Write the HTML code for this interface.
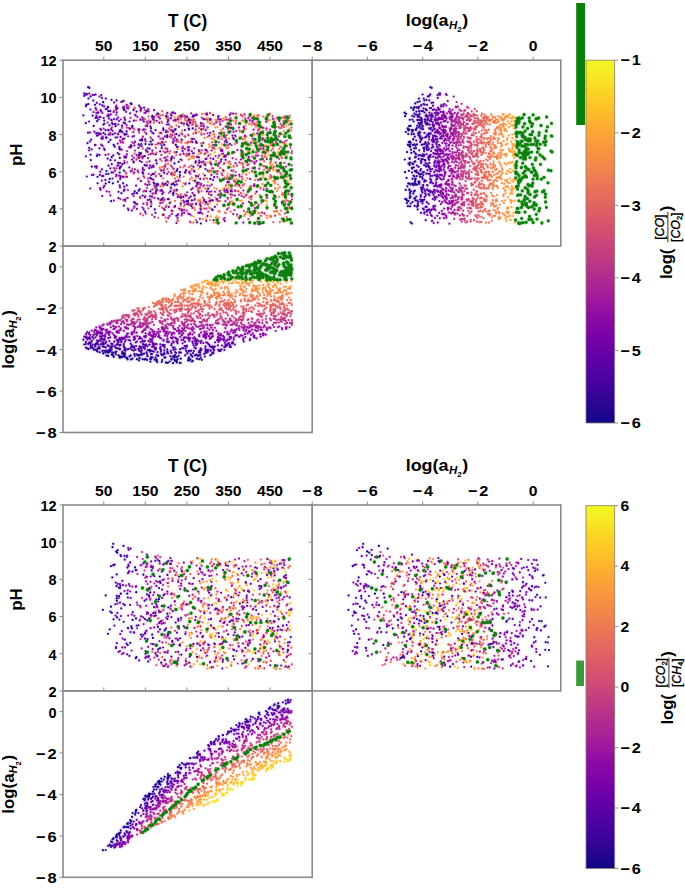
<!DOCTYPE html><html><head><meta charset="utf-8"><style>html,body{margin:0;padding:0;background:#fff;width:685px;height:894px;overflow:hidden}svg{display:block;font-family:"Liberation Sans",sans-serif}</style></head><body><svg width="685" height="894" viewBox="0 0 685 894" font-family="Liberation Sans, sans-serif" font-weight="bold"><rect width="685" height="894" fill="#fff"/><defs><filter id="bl" x="-5%" y="-5%" width="110%" height="110%"><feGaussianBlur in="SourceGraphic" stdDeviation="1.40" result="w"/><feComponentTransfer in="w" result="w2"><feFuncA type="linear" slope="0.35"/></feComponentTransfer><feGaussianBlur in="SourceGraphic" stdDeviation="0.50" result="s"/><feMerge><feMergeNode in="w2"/><feMergeNode in="s"/></feMerge></filter><clipPath id="cA1"><rect x="63.0" y="60.2" width="249.2" height="185.9"/></clipPath><clipPath id="cB1"><rect x="312.2" y="60.2" width="248.6" height="185.9"/></clipPath><clipPath id="cC1"><rect x="63.0" y="246.1" width="249.2" height="186.4"/></clipPath><clipPath id="cA2"><rect x="63.0" y="505.0" width="249.2" height="185.9"/></clipPath><clipPath id="cB2"><rect x="312.2" y="505.0" width="248.6" height="185.9"/></clipPath><clipPath id="cC2"><rect x="63.0" y="690.9" width="249.2" height="186.4"/></clipPath></defs><g clip-path="url(#cA1)"><g filter="url(#bl)"><g fill="none" stroke-linecap="round"><path stroke="#da5a6a" stroke-width="2.20" d="M160.2 169.3h0M285.3 145.2h0M161.6 191.3h0M285.1 203.2h0M248.7 164.2h0M275.2 156.6h0M188.2 118.3h0M180.5 118.4h0M182.0 160.3h0M253.8 205.3h0M143.4 156.3h0M176.5 193.8h0M252.7 211.4h0M149.2 182.7h0M186.9 155.9h0M264.7 139.7h0M220.9 195.2h0M154.2 120.8h0M162.3 111.2h0M178.8 180.1h0M185.1 194.7h0M162.5 214.8h0M229.9 120.4h0M243.2 167.8h0M192.0 125.0h0M280.2 173.0h0M285.2 118.4h0M180.2 167.2h0M181.6 122.7h0M162.7 115.2h0M266.3 151.2h0M285.3 191.9h0M209.6 208.0h0M181.1 194.7h0M165.6 217.6h0M243.4 144.7h0M270.1 163.0h0M173.8 182.5h0M159.5 206.1h0M243.0 139.3h0M220.1 168.0h0M243.7 153.5h0M287.1 145.8h0M280.6 166.0h0M203.2 186.5h0M219.2 133.2h0M170.8 126.3h0M175.1 178.6h0M195.8 204.4h0M288.4 201.2h0M189.7 166.5h0M160.4 115.5h0M226.4 126.7h0M283.3 117.5h0M277.4 178.7h0M214.6 137.0h0M225.9 185.4h0M202.2 150.4h0M209.7 162.3h0M280.1 165.7h0M144.9 119.2h0M251.2 199.2h0M270.8 145.3h0M270.5 175.0h0M249.2 197.6h0M275.0 122.4h0M284.4 143.4h0M263.6 128.0h0M143.1 215.3h0M275.1 154.8h0M221.5 154.1h0M233.3 171.3h0M166.4 221.7h0M221.1 180.5h0M228.6 207.9h0M235.8 182.2h0M190.6 122.8h0M166.6 115.0h0M223.0 128.7h0M274.8 139.5h0M201.6 191.3h0M138.9 178.3h0M174.2 174.2h0M200.9 153.2h0M230.9 178.4h0M233.4 170.4h0M137.4 157.1h0M189.1 121.2h0M245.5 141.7h0M199.3 128.2h0M273.2 168.4h0M143.0 148.5h0M270.5 217.0h0M163.2 199.7h0M246.3 174.6h0M180.7 205.7h0"/><path stroke="#d04d73" stroke-width="2.20" d="M283.7 201.0h0M191.4 138.8h0M242.8 185.6h0M152.3 152.5h0M176.7 141.7h0M167.5 169.1h0M188.0 200.7h0M188.6 135.4h0M223.6 205.1h0M284.7 141.6h0M151.4 204.0h0M283.6 120.9h0M290.0 202.3h0M271.3 150.5h0M226.7 135.1h0M261.1 137.9h0M291.4 127.6h0M148.4 208.4h0M193.9 119.7h0M138.0 129.4h0M238.6 184.5h0M220.4 148.2h0M287.9 183.5h0M259.1 145.5h0M282.1 157.8h0M200.4 201.6h0M169.2 128.4h0M202.2 113.8h0M140.7 156.4h0M274.2 205.7h0M216.8 163.6h0M236.2 159.3h0M289.5 115.9h0M258.5 115.2h0M163.8 200.8h0M256.8 142.5h0M273.8 195.1h0M155.4 144.5h0M198.8 192.6h0M150.7 200.7h0M139.1 132.7h0M146.5 151.4h0M174.8 152.6h0M217.6 221.4h0M195.9 220.2h0M162.2 207.8h0M242.6 179.0h0M246.2 123.0h0M140.5 198.1h0M235.8 172.0h0M244.7 143.2h0M133.9 108.8h0M185.4 118.9h0M197.9 189.7h0M212.2 142.3h0M208.3 211.7h0M278.4 178.5h0M148.7 116.5h0M272.5 115.9h0M160.6 202.6h0M134.6 153.5h0M187.9 134.7h0M226.0 178.3h0M260.5 179.2h0M273.6 146.2h0M235.9 123.6h0M263.1 166.0h0M170.6 130.3h0M280.6 123.9h0M136.6 204.5h0M145.5 129.5h0M148.4 154.5h0M167.6 156.7h0M282.5 219.8h0M182.6 115.1h0M134.4 129.4h0M291.9 151.1h0M278.5 127.2h0M140.6 111.3h0M132.2 168.9h0M264.2 161.3h0M285.0 213.4h0M243.0 185.1h0M252.0 156.5h0"/><path stroke="#e97257" stroke-width="2.20" d="M258.6 124.5h0M162.0 184.6h0M248.3 159.1h0M230.8 211.6h0M240.9 188.0h0M252.9 140.3h0M166.4 118.1h0M232.5 185.4h0M204.7 138.0h0M168.3 163.9h0M281.1 147.1h0M278.9 197.0h0M240.9 154.1h0M185.2 173.1h0M194.0 156.6h0M172.9 211.4h0M178.7 122.2h0M187.2 142.0h0M193.3 222.7h0M183.3 196.7h0M158.2 142.8h0M275.9 138.1h0M271.2 144.8h0M245.2 214.0h0M159.7 167.5h0M274.6 183.5h0M251.6 120.0h0M172.8 175.3h0M170.9 160.6h0M169.0 118.3h0M230.7 164.2h0M253.5 157.0h0M221.9 138.9h0M257.4 115.4h0M159.2 199.6h0M253.8 143.0h0M163.2 178.3h0M219.7 201.1h0M161.6 121.6h0M267.2 209.0h0M209.3 171.7h0M198.6 200.9h0M247.5 178.3h0M228.2 153.0h0M198.2 156.6h0M271.2 165.7h0M287.2 120.4h0M187.1 195.9h0M266.4 215.5h0M282.1 194.5h0M165.9 141.8h0M162.7 186.3h0M175.0 200.9h0M278.1 117.1h0M228.5 188.5h0M277.0 171.9h0M152.9 118.2h0M177.3 119.0h0M172.0 172.7h0M281.9 153.6h0M158.9 114.8h0M290.7 144.0h0M224.8 119.7h0M224.4 188.4h0M159.3 132.9h0M251.4 142.3h0M244.5 129.7h0M156.0 175.7h0M233.2 120.6h0M221.2 130.5h0M163.2 214.0h0M232.7 178.0h0M255.1 180.0h0M291.0 130.3h0M273.9 211.4h0M263.3 116.7h0M177.9 214.5h0M235.0 180.3h0M188.7 159.5h0M222.9 132.5h0M267.8 171.7h0M167.7 119.6h0M157.1 144.5h0M199.2 174.6h0M204.1 178.5h0M189.9 179.5h0M288.6 124.7h0M205.2 188.5h0M194.8 210.1h0M281.1 210.6h0M227.3 176.4h0M163.1 151.0h0M249.3 123.9h0M289.1 121.2h0M191.6 215.4h0M244.6 138.4h0M266.3 130.0h0M183.3 167.4h0M234.9 144.1h0M209.5 146.7h0M171.6 174.8h0M183.7 176.8h0M216.3 222.7h0M169.5 153.4h0"/><path stroke="#1b068d" stroke-width="2.20" d="M175.0 206.2h0M103.2 102.2h0M124.5 109.9h0M191.9 200.4h0M119.8 168.6h0M167.9 199.0h0M176.5 152.1h0M161.8 199.2h0M136.9 193.2h0M162.1 142.2h0M189.1 129.5h0M201.8 145.8h0M120.0 167.3h0M120.2 130.2h0M122.4 164.1h0M124.2 134.0h0M150.9 206.3h0M156.8 163.5h0M169.7 203.1h0M139.0 130.4h0M174.4 190.5h0M144.7 165.0h0M112.9 183.3h0M180.7 159.5h0M150.6 141.7h0M126.4 134.2h0M108.3 116.5h0M175.8 144.8h0M176.8 170.8h0M171.7 158.2h0M165.9 132.0h0M154.5 183.7h0M127.6 198.0h0M156.7 189.4h0M188.1 201.2h0M177.7 146.8h0M111.8 157.1h0M127.3 107.7h0M173.1 112.7h0M171.3 159.0h0M157.3 113.8h0M179.9 172.2h0M142.6 195.6h0M123.8 108.2h0M190.4 119.8h0M132.4 125.8h0M118.5 198.0h0M192.7 128.4h0M189.4 183.4h0M130.9 145.3h0M119.7 172.5h0M106.5 171.0h0M176.4 134.0h0M108.0 107.2h0M113.7 144.9h0M126.6 131.4h0M199.3 162.6h0M156.3 186.3h0M121.4 131.7h0M176.9 189.9h0M139.6 152.8h0M166.2 116.2h0M150.4 177.9h0M120.2 178.8h0M147.1 126.0h0"/><path stroke="#f68d45" stroke-width="2.20" d="M188.4 154.9h0M210.6 154.4h0M289.5 117.5h0M198.7 131.8h0M251.7 124.9h0M256.1 127.5h0M269.7 178.3h0M224.8 119.3h0M288.0 194.6h0M223.7 171.5h0M185.1 120.5h0M263.3 177.4h0M242.0 120.3h0M212.6 114.5h0M257.0 203.0h0M215.5 127.4h0M235.3 122.1h0M242.7 173.3h0M183.8 125.2h0M270.4 141.0h0M207.3 157.5h0M195.8 143.2h0M291.4 138.2h0M214.0 134.6h0M193.9 170.4h0M271.1 143.1h0M265.5 150.0h0M286.2 175.1h0M253.1 150.2h0M278.7 213.5h0M189.6 158.9h0M213.3 124.6h0M182.6 186.4h0M272.8 168.4h0M183.5 183.2h0M194.0 157.9h0M269.6 120.0h0M215.6 119.9h0M183.7 116.4h0M269.5 177.1h0M202.5 114.0h0M192.7 117.1h0M278.6 152.3h0M223.4 171.4h0M185.2 143.1h0M241.0 163.3h0M255.4 124.1h0M259.6 195.0h0M252.3 196.2h0M229.0 138.7h0M280.0 214.7h0M202.8 219.1h0M263.0 130.6h0M240.1 200.9h0M243.3 166.0h0M287.6 180.9h0M236.3 179.0h0M259.2 129.2h0M200.8 129.5h0M283.0 126.6h0M290.1 183.8h0M280.8 134.3h0M240.3 123.7h0M185.0 154.5h0M255.3 119.2h0M229.2 163.8h0M288.8 208.7h0M284.2 145.1h0M258.0 213.2h0M286.8 155.5h0M245.8 213.1h0M262.6 173.2h0M246.5 136.6h0M218.9 217.7h0M227.6 161.8h0M254.5 134.4h0M267.7 140.7h0M280.0 146.4h0M267.1 217.9h0M216.3 121.7h0M201.8 130.3h0M276.7 177.1h0M189.6 118.6h0M278.1 153.1h0M228.2 188.3h0M274.9 211.7h0M231.7 127.3h0M257.4 133.6h0M266.2 157.0h0M195.6 126.8h0M214.2 188.0h0M266.7 204.5h0M244.0 128.5h0M221.3 119.2h0M286.9 177.2h0M237.4 216.6h0M181.3 201.1h0M291.3 208.2h0"/><path stroke="#5502a4" stroke-width="2.20" d="M213.6 220.2h0M154.1 110.2h0M149.2 168.2h0M153.4 133.4h0M100.6 189.8h0M143.2 173.7h0M182.1 213.6h0M209.5 135.7h0M85.9 105.7h0M186.0 170.2h0M213.0 180.0h0M145.1 139.3h0M87.5 143.2h0M143.0 156.8h0M163.3 128.3h0M186.9 124.2h0M186.9 154.0h0M171.3 173.7h0M217.9 119.6h0M183.3 196.9h0M163.6 215.0h0M229.8 114.8h0M225.6 156.4h0M143.9 121.5h0M118.5 191.8h0M97.6 183.3h0M162.4 194.0h0M211.4 195.1h0M205.5 149.8h0M160.4 143.6h0M106.2 137.4h0M130.7 171.3h0M214.9 206.8h0M209.8 119.9h0M149.6 148.6h0M145.1 211.7h0M196.2 203.7h0M91.9 175.0h0M224.3 136.9h0M121.4 193.2h0M152.8 173.9h0M139.7 189.3h0M226.9 142.3h0M194.5 115.8h0M212.7 210.0h0M184.7 116.3h0M225.6 159.8h0M98.7 119.5h0M131.9 210.5h0M112.5 178.5h0M222.0 149.8h0M156.0 191.1h0M96.8 102.8h0M97.0 135.7h0M230.9 124.4h0M102.8 138.2h0M156.0 160.4h0M136.1 185.6h0M160.3 190.5h0M200.7 212.4h0M164.6 209.8h0M111.2 129.2h0M152.2 116.5h0M118.3 124.5h0M117.5 108.0h0M116.6 100.4h0M174.6 206.9h0M143.6 209.3h0M147.4 185.1h0M83.4 115.3h0M133.9 202.2h0M146.3 133.7h0M120.0 163.0h0M91.1 139.7h0M227.5 191.1h0M140.9 181.1h0M234.8 195.5h0M164.7 165.9h0M229.8 143.9h0M103.7 118.0h0M118.1 162.8h0M123.8 190.8h0M105.4 179.9h0M225.5 145.0h0M172.9 142.2h0M120.6 136.9h0M162.3 142.6h0M109.4 125.3h0M114.1 102.5h0M193.5 166.8h0M195.9 132.9h0M226.5 189.9h0"/><path stroke="#a21d9a" stroke-width="2.20" d="M211.0 171.2h0M145.8 213.6h0M242.9 203.4h0M282.0 203.4h0M164.0 208.8h0M225.4 201.2h0M214.9 191.7h0M165.8 206.9h0M236.2 131.1h0M243.4 158.3h0M256.7 155.7h0M110.1 133.2h0M146.8 121.5h0M148.0 158.1h0M142.9 130.0h0M137.4 117.0h0M264.6 156.6h0M109.3 191.8h0M196.3 126.0h0M103.7 128.6h0M248.3 118.2h0M179.7 177.1h0M249.8 120.4h0M161.8 189.9h0M191.2 113.3h0M187.3 121.2h0M184.8 172.3h0M133.3 132.2h0M258.0 121.5h0M254.5 124.5h0M266.9 188.8h0M249.6 116.2h0M248.1 168.9h0M199.9 218.8h0M247.3 211.9h0M139.4 129.4h0M203.4 128.6h0M133.6 196.2h0M207.4 203.5h0M139.2 129.2h0M264.4 213.4h0M189.1 198.2h0M257.3 133.4h0M198.2 212.7h0M173.1 138.8h0M173.2 142.9h0M121.1 102.0h0M203.9 185.3h0M255.9 125.3h0M134.8 202.3h0M110.6 134.5h0M263.5 145.6h0M185.0 149.0h0M163.1 197.8h0M130.5 117.8h0M226.8 119.6h0M250.9 142.8h0M111.8 120.3h0M124.2 106.7h0M267.8 132.5h0M252.1 171.0h0M202.8 124.7h0M127.0 107.4h0M225.5 213.0h0M274.0 205.2h0M261.1 178.9h0M286.5 140.5h0M142.8 167.8h0M244.6 114.4h0M166.3 130.6h0M167.6 117.0h0M260.2 159.6h0M142.4 158.3h0M147.1 204.7h0M244.8 136.7h0M286.7 122.3h0M148.5 181.4h0M279.4 121.1h0M116.4 168.3h0M244.5 128.9h0M246.8 162.0h0M237.1 214.6h0M201.4 134.5h0M207.5 133.3h0M162.1 190.9h0M211.7 184.7h0M178.1 119.6h0M269.5 170.5h0M167.1 173.8h0M107.7 122.6h0M187.2 192.4h0M133.9 143.4h0M117.3 137.4h0M140.0 107.2h0M192.8 188.1h0M202.3 213.7h0M270.6 133.2h0M238.9 127.4h0M252.7 138.5h0M162.5 183.0h0M210.6 158.3h0M128.0 190.0h0M285.9 152.1h0M256.1 152.3h0M277.9 140.1h0M203.8 179.1h0M128.6 106.6h0M200.7 166.1h0M184.1 209.9h0M289.6 190.5h0M258.6 205.1h0M173.6 169.1h0M193.7 170.8h0M285.9 176.0h0M165.6 152.5h0M239.5 162.4h0M140.8 153.2h0M107.2 115.9h0M241.7 195.9h0M182.2 134.3h0"/><path stroke="#b02991" stroke-width="2.20" d="M153.8 119.2h0M267.1 197.9h0M162.5 202.7h0M226.3 155.2h0M170.8 114.1h0M111.8 127.4h0M234.5 152.3h0M185.6 183.3h0M276.1 142.2h0M161.3 154.8h0M241.1 150.2h0M224.4 163.1h0M142.0 139.2h0M278.7 136.4h0M136.5 159.6h0M289.8 207.6h0M114.0 168.2h0M212.6 200.4h0M285.1 175.0h0M227.9 145.3h0M152.3 189.4h0M201.8 117.7h0M126.9 127.5h0M287.0 209.3h0M228.5 119.7h0M232.2 195.0h0M132.0 171.2h0M255.8 155.5h0M123.7 177.2h0M123.1 142.7h0M259.2 168.7h0M182.7 146.6h0M139.9 197.1h0M174.5 174.8h0M199.8 187.9h0M184.3 202.0h0M140.5 213.7h0M133.9 157.8h0M172.1 134.9h0M251.8 122.8h0M160.2 159.2h0M206.9 178.5h0M114.2 110.8h0M167.6 131.9h0M145.8 112.7h0M225.5 126.6h0M170.9 160.6h0M248.6 158.5h0M224.1 132.8h0M188.2 203.2h0M184.6 165.7h0M169.9 136.4h0M174.3 207.0h0M195.6 129.7h0M217.2 174.0h0M230.7 194.4h0M148.2 178.5h0M135.0 150.6h0M234.5 210.0h0M291.8 165.3h0M206.1 159.0h0M145.3 196.0h0M182.2 210.2h0M168.6 172.0h0M143.6 191.4h0M127.2 198.0h0M274.1 132.2h0M259.2 133.5h0M150.2 122.8h0M117.3 165.7h0M132.1 142.3h0M272.8 118.7h0M244.0 197.1h0M118.3 134.3h0M233.5 175.6h0M116.4 114.8h0M120.3 199.1h0M215.6 156.2h0M250.8 186.2h0M242.0 145.2h0M266.2 121.9h0M218.0 116.9h0M254.3 123.6h0M121.8 149.8h0M131.3 103.8h0M194.8 195.7h0M232.6 158.2h0M181.6 215.4h0M201.3 125.5h0M209.7 185.9h0M262.3 140.2h0M132.6 128.2h0M225.1 192.0h0M218.9 142.3h0M254.4 162.1h0M191.2 141.6h0M217.4 177.1h0M237.0 165.6h0M116.6 109.5h0M147.8 122.7h0M222.6 121.0h0M194.1 148.3h0M291.6 153.1h0M292.0 199.5h0M143.6 176.3h0"/><path stroke="#fa9c3c" stroke-width="2.20" d="M263.3 149.7h0M221.2 193.3h0M256.6 116.4h0M245.4 125.7h0M241.7 114.4h0M203.3 208.6h0M243.8 144.6h0M255.8 124.6h0M210.1 220.1h0M206.2 218.6h0M251.7 162.1h0M268.8 116.1h0M211.2 146.6h0M268.1 151.7h0M254.3 115.3h0M210.8 216.4h0M213.3 148.8h0M198.7 153.8h0M249.3 172.5h0M191.2 156.5h0M207.6 162.5h0M269.2 215.8h0M198.7 169.0h0M227.5 173.6h0M209.0 193.9h0M236.5 191.0h0M211.7 123.7h0M273.1 181.3h0M259.6 213.2h0M225.2 212.1h0M254.5 186.0h0M276.9 191.0h0M280.9 151.7h0M223.2 118.5h0M253.2 117.1h0M191.7 139.9h0M218.5 163.1h0M212.3 134.4h0M233.1 137.8h0M249.2 187.4h0M265.3 200.3h0M191.1 170.8h0M290.7 179.7h0M210.5 202.7h0M277.9 188.9h0M216.0 219.8h0M202.1 144.1h0M203.4 173.8h0M240.3 207.6h0M267.4 121.3h0M269.0 154.9h0M196.6 182.7h0M254.2 115.5h0M198.4 199.8h0M229.1 193.1h0M219.5 148.6h0M247.7 150.9h0M257.3 117.4h0M285.9 220.8h0M239.1 186.3h0M245.5 180.5h0M283.8 131.1h0M263.9 186.9h0M194.7 207.9h0M242.3 162.5h0M289.3 129.2h0M263.2 135.5h0M272.9 164.6h0M217.6 127.1h0M274.0 143.8h0M207.9 117.9h0M199.4 189.8h0M195.9 178.3h0M275.1 183.1h0M215.4 149.3h0M211.1 171.6h0M211.5 121.3h0M207.2 189.5h0M193.7 216.5h0M276.1 211.5h0M253.8 213.2h0M215.2 197.3h0M192.6 180.5h0M247.5 141.6h0M208.5 207.0h0M245.2 138.3h0M231.8 200.8h0"/><path stroke="#8606a6" stroke-width="2.20" d="M253.6 129.6h0M265.7 153.0h0M206.4 150.1h0M220.8 161.3h0M242.5 170.5h0M94.9 145.2h0M153.6 167.0h0M240.9 159.5h0M204.1 126.3h0M117.7 143.6h0M253.9 185.8h0M192.5 193.1h0M231.1 127.9h0M188.4 125.5h0M204.9 119.2h0M100.3 128.8h0M244.9 135.7h0M155.2 187.1h0M179.0 126.8h0M158.6 136.4h0M144.1 170.1h0M112.5 130.8h0M131.4 104.2h0M134.3 172.6h0M117.7 133.8h0M247.5 164.9h0M137.3 204.0h0M159.3 122.7h0M260.7 148.8h0M153.3 179.7h0M106.6 191.3h0M108.5 154.3h0M166.6 159.8h0M263.1 138.6h0M123.7 100.9h0M180.2 154.6h0M91.7 149.4h0M198.9 157.3h0M199.4 151.3h0M152.4 117.8h0M221.0 150.7h0M145.8 150.1h0M151.3 175.0h0M190.1 214.5h0M101.8 180.6h0M101.4 111.5h0M203.4 142.8h0M151.5 179.0h0M263.4 148.4h0M205.1 163.7h0M171.7 214.0h0M127.0 176.8h0M164.9 136.4h0M183.3 200.5h0M148.6 111.5h0M208.9 194.0h0M156.1 160.6h0M262.6 127.6h0M98.8 134.8h0M145.6 141.3h0M209.1 192.2h0M171.9 156.7h0M203.4 161.7h0M205.0 153.7h0M217.9 201.0h0M263.7 189.6h0M239.3 174.8h0M237.4 150.0h0M97.6 154.3h0M260.1 135.1h0M218.3 119.1h0M235.6 175.5h0M154.0 117.0h0M136.7 155.0h0M96.5 167.9h0M211.4 174.8h0M103.4 187.6h0M229.7 177.8h0M107.0 109.0h0M156.0 193.2h0M199.3 160.6h0M167.1 137.2h0M116.5 105.6h0M245.3 118.9h0M181.7 116.6h0M109.0 118.6h0M132.1 159.6h0M213.0 168.4h0M108.1 129.9h0M229.3 179.0h0M210.1 132.8h0M105.6 154.9h0M219.8 190.8h0M211.4 164.6h0M110.3 195.3h0M227.6 197.8h0M229.6 127.8h0M181.9 210.8h0M207.2 151.6h0M174.3 140.6h0M206.7 114.8h0M149.5 161.3h0M252.8 121.1h0M153.4 165.7h0M100.0 188.2h0M101.4 111.4h0M188.4 213.7h0M254.3 184.4h0M212.6 200.3h0M146.1 191.2h0M223.0 153.5h0M211.6 150.5h0M239.2 218.3h0M127.9 208.5h0M165.5 148.5h0M119.0 121.0h0M132.2 194.1h0M251.0 196.6h0M235.4 185.4h0M206.0 202.2h0M158.1 184.9h0M168.3 218.1h0"/><path stroke="#310597" stroke-width="2.20" d="M122.2 101.5h0M210.3 178.9h0M195.8 161.4h0M151.9 144.4h0M178.7 161.8h0M136.6 111.6h0M139.4 154.3h0M88.5 98.5h0M188.9 119.6h0M104.2 120.5h0M200.9 223.5h0M147.7 148.3h0M107.9 106.9h0M138.6 144.3h0M137.7 171.0h0M96.9 155.9h0M124.8 157.3h0M170.4 191.4h0M161.1 176.1h0M151.0 128.2h0M147.4 151.7h0M134.7 191.4h0M191.5 205.9h0M109.7 178.9h0M115.9 107.3h0M85.9 123.1h0M164.5 184.7h0M123.1 183.3h0M174.8 185.2h0M150.4 191.4h0M106.2 174.0h0M93.7 125.9h0M105.8 98.6h0M210.7 200.3h0M158.1 198.5h0M122.1 125.7h0M152.5 115.8h0M103.5 133.0h0M161.9 145.6h0M192.4 138.9h0M111.7 172.4h0M115.6 126.2h0M138.7 190.7h0M145.5 144.1h0M173.3 183.7h0M123.9 170.6h0M171.6 184.4h0M196.8 142.8h0M204.9 175.5h0M198.1 176.4h0M129.5 121.5h0M197.1 222.3h0M161.7 148.1h0M185.1 136.6h0M95.6 94.5h0M108.6 142.1h0M110.4 139.9h0M156.7 184.6h0M134.4 206.7h0M102.3 105.3h0M165.5 183.6h0M176.8 139.5h0M130.7 103.4h0M199.0 183.2h0M141.0 153.4h0M111.1 201.2h0M180.8 196.9h0M112.1 123.1h0M97.5 176.8h0M112.8 134.3h0M142.1 140.5h0M88.4 104.0h0M194.8 180.9h0M109.2 182.2h0M115.4 123.8h0M163.4 130.1h0M90.8 160.1h0M190.7 196.5h0M99.6 155.1h0M116.4 174.8h0M196.8 114.5h0M173.1 193.6h0M106.4 137.8h0M164.3 167.8h0M110.2 111.2h0M151.1 202.0h0M155.6 130.1h0M91.8 166.6h0M123.9 205.7h0M93.3 100.5h0M175.1 129.6h0M142.6 172.2h0M99.8 116.8h0M146.9 165.5h0M188.5 149.7h0M97.9 112.5h0M113.3 155.3h0M180.8 203.5h0M125.0 119.8h0M105.7 183.6h0M174.5 163.4h0M96.9 117.8h0M108.5 173.8h0M200.2 178.8h0M86.6 104.6h0M158.2 113.5h0M108.2 111.0h0"/><path stroke="#bc3587" stroke-width="2.20" d="M252.4 168.0h0M279.3 158.8h0M162.7 138.8h0M241.9 176.6h0M203.2 123.8h0M178.1 117.7h0M225.7 137.7h0M284.1 187.5h0M128.9 147.0h0M184.8 205.0h0M122.0 127.8h0M230.7 175.2h0M143.5 118.3h0M147.3 124.2h0M284.8 205.3h0M258.3 155.5h0M144.7 132.0h0M277.0 118.1h0M195.2 121.8h0M188.9 204.9h0M270.0 129.6h0M144.7 190.9h0M247.7 192.1h0M164.8 199.6h0M251.8 161.0h0M231.7 189.2h0M223.6 219.2h0M281.1 152.7h0M280.8 168.1h0M171.1 165.7h0M275.1 215.7h0M291.9 196.7h0M174.8 172.1h0M230.5 118.0h0M235.6 136.5h0M223.4 219.5h0M206.4 208.6h0M248.4 219.0h0M174.5 190.3h0M217.8 171.2h0M165.3 166.7h0M282.8 142.6h0M124.2 161.1h0M257.2 221.6h0M178.3 195.0h0M159.4 174.2h0M187.0 154.4h0M152.0 214.8h0M193.7 153.2h0M145.5 125.8h0M178.2 214.1h0M132.2 155.8h0M236.6 140.7h0M265.9 146.3h0M147.4 110.9h0M146.9 202.8h0M216.1 171.6h0M124.0 156.5h0M133.7 173.5h0M286.0 166.7h0M227.5 179.3h0M288.6 194.0h0M231.5 145.1h0M190.7 204.2h0M192.5 204.0h0M235.9 113.7h0M239.1 194.8h0M222.4 175.2h0M139.7 140.0h0M242.7 163.8h0M167.7 160.6h0M174.0 157.7h0M219.7 122.2h0M125.7 176.6h0M192.9 124.2h0M281.8 125.8h0M155.9 147.9h0M127.1 151.2h0M229.6 161.7h0M207.1 185.5h0M164.6 152.3h0M174.6 134.6h0M191.7 165.5h0M204.6 208.5h0M171.4 136.7h0M283.1 125.6h0M204.2 134.0h0M240.9 115.1h0M202.9 197.6h0M146.9 188.0h0M270.9 155.7h0M262.5 152.4h0M178.3 141.4h0M186.8 210.7h0M172.4 167.4h0M160.4 138.7h0M207.2 119.7h0M137.8 179.0h0M165.5 157.4h0M238.4 191.3h0M273.7 166.9h0M229.9 202.0h0"/><path stroke="#43039e" stroke-width="2.20" d="M90.5 154.8h0M150.5 121.5h0M224.4 155.6h0M120.0 187.3h0M180.2 116.2h0M100.7 133.9h0M186.2 201.3h0M98.3 112.7h0M171.4 115.6h0M112.6 124.2h0M149.9 199.6h0M110.5 160.2h0M173.5 192.6h0M155.8 154.3h0M104.0 148.5h0M191.4 189.5h0M167.1 135.3h0M85.8 94.4h0M160.8 132.9h0M95.0 104.8h0M214.2 177.2h0M205.7 202.1h0M95.5 117.8h0M179.1 135.6h0M133.6 161.6h0M198.9 150.3h0M212.0 209.4h0M187.2 204.0h0M220.3 124.5h0M180.0 175.1h0M160.1 151.3h0M188.7 155.0h0M220.3 119.6h0M124.3 138.5h0M139.9 161.0h0M221.4 159.3h0M144.1 107.6h0M84.2 95.8h0M105.7 109.0h0M164.1 172.8h0M157.5 183.8h0M92.6 115.6h0M128.2 108.5h0M189.9 122.8h0M167.6 181.7h0M88.2 87.2h0M144.8 156.1h0M111.8 164.1h0M90.6 96.4h0M176.0 181.5h0M213.2 115.0h0M107.7 158.6h0M187.0 116.7h0M167.3 136.2h0M193.0 115.5h0M152.1 196.7h0M170.8 187.6h0M116.7 119.3h0M125.1 123.3h0M185.4 172.1h0M141.3 108.3h0M181.0 115.7h0M96.2 133.4h0M125.1 199.6h0M207.6 127.4h0M213.3 158.9h0M124.6 189.7h0M205.3 165.1h0M119.8 149.3h0M89.2 147.8h0M131.4 146.3h0M108.7 134.7h0M130.3 147.6h0M111.3 119.9h0M132.7 136.6h0M99.4 148.3h0M194.0 195.1h0M140.9 140.3h0M97.1 121.2h0M175.2 119.9h0M210.6 119.2h0M118.0 181.7h0M213.4 131.5h0M111.5 99.8h0M119.8 157.9h0M102.2 176.1h0M95.0 166.5h0M132.1 127.0h0M114.7 146.7h0M167.3 185.2h0M207.1 113.7h0M149.4 144.5h0M103.4 124.6h0M138.4 148.0h0M115.6 137.5h0M213.3 147.9h0M218.2 137.9h0M161.1 200.0h0M200.9 123.2h0M188.7 128.6h0M208.2 188.7h0M119.3 148.2h0M210.6 163.0h0M123.8 122.7h0M141.7 139.3h0M134.2 193.4h0M204.2 200.7h0M154.8 209.4h0M219.1 155.6h0M200.6 208.6h0M168.2 120.2h0M175.6 129.0h0M199.5 212.9h0M206.9 191.4h0M205.5 169.0h0M89.3 87.9h0M108.5 165.6h0M135.5 203.4h0M147.8 200.0h0M200.2 166.9h0M207.8 170.7h0M164.3 144.8h0M139.1 105.5h0M201.4 129.3h0M133.6 110.1h0M153.9 174.1h0M146.5 111.2h0M124.4 163.1h0M139.1 155.4h0M126.8 185.3h0M205.6 159.1h0M95.7 108.1h0M102.6 145.8h0M141.3 144.2h0"/><path stroke="#c6417d" stroke-width="2.20" d="M168.9 192.8h0M281.7 218.5h0M199.6 150.2h0M221.6 173.4h0M205.6 113.7h0M240.8 193.1h0M260.9 215.8h0M188.3 142.1h0M281.1 128.0h0M208.9 170.8h0M151.2 138.2h0M220.6 193.1h0M200.6 185.7h0M153.6 154.0h0M216.3 199.1h0M138.4 172.4h0M125.5 172.4h0M232.1 178.7h0M213.9 147.7h0M271.3 176.7h0M258.0 130.4h0M242.7 116.4h0M154.2 185.7h0M190.7 222.5h0M213.1 148.2h0M128.3 106.9h0M167.7 131.3h0M243.9 211.0h0M214.4 123.8h0M141.5 156.7h0M189.3 147.1h0M123.2 199.9h0M185.3 115.9h0M144.8 110.0h0M259.0 129.4h0M134.7 107.9h0M210.0 113.2h0M182.7 147.3h0M198.2 165.6h0M202.5 123.8h0M176.5 190.8h0M133.6 208.3h0M177.4 220.4h0M290.5 147.5h0M171.2 188.7h0M150.5 199.5h0M144.5 177.6h0M156.2 115.3h0M136.1 120.5h0M126.3 173.5h0M286.5 200.7h0M243.4 167.0h0M260.5 188.5h0M234.0 181.1h0M154.2 193.3h0M276.0 208.0h0M239.7 176.6h0M161.4 133.4h0M262.0 155.8h0M227.9 128.0h0M163.1 138.3h0M184.8 117.3h0M190.8 120.2h0M284.5 116.6h0M208.0 204.5h0M152.7 153.7h0M137.9 170.3h0M129.2 128.0h0M186.5 155.6h0M146.8 162.3h0M273.6 119.4h0M197.4 126.0h0M196.7 115.2h0M199.8 204.6h0M284.4 162.9h0M128.3 128.1h0M181.2 133.4h0M127.2 162.4h0M239.6 130.6h0M148.7 173.8h0M155.9 176.3h0M266.3 116.9h0M286.8 174.6h0M150.4 137.3h0M274.8 128.0h0M122.5 141.3h0M189.9 221.6h0"/><path stroke="#f0804e" stroke-width="2.20" d="M214.5 134.4h0M216.7 188.8h0M209.5 193.0h0M274.3 121.2h0M209.2 144.4h0M207.3 128.4h0M180.4 119.6h0M267.5 146.0h0M230.9 203.3h0M222.7 169.8h0M253.3 133.4h0M264.2 145.8h0M250.8 145.2h0M192.0 157.6h0M181.6 148.4h0M219.4 138.8h0M189.4 171.5h0M178.6 116.6h0M179.8 181.0h0M235.5 182.7h0M177.5 149.1h0M230.2 184.3h0M177.4 176.8h0M286.2 199.5h0M219.7 148.1h0M181.3 142.5h0M215.9 217.5h0M289.1 183.7h0M243.2 121.1h0M228.5 147.6h0M265.0 154.5h0M217.1 204.5h0M257.1 122.7h0M271.0 137.3h0M200.0 200.2h0M268.3 169.2h0M218.0 157.9h0M232.2 175.0h0M188.4 151.4h0M259.8 165.6h0M270.2 185.9h0M239.8 131.8h0M281.0 156.4h0M255.7 118.8h0M174.7 173.8h0M251.9 205.7h0M207.8 122.1h0M263.3 175.1h0M183.2 114.4h0M279.8 187.0h0M224.1 156.8h0M212.7 138.8h0M202.7 202.9h0M221.2 136.2h0M217.0 120.1h0M180.3 209.9h0M224.6 206.1h0M282.0 117.5h0M283.1 134.5h0M218.5 164.1h0M201.2 133.0h0M178.5 221.1h0M278.0 184.6h0M245.6 196.4h0M230.7 167.1h0M166.5 205.4h0M244.1 215.8h0M183.7 206.5h0M218.5 211.0h0M257.7 152.6h0M174.5 117.3h0M222.7 179.8h0M164.0 167.9h0M252.7 172.1h0M250.4 213.2h0M250.4 215.9h0M228.0 129.7h0M211.7 168.1h0M256.0 177.0h0M235.7 185.7h0M280.9 165.4h0M211.4 138.6h0M224.9 178.1h0M220.1 201.2h0M282.7 195.5h0M229.4 122.7h0M210.2 161.7h0M246.7 121.0h0M187.7 154.8h0M192.4 156.0h0M232.0 153.7h0"/><path stroke="#e26561" stroke-width="2.20" d="M260.1 147.4h0M273.0 143.2h0M170.5 201.8h0M195.5 132.1h0M261.5 203.1h0M188.9 167.3h0M187.0 122.2h0M275.2 188.4h0M251.0 187.3h0M176.5 125.4h0M216.7 200.0h0M284.0 149.7h0M178.0 140.4h0M212.1 168.6h0M191.6 177.7h0M270.0 113.7h0M273.6 125.9h0M224.8 177.7h0M219.3 193.8h0M279.8 127.9h0M267.3 120.9h0M187.3 143.1h0M271.1 216.1h0M274.6 153.5h0M163.7 142.7h0M181.2 142.3h0M276.9 210.9h0M228.5 184.8h0M264.1 169.8h0M230.0 124.8h0M284.2 127.2h0M180.7 142.5h0M179.5 115.8h0M264.9 166.1h0M197.9 187.8h0M215.5 172.6h0M207.7 137.0h0M182.1 130.6h0M286.7 217.0h0M228.3 152.3h0M208.7 171.4h0M199.2 184.1h0M229.7 177.3h0M246.9 121.0h0M233.1 202.9h0M161.0 142.8h0M162.0 122.9h0M156.6 152.7h0M195.0 198.3h0M227.9 199.2h0M260.3 187.6h0M279.9 222.2h0M271.3 178.0h0M175.3 121.2h0M209.3 198.2h0M181.2 139.1h0M223.6 164.2h0M248.0 164.3h0M203.6 163.9h0M160.5 186.3h0M195.9 123.9h0M210.1 123.3h0M236.5 120.6h0M274.6 180.9h0M168.5 182.9h0M255.3 193.6h0M176.3 155.0h0M148.9 120.4h0M259.0 150.3h0M192.9 121.4h0M197.7 164.4h0M281.6 174.3h0M155.1 188.5h0M282.5 193.0h0M196.5 176.6h0M271.2 161.6h0M200.9 207.7h0M190.2 141.7h0M193.3 133.7h0M174.5 152.0h0M170.6 134.3h0M170.2 151.2h0M234.6 204.4h0M153.9 122.9h0M279.3 149.0h0M191.8 168.8h0M155.4 172.2h0M241.3 137.2h0M272.9 148.7h0M165.6 148.1h0M226.7 148.2h0M201.1 143.4h0M273.3 222.2h0M225.6 117.2h0M224.7 188.3h0M161.6 160.8h0M192.2 120.1h0M172.0 127.2h0M231.0 197.6h0M276.2 170.0h0M262.5 184.1h0M219.6 211.7h0M165.9 164.0h0M291.7 207.2h0M158.3 218.0h0M244.2 184.1h0M162.2 167.0h0M207.5 152.4h0M281.3 118.1h0M171.0 137.5h0M232.8 204.6h0M216.1 161.0h0M205.3 204.3h0M184.6 136.1h0M258.2 206.3h0M192.7 122.4h0"/><path stroke="#6600a7" stroke-width="2.20" d="M177.6 215.0h0M197.1 156.9h0M185.0 130.1h0M90.4 109.5h0M119.3 154.3h0M142.5 207.5h0M231.9 191.5h0M224.8 221.0h0M206.3 220.8h0M124.9 156.7h0M102.5 136.6h0M152.6 140.2h0M229.0 181.9h0M233.2 113.6h0M176.9 146.9h0M103.3 175.9h0M168.7 206.9h0M177.4 169.1h0M144.9 197.3h0M153.3 119.6h0M121.2 166.3h0M101.2 144.6h0M203.4 119.0h0M119.4 131.7h0M232.5 135.6h0M135.7 115.5h0M168.8 124.5h0M142.8 169.4h0M200.7 209.6h0M182.6 150.9h0M198.5 191.6h0M104.3 185.9h0M130.0 128.8h0M171.7 210.7h0M93.5 174.7h0M128.5 210.1h0M125.6 157.7h0M166.9 124.5h0M207.4 216.1h0M101.5 138.3h0M215.1 144.9h0M173.7 130.8h0M104.4 123.7h0M195.5 114.9h0M100.6 110.1h0M117.7 153.1h0M189.3 172.1h0M116.7 112.4h0M196.3 186.2h0M168.8 199.1h0M208.5 155.6h0M155.5 212.8h0M118.3 165.3h0M119.5 146.8h0M133.8 120.7h0M243.8 126.9h0M89.9 141.5h0M92.7 94.8h0M101.2 95.1h0M101.1 129.8h0M99.9 174.9h0M176.5 223.0h0M140.7 109.9h0M167.7 122.1h0M86.4 94.5h0M118.1 117.6h0M197.2 182.7h0M137.0 208.8h0M142.6 119.9h0M122.7 139.2h0M95.5 144.9h0M218.6 116.3h0M148.3 109.3h0M85.9 156.3h0M196.0 141.4h0M89.3 93.5h0M156.6 120.8h0M195.9 175.8h0M108.3 114.5h0M130.1 113.3h0M110.3 168.4h0M90.0 132.5h0M200.7 205.8h0M201.5 162.2h0M192.8 116.7h0M173.1 195.0h0M232.6 127.9h0M104.7 149.9h0M192.4 142.2h0M122.6 176.5h0M120.6 177.0h0M143.9 129.3h0M227.3 192.3h0M224.9 141.6h0M150.4 126.3h0M101.9 97.9h0M86.8 176.5h0M153.6 182.6h0M84.3 93.4h0M88.0 132.7h0"/><path stroke="#9511a1" stroke-width="2.20" d="M256.5 161.2h0M192.5 207.9h0M235.6 163.2h0M173.6 120.5h0M235.1 135.5h0M181.0 197.9h0M164.5 158.0h0M204.1 199.5h0M142.2 117.4h0M190.2 173.7h0M167.3 149.1h0M135.1 114.8h0M178.3 180.7h0M236.8 142.7h0M124.9 135.0h0M233.2 214.2h0M209.4 201.2h0M250.4 135.1h0M182.8 148.3h0M235.0 190.7h0M118.9 175.6h0M157.1 190.3h0M102.3 112.9h0M141.9 146.3h0M176.9 184.4h0M154.5 197.9h0M252.1 117.8h0M152.6 165.9h0M134.1 136.0h0M227.1 127.2h0M150.9 130.9h0M144.4 113.0h0M262.0 212.5h0M169.6 215.9h0M194.4 139.0h0M233.5 131.7h0M246.4 194.8h0M96.3 109.9h0M213.0 145.1h0M119.9 140.5h0M224.6 218.0h0M275.7 162.6h0M282.2 154.0h0M171.6 130.2h0M163.7 184.4h0M125.1 201.1h0M266.8 159.1h0M158.5 116.9h0M110.9 114.4h0M243.4 190.5h0M154.6 217.1h0M113.6 112.1h0M239.4 185.4h0M113.9 200.6h0M266.6 128.3h0M142.9 136.7h0M145.3 184.2h0M175.1 137.4h0M227.6 182.2h0M184.1 202.6h0M182.0 140.1h0M149.6 184.5h0M200.1 203.5h0M260.7 223.7h0M201.2 126.0h0M218.4 116.3h0M152.5 193.7h0M249.1 201.9h0M160.2 203.0h0M163.0 138.9h0M245.5 160.8h0M150.0 196.2h0M100.6 117.0h0M233.2 138.0h0M206.5 159.0h0M179.2 208.6h0M126.6 125.1h0M128.1 136.3h0M201.1 183.9h0M165.6 160.8h0M99.5 96.6h0M120.8 119.5h0M185.4 184.3h0M181.5 209.4h0M120.9 142.3h0M179.6 196.9h0M216.4 122.3h0M231.4 170.5h0M255.0 208.1h0M126.4 156.7h0M113.2 172.6h0M115.0 170.7h0M143.4 203.7h0M116.1 176.3h0M134.5 145.6h0M158.5 143.5h0M99.5 133.4h0M191.8 151.1h0M230.8 113.3h0M248.8 156.8h0M120.5 176.2h0M258.2 179.9h0"/><path stroke="#7501a8" stroke-width="2.20" d="M190.2 122.7h0M139.7 145.8h0M172.9 132.1h0M102.1 138.9h0M126.7 104.9h0M124.4 117.7h0M150.6 154.1h0M152.2 132.6h0M223.4 170.6h0M177.6 217.8h0M109.1 115.1h0M243.2 132.0h0M256.6 191.7h0M188.4 125.5h0M189.3 153.8h0M105.2 134.3h0M233.7 166.4h0M224.3 190.4h0M97.5 117.5h0M122.9 107.6h0M194.6 199.8h0M243.3 222.6h0M163.8 170.3h0M187.9 147.2h0M119.7 185.3h0M93.4 112.0h0M217.1 199.1h0M193.1 153.3h0M172.2 112.5h0M209.8 119.4h0M219.3 163.1h0M183.9 123.6h0M134.8 169.3h0M194.5 171.4h0M254.6 163.4h0M138.9 157.9h0M121.0 149.3h0M87.1 94.2h0M115.0 133.3h0M222.3 150.9h0M114.9 160.3h0M211.3 191.5h0M140.2 119.7h0M220.3 133.0h0M227.1 209.3h0M195.5 162.6h0M163.4 192.4h0M188.7 150.3h0M161.4 170.7h0M105.5 130.2h0M94.3 131.7h0M226.3 140.2h0M171.0 118.3h0M250.1 179.1h0M108.9 130.3h0M229.5 123.4h0M218.3 195.0h0M124.3 186.7h0M223.5 205.8h0M219.8 179.6h0M98.0 133.2h0M104.1 106.4h0M152.4 150.6h0M218.1 165.7h0M89.0 121.5h0M183.4 153.6h0M141.8 162.0h0M126.0 111.8h0M129.3 167.3h0M230.7 190.9h0M90.3 188.5h0M96.3 113.0h0M135.0 141.7h0M122.4 131.8h0M99.8 104.3h0M205.7 130.1h0M175.1 113.3h0M177.7 197.1h0M230.3 131.4h0M167.6 151.5h0M96.8 166.3h0M181.5 123.2h0M123.8 109.6h0M175.9 120.0h0M114.1 119.1h0M102.0 169.3h0M184.2 212.8h0M233.7 138.9h0M167.3 112.9h0M100.3 171.7h0M96.4 115.8h0M218.8 136.5h0M224.2 156.8h0M249.8 160.7h0M126.8 154.3h0M185.9 195.5h0M159.9 118.5h0M94.1 95.0h0M197.4 184.2h0M102.3 196.1h0M89.2 150.3h0M176.3 215.8h0M114.8 124.1h0M220.1 197.4h0M227.7 182.3h0M150.1 165.6h0M151.6 167.4h0M133.7 162.4h0M116.1 109.3h0M145.4 165.4h0M86.1 106.3h0"/><path stroke="#fdac33" stroke-width="2.20" d="M241.8 200.5h0M265.1 155.7h0M261.0 125.1h0M234.3 166.5h0M251.3 123.5h0M216.7 216.0h0M214.0 140.0h0M278.1 152.1h0M243.6 193.6h0M273.3 170.7h0M286.3 125.7h0M236.4 116.7h0M214.6 152.4h0M222.5 189.2h0M284.2 180.0h0M213.8 222.5h0M273.0 165.6h0M222.5 155.4h0M291.4 121.0h0M203.7 154.3h0M253.1 150.9h0M245.4 117.3h0M205.3 178.4h0M225.2 145.9h0M267.9 179.5h0M271.2 157.9h0M270.5 164.8h0M225.6 187.8h0M208.0 181.8h0M221.8 144.4h0M286.0 144.0h0M246.0 128.8h0M246.7 212.9h0M268.4 145.9h0M206.8 118.2h0M266.7 201.1h0"/><path stroke="#0b800b" stroke-width="3.30" d="M265.6 141.2h0M254.6 223.2h0M291.1 158.8h0M248.7 209.0h0M267.0 207.6h0M287.6 212.1h0M267.8 138.0h0M217.1 220.0h0M273.9 152.8h0M249.7 222.5h0M280.5 153.2h0M272.4 191.8h0M267.7 149.8h0M233.7 204.0h0M275.4 178.7h0M291.0 157.9h0M274.5 154.9h0M242.0 151.7h0M242.1 155.9h0M260.6 164.3h0M229.9 178.4h0M259.5 222.3h0M284.2 123.3h0M251.2 203.4h0M285.4 146.0h0M236.3 140.7h0M288.3 131.0h0M228.4 153.7h0M274.9 132.6h0M237.1 199.5h0M246.7 148.4h0M279.5 117.9h0M215.9 141.7h0M257.3 148.7h0M286.8 117.0h0M284.1 170.9h0M285.8 133.2h0M254.9 142.9h0M289.8 137.4h0M276.8 144.3h0M284.2 205.0h0M242.6 131.7h0M291.9 194.5h0M274.4 124.2h0M236.2 222.8h0M271.6 138.6h0M224.6 144.9h0M289.1 136.2h0M248.3 159.9h0M250.3 189.1h0M255.0 139.3h0M218.2 223.1h0M289.9 175.4h0M260.9 197.0h0M284.9 194.1h0M249.9 189.1h0M224.5 195.3h0M258.7 223.7h0M258.5 218.3h0M246.3 161.7h0M268.1 183.2h0M271.9 140.9h0M277.2 157.0h0M280.1 154.4h0M228.0 127.2h0M284.7 151.9h0M269.9 132.4h0M270.4 167.9h0M285.0 181.0h0M280.4 141.6h0M265.5 179.2h0M284.1 153.9h0M240.1 138.2h0M254.0 118.0h0M238.1 206.8h0M257.5 207.5h0M270.2 142.2h0M250.2 114.5h0M262.9 200.8h0M258.6 125.5h0M271.3 191.3h0M242.1 146.2h0M220.7 180.7h0M276.8 138.9h0M291.4 223.0h0M283.1 167.7h0M275.2 131.2h0M246.1 170.2h0M259.4 135.3h0M283.9 220.8h0M262.8 172.9h0M246.3 154.8h0M266.6 195.3h0M285.2 194.8h0M273.3 144.9h0M221.1 194.9h0M263.7 152.2h0M279.0 119.0h0M285.1 175.6h0M228.5 204.4h0M274.4 177.1h0M290.2 170.1h0M232.4 175.8h0M271.0 139.7h0M290.6 202.0h0M241.3 206.0h0M284.8 136.6h0M266.8 118.5h0M259.4 136.8h0M274.9 204.2h0M280.4 166.7h0M260.8 144.3h0M285.3 192.9h0M268.5 141.1h0M261.2 132.5h0M285.7 186.7h0M243.3 171.1h0M233.0 128.4h0M273.7 155.2h0M256.2 175.7h0M253.0 151.9h0M290.5 144.6h0M242.6 143.7h0M243.0 157.6h0M282.5 153.2h0M254.3 212.4h0M275.0 196.5h0M270.9 185.3h0M280.5 163.2h0M285.5 182.8h0M291.2 187.7h0M228.7 167.3h0M267.9 147.3h0M289.1 164.3h0M254.8 210.9h0M262.3 158.9h0M254.3 118.7h0M259.9 173.7h0M268.1 114.8h0M265.4 141.0h0M238.5 181.1h0M263.2 222.6h0M260.3 173.1h0M252.4 214.3h0M273.8 122.7h0M254.4 168.0h0M239.5 123.4h0M262.5 145.4h0M269.9 191.7h0M241.3 182.0h0M259.1 124.9h0M215.6 164.3h0M257.7 185.7h0M287.6 184.5h0M260.7 179.1h0M255.6 202.6h0M248.2 144.7h0M254.5 158.2h0M291.8 208.5h0M287.5 219.6h0M289.4 135.8h0M271.7 155.6h0M259.5 122.2h0M228.0 123.7h0M283.4 219.1h0M281.8 151.1h0M267.0 190.6h0M260.4 126.9h0M248.5 191.0h0M236.0 117.8h0M283.7 148.5h0M272.6 126.3h0M291.6 169.7h0M283.2 177.4h0M250.0 212.2h0M267.1 172.1h0M286.4 172.2h0M275.4 201.2h0M274.0 134.6h0M214.1 171.8h0M258.2 150.2h0M285.5 197.2h0M224.1 135.6h0M290.8 178.3h0M277.3 177.8h0M223.4 179.3h0M278.4 170.7h0M265.6 185.5h0M232.8 152.3h0M224.1 205.2h0M274.5 139.4h0M282.4 202.1h0M266.2 119.0h0M229.0 132.2h0M231.2 185.9h0M275.1 126.8h0M215.9 145.1h0M266.5 167.3h0M273.8 198.6h0M288.7 204.5h0M249.3 149.1h0M275.6 136.1h0M277.5 144.3h0M240.5 216.5h0M267.3 134.6h0M286.1 157.7h0M290.0 219.4h0M259.2 140.8h0M286.0 121.1h0M259.5 139.1h0M286.7 208.4h0M245.8 143.3h0M242.5 155.0h0M283.6 168.8h0M249.0 153.0h0M251.9 135.4h0M267.7 141.7h0M237.1 183.2h0M280.1 133.7h0M255.3 172.2h0M221.0 133.3h0M230.5 120.6h0M257.5 118.8h0M291.1 123.8h0M262.0 200.7h0M281.2 177.0h0M246.6 154.3h0M276.3 207.3h0M256.2 145.9h0M287.9 118.0h0M286.1 190.8h0M262.6 132.7h0M246.0 121.4h0M251.6 205.1h0M285.6 208.5h0M287.8 152.1h0M286.5 173.6h0M270.7 159.0h0M257.0 186.2h0M277.2 165.9h0M288.1 191.1h0"/></g></g></g><g clip-path="url(#cB1)"><g filter="url(#bl)"><g fill="none" stroke-linecap="round"><path stroke="#da5a6a" stroke-width="2.20" d="M476.5 169.3h0M476.4 145.2h0M477.1 191.3h0M475.7 203.2h0M474.2 164.2h0M474.5 156.6h0M477.3 118.3h0M477.6 118.4h0M476.8 160.3h0M476.8 205.3h0M477.7 156.3h0M476.5 193.8h0M478.6 211.4h0M474.5 182.7h0M475.9 155.9h0M476.9 139.7h0M478.2 195.2h0M474.2 120.8h0M476.9 111.2h0M476.6 180.1h0M476.2 194.7h0M477.7 214.8h0M477.8 120.4h0M476.9 167.8h0M478.5 125.0h0M477.9 173.0h0M475.0 118.4h0M474.4 167.2h0M478.8 122.7h0M475.3 115.2h0M478.5 151.2h0M476.3 191.9h0M477.8 208.0h0M474.6 194.7h0M477.7 217.6h0M474.5 144.7h0M474.4 163.0h0M475.1 182.5h0M477.1 206.1h0M478.9 139.3h0M476.8 168.0h0M476.0 153.5h0M477.6 145.8h0M477.0 166.0h0M476.5 186.5h0M475.9 133.2h0M475.7 126.3h0M474.9 178.6h0M478.1 204.4h0M475.7 201.2h0M476.5 166.5h0M477.2 115.5h0M477.1 126.7h0M474.3 117.5h0M478.8 178.7h0M476.7 137.0h0M478.8 185.4h0M476.8 150.4h0M478.3 162.3h0M477.9 165.7h0M478.0 119.2h0M474.1 199.2h0M475.8 145.3h0M478.4 175.0h0M477.6 197.6h0M477.1 122.4h0M477.9 143.4h0M474.8 128.0h0M475.4 215.3h0M477.0 154.8h0M475.8 154.1h0M477.4 171.3h0M477.1 221.7h0M476.8 180.5h0M476.4 207.9h0M475.2 182.2h0M476.2 122.8h0M475.4 115.0h0M474.5 128.7h0M476.2 139.5h0M476.9 191.3h0M477.5 178.3h0M475.7 174.2h0M477.6 153.2h0M474.8 178.4h0M475.6 170.4h0M477.9 157.1h0M475.0 121.2h0M476.9 141.7h0M475.5 128.2h0M476.1 168.4h0M477.5 148.5h0M476.4 217.0h0M476.6 199.7h0M476.7 174.6h0M475.3 205.7h0"/><path stroke="#d04d73" stroke-width="2.20" d="M471.4 201.0h0M470.6 138.8h0M471.7 185.6h0M469.2 152.5h0M473.9 141.7h0M473.3 169.1h0M472.5 200.7h0M473.7 135.4h0M472.2 205.1h0M469.6 141.6h0M473.0 204.0h0M469.4 120.9h0M473.2 202.3h0M471.3 150.5h0M471.8 135.1h0M470.6 137.9h0M470.7 127.6h0M471.1 208.4h0M471.1 119.7h0M474.4 129.4h0M473.0 184.5h0M470.6 148.2h0M471.3 183.5h0M469.9 145.5h0M470.0 157.8h0M470.0 201.6h0M471.6 128.4h0M473.6 113.8h0M473.6 156.4h0M473.2 205.7h0M473.1 163.6h0M470.5 159.3h0M471.9 115.9h0M474.0 115.2h0M472.6 200.8h0M469.9 142.5h0M471.4 195.1h0M471.8 144.5h0M471.5 192.6h0M472.1 200.7h0M473.7 132.7h0M469.4 151.4h0M472.4 152.6h0M470.7 221.4h0M474.0 220.2h0M470.4 207.8h0M471.0 179.0h0M474.0 123.0h0M472.7 198.1h0M471.7 172.0h0M471.0 143.2h0M474.8 108.8h0M469.7 118.9h0M473.8 189.7h0M469.8 142.3h0M471.4 211.7h0M469.7 178.5h0M470.8 116.5h0M472.0 115.9h0M471.6 202.6h0M471.1 153.5h0M472.0 134.7h0M471.9 178.3h0M469.8 179.2h0M471.2 146.2h0M473.5 123.6h0M470.1 166.0h0M470.3 130.3h0M472.5 123.9h0M471.7 204.5h0M469.9 129.5h0M472.2 154.5h0M473.5 156.7h0M470.8 219.8h0M470.3 115.1h0M475.3 129.4h0M474.0 151.1h0M470.6 127.2h0M471.7 111.3h0M474.8 168.9h0M471.8 161.3h0M469.7 213.4h0M472.0 185.1h0M472.9 156.5h0"/><path stroke="#e97257" stroke-width="2.20" d="M489.8 124.5h0M489.6 184.6h0M489.7 159.1h0M486.2 211.6h0M487.1 188.0h0M490.6 140.3h0M487.2 118.1h0M484.4 185.4h0M484.7 138.0h0M490.4 163.9h0M490.5 147.1h0M486.4 197.0h0M488.7 154.1h0M489.1 173.1h0M490.3 156.6h0M489.0 211.4h0M486.0 122.2h0M489.8 142.0h0M488.9 222.7h0M486.7 196.7h0M486.8 142.8h0M488.3 138.1h0M489.0 144.8h0M488.0 214.0h0M487.8 167.5h0M490.4 183.5h0M488.3 120.0h0M490.0 175.3h0M487.8 160.6h0M485.4 118.3h0M485.7 164.2h0M489.5 157.0h0M487.1 138.9h0M484.7 115.4h0M486.4 199.6h0M489.2 143.0h0M486.6 178.3h0M486.0 201.1h0M486.2 121.6h0M485.3 209.0h0M488.8 171.7h0M484.7 200.9h0M487.1 178.3h0M485.6 153.0h0M487.8 156.6h0M487.5 165.7h0M488.9 120.4h0M486.8 195.9h0M489.7 215.5h0M485.3 194.5h0M489.3 141.8h0M488.9 186.3h0M486.4 200.9h0M488.1 117.1h0M488.8 188.5h0M486.6 171.9h0M485.0 118.2h0M486.4 119.0h0M484.7 172.7h0M489.6 153.6h0M484.6 114.8h0M489.0 144.0h0M488.9 119.7h0M484.6 188.4h0M486.0 132.9h0M487.7 142.3h0M488.9 129.7h0M484.4 175.7h0M490.2 120.6h0M486.5 130.5h0M490.1 214.0h0M484.8 178.0h0M490.4 180.0h0M485.0 130.3h0M488.5 211.4h0M486.5 116.7h0M489.1 214.5h0M488.3 180.3h0M485.9 159.5h0M487.4 132.5h0M486.2 171.7h0M486.8 119.6h0M485.8 144.5h0M489.1 174.6h0M487.4 178.5h0M487.5 179.5h0M484.8 124.7h0M486.3 188.5h0M484.4 210.1h0M489.6 210.6h0M485.7 176.4h0M490.3 151.0h0M487.4 123.9h0M484.7 121.2h0M489.7 215.4h0M490.4 138.4h0M485.1 130.0h0M487.8 167.4h0M486.0 144.1h0M485.8 146.7h0M485.6 174.8h0M487.8 176.8h0M485.9 222.7h0M488.6 153.4h0"/><path stroke="#1b068d" stroke-width="2.20" d="M407.9 206.2h0M417.6 102.2h0M413.3 109.9h0M406.9 200.4h0M412.0 168.6h0M405.1 199.0h0M407.0 152.1h0M406.2 199.2h0M410.0 193.2h0M408.8 142.2h0M409.4 129.5h0M409.2 145.8h0M413.7 167.3h0M412.8 130.2h0M413.2 164.1h0M413.9 134.0h0M410.1 206.3h0M408.5 163.5h0M406.9 203.1h0M408.3 130.4h0M409.5 190.5h0M409.7 165.0h0M415.3 183.3h0M404.8 159.5h0M409.9 141.7h0M411.6 134.2h0M414.2 116.5h0M407.9 144.8h0M408.9 170.8h0M409.6 158.2h0M405.8 132.0h0M409.4 183.7h0M409.7 198.0h0M409.4 189.4h0M408.4 201.2h0M410.2 146.8h0M415.9 157.1h0M411.1 107.7h0M404.6 112.7h0M409.6 159.0h0M406.1 113.8h0M405.0 172.2h0M409.9 195.6h0M413.7 108.2h0M409.7 119.8h0M410.6 125.8h0M415.0 198.0h0M407.7 128.4h0M408.3 183.4h0M409.6 145.3h0M411.9 172.5h0M414.7 171.0h0M408.2 134.0h0M414.5 107.2h0M413.0 144.9h0M412.2 131.4h0M409.9 162.6h0M407.4 186.3h0M412.5 131.7h0M405.7 189.9h0M411.3 152.8h0M405.1 116.2h0M406.6 177.9h0M412.5 178.8h0M409.0 126.0h0"/><path stroke="#f68d45" stroke-width="2.20" d="M500.1 154.9h0M504.4 154.4h0M504.6 117.5h0M500.9 131.8h0M500.6 124.9h0M501.3 127.5h0M499.7 178.3h0M504.6 119.3h0M503.5 194.6h0M500.0 171.5h0M503.1 120.5h0M499.1 177.4h0M502.4 120.3h0M502.8 114.5h0M503.9 203.0h0M497.9 127.4h0M498.0 122.1h0M498.1 173.3h0M502.6 125.2h0M503.5 141.0h0M498.1 157.5h0M501.3 143.2h0M498.4 138.2h0M499.6 134.6h0M502.4 170.4h0M500.4 143.1h0M502.9 150.0h0M501.1 175.1h0M500.7 150.2h0M502.8 213.5h0M497.1 158.9h0M502.4 124.6h0M497.4 186.4h0M502.1 168.4h0M501.8 183.2h0M500.3 157.9h0M498.4 120.0h0M503.7 119.9h0M498.2 116.4h0M500.6 177.1h0M503.6 114.0h0M500.7 117.1h0M501.1 152.3h0M499.3 171.4h0M498.0 143.1h0M504.5 163.3h0M504.1 124.1h0M497.0 195.0h0M503.6 196.2h0M498.7 138.7h0M504.4 214.7h0M498.8 219.1h0M504.7 130.6h0M497.1 200.9h0M501.1 166.0h0M497.1 180.9h0M501.8 179.0h0M504.4 129.2h0M499.5 129.5h0M499.1 126.6h0M504.3 183.8h0M499.2 134.3h0M503.2 123.7h0M501.8 154.5h0M502.4 119.2h0M500.1 163.8h0M497.6 208.7h0M502.0 145.1h0M498.9 213.2h0M497.7 155.5h0M499.6 213.1h0M502.5 173.2h0M503.3 136.6h0M498.8 217.7h0M499.2 161.8h0M502.2 134.4h0M497.6 140.7h0M501.2 146.4h0M500.4 217.9h0M498.4 121.7h0M501.3 130.3h0M498.3 177.1h0M501.0 118.6h0M498.5 153.1h0M503.3 188.3h0M498.3 211.7h0M497.1 127.3h0M501.4 133.6h0M500.7 157.0h0M503.8 126.8h0M497.7 188.0h0M499.6 204.5h0M500.7 128.5h0M504.3 119.2h0M497.9 177.2h0M499.4 216.6h0M502.0 201.1h0M498.0 208.2h0"/><path stroke="#5502a4" stroke-width="2.20" d="M425.7 220.2h0M426.6 110.2h0M429.6 168.2h0M428.8 133.4h0M434.1 189.8h0M426.2 173.7h0M424.3 213.6h0M428.6 135.7h0M433.0 105.7h0M427.5 170.2h0M424.8 180.0h0M429.1 139.3h0M436.3 143.2h0M429.3 156.8h0M429.0 128.3h0M428.0 124.2h0M426.5 154.0h0M428.4 173.7h0M428.4 119.6h0M424.7 196.9h0M427.3 215.0h0M426.3 114.8h0M428.6 156.4h0M425.0 121.5h0M432.8 191.8h0M433.0 183.3h0M428.5 194.0h0M425.9 195.1h0M427.0 149.8h0M426.1 143.6h0M433.0 137.4h0M430.6 171.3h0M426.7 206.8h0M427.2 119.9h0M429.1 148.6h0M426.7 211.7h0M428.6 203.7h0M434.5 175.0h0M425.9 136.9h0M432.6 193.2h0M429.7 173.9h0M427.1 189.3h0M428.2 142.3h0M425.6 115.8h0M427.1 210.0h0M427.4 116.3h0M429.2 159.8h0M434.8 119.5h0M428.3 210.5h0M430.2 178.5h0M428.3 149.8h0M425.2 191.1h0M431.5 102.8h0M434.9 135.7h0M426.3 124.4h0M432.9 138.2h0M425.2 160.4h0M427.6 185.6h0M429.8 190.5h0M424.5 212.4h0M428.7 209.8h0M430.6 129.2h0M426.3 116.5h0M432.7 124.5h0M431.1 108.0h0M429.2 100.4h0M425.5 206.9h0M429.3 209.3h0M427.1 185.1h0M436.0 115.3h0M426.8 202.2h0M429.3 133.7h0M429.2 163.0h0M433.1 139.7h0M428.7 191.1h0M425.9 181.1h0M429.5 195.5h0M425.8 165.9h0M428.8 143.9h0M431.3 118.0h0M429.5 162.8h0M430.0 190.8h0M430.9 179.9h0M426.8 145.0h0M425.3 142.2h0M429.1 136.9h0M428.3 142.6h0M434.1 125.3h0M433.2 102.5h0M428.6 166.8h0M424.4 132.9h0M427.5 189.9h0"/><path stroke="#a21d9a" stroke-width="2.20" d="M452.4 171.2h0M451.5 213.6h0M452.1 203.4h0M451.4 203.4h0M451.0 208.8h0M451.8 201.2h0M451.8 191.7h0M451.8 206.9h0M455.2 131.1h0M452.0 158.3h0M452.3 155.7h0M456.2 133.2h0M453.8 121.5h0M453.0 158.1h0M455.3 130.0h0M452.6 117.0h0M453.6 156.6h0M458.5 191.8h0M453.4 126.0h0M456.4 128.6h0M451.8 118.2h0M454.4 177.1h0M454.6 120.4h0M452.5 189.9h0M451.1 113.3h0M451.8 121.2h0M452.0 172.3h0M454.2 132.2h0M451.6 121.5h0M454.8 124.5h0M451.9 188.8h0M452.1 116.2h0M452.4 168.9h0M454.2 218.8h0M453.0 211.9h0M453.5 129.4h0M454.9 128.6h0M454.7 196.2h0M455.2 203.5h0M454.4 129.2h0M455.0 213.4h0M450.8 198.2h0M453.3 133.4h0M453.1 212.7h0M453.0 138.8h0M454.5 142.9h0M456.6 102.0h0M454.1 185.3h0M452.2 125.3h0M452.9 202.3h0M458.8 134.5h0M452.5 145.6h0M452.3 149.0h0M452.9 197.8h0M456.4 117.8h0M455.0 119.6h0M453.4 142.8h0M458.7 120.3h0M457.8 106.7h0M451.2 132.5h0M453.8 171.0h0M451.5 124.7h0M456.1 107.4h0M450.9 213.0h0M452.7 205.2h0M452.2 178.9h0M453.2 140.5h0M455.2 167.8h0M452.3 114.4h0M453.8 130.6h0M451.1 117.0h0M452.5 159.6h0M453.8 158.3h0M454.7 204.7h0M453.9 136.7h0M451.6 122.3h0M452.2 181.4h0M453.6 121.1h0M458.5 168.3h0M450.3 128.9h0M452.0 162.0h0M454.9 214.6h0M455.2 134.5h0M451.2 133.3h0M450.4 190.9h0M451.8 184.7h0M451.7 119.6h0M452.6 170.5h0M451.5 173.8h0M456.0 122.6h0M454.1 192.4h0M456.6 143.4h0M458.4 137.4h0M455.8 107.2h0M452.8 188.1h0M455.1 213.7h0M451.3 133.2h0M451.3 127.4h0M454.5 138.5h0M452.6 183.0h0M455.1 158.3h0M456.2 190.0h0M452.4 152.1h0M454.8 152.3h0M452.9 140.1h0M451.6 179.1h0M455.8 106.6h0M450.3 166.1h0M454.6 209.9h0M452.4 190.5h0M454.2 205.1h0M450.7 169.1h0M450.3 170.8h0M450.3 176.0h0M455.0 152.5h0M454.3 162.4h0M452.7 153.2h0M456.9 115.9h0M452.4 195.9h0M451.3 134.3h0"/><path stroke="#b02991" stroke-width="2.20" d="M455.8 119.2h0M458.4 197.9h0M456.9 202.7h0M456.2 155.2h0M457.0 114.1h0M460.9 127.4h0M456.8 152.3h0M459.6 183.3h0M458.6 142.2h0M458.9 154.8h0M458.4 150.2h0M459.5 163.1h0M457.5 139.2h0M458.7 136.4h0M459.8 159.6h0M458.2 207.6h0M460.6 168.2h0M455.7 200.4h0M457.1 175.0h0M458.8 145.3h0M459.5 189.4h0M459.6 117.7h0M460.7 127.5h0M458.4 209.3h0M458.6 119.7h0M456.0 195.0h0M457.9 171.2h0M458.9 155.5h0M459.1 177.2h0M460.6 142.7h0M458.9 168.7h0M456.0 146.6h0M458.9 197.1h0M457.9 174.8h0M459.4 187.9h0M458.2 202.0h0M457.3 213.7h0M459.3 157.8h0M458.4 134.9h0M459.8 122.8h0M459.0 159.2h0M456.3 178.5h0M461.1 110.8h0M457.3 131.9h0M458.3 112.7h0M455.7 126.6h0M455.5 160.6h0M458.1 158.5h0M456.3 132.8h0M456.4 203.2h0M455.7 165.7h0M456.3 136.4h0M459.7 207.0h0M455.8 129.7h0M458.0 174.0h0M455.7 194.4h0M456.9 178.5h0M457.6 150.6h0M459.1 210.0h0M455.9 165.3h0M455.8 159.0h0M456.4 196.0h0M457.7 210.2h0M456.0 172.0h0M457.8 191.4h0M461.3 198.0h0M458.5 132.2h0M459.7 133.5h0M458.3 122.8h0M461.6 165.7h0M459.5 142.3h0M455.7 118.7h0M455.6 197.1h0M461.9 134.3h0M458.4 175.6h0M461.3 114.8h0M462.3 199.1h0M458.3 156.2h0M455.6 186.2h0M456.2 145.2h0M459.8 121.9h0M458.3 116.9h0M457.7 123.6h0M459.3 149.8h0M461.6 103.8h0M456.1 195.7h0M456.7 158.2h0M459.9 215.4h0M458.4 125.5h0M455.7 185.9h0M458.4 140.2h0M459.5 128.2h0M459.1 192.0h0M457.8 142.3h0M456.8 162.1h0M456.5 141.6h0M457.3 177.1h0M458.1 165.6h0M459.5 109.5h0M457.7 122.7h0M456.3 121.0h0M457.3 148.3h0M459.0 153.1h0M457.8 199.5h0M456.9 176.3h0"/><path stroke="#fa9c3c" stroke-width="2.20" d="M509.0 149.7h0M505.5 193.3h0M506.8 116.4h0M511.7 125.7h0M509.7 114.4h0M507.0 208.6h0M505.8 144.6h0M506.1 124.6h0M510.5 220.1h0M505.6 218.6h0M512.5 162.1h0M505.6 116.1h0M512.6 146.6h0M510.0 151.7h0M508.0 115.3h0M505.7 216.4h0M509.1 148.8h0M506.7 153.8h0M511.0 172.5h0M505.9 156.5h0M510.3 162.5h0M510.0 215.8h0M510.2 169.0h0M506.4 173.6h0M510.4 193.9h0M511.9 191.0h0M509.7 123.7h0M507.1 181.3h0M508.3 213.2h0M506.5 212.1h0M507.1 186.0h0M505.2 191.0h0M510.8 151.7h0M511.8 118.5h0M506.9 117.1h0M507.0 139.9h0M508.2 163.1h0M512.3 134.4h0M512.3 137.8h0M508.5 187.4h0M505.2 200.3h0M507.3 170.8h0M506.7 179.7h0M511.0 202.7h0M512.4 188.9h0M510.1 219.8h0M512.3 144.1h0M506.1 173.8h0M507.3 207.6h0M507.9 121.3h0M506.0 154.9h0M507.7 182.7h0M507.4 115.5h0M510.0 199.8h0M511.1 193.1h0M512.3 148.6h0M509.5 150.9h0M507.6 117.4h0M506.5 220.8h0M511.8 186.3h0M511.8 180.5h0M506.8 131.1h0M505.5 186.9h0M508.3 207.9h0M511.7 162.5h0M505.5 129.2h0M509.0 135.5h0M506.4 164.6h0M509.0 127.1h0M507.6 143.8h0M510.4 117.9h0M505.3 189.8h0M509.6 178.3h0M509.8 183.1h0M512.2 149.3h0M509.1 171.6h0M511.5 121.3h0M510.5 189.5h0M508.0 216.5h0M508.3 211.5h0M508.4 213.2h0M507.9 197.3h0M505.1 180.5h0M511.2 141.6h0M511.5 207.0h0M507.2 138.3h0M511.3 200.8h0"/><path stroke="#8606a6" stroke-width="2.20" d="M441.3 129.6h0M442.6 153.0h0M439.5 150.1h0M443.7 161.3h0M441.5 170.5h0M449.1 145.2h0M444.2 167.0h0M441.7 159.5h0M442.2 126.3h0M445.3 143.6h0M439.7 185.8h0M443.0 193.1h0M439.3 127.9h0M442.2 125.5h0M440.0 119.2h0M451.1 128.8h0M443.3 135.7h0M440.2 187.1h0M444.1 126.8h0M443.6 136.4h0M440.3 170.1h0M444.4 130.8h0M444.4 104.2h0M445.6 172.6h0M447.7 133.8h0M444.4 164.9h0M440.9 204.0h0M441.0 122.7h0M439.8 148.8h0M441.8 179.7h0M445.8 191.3h0M446.6 154.3h0M444.3 159.8h0M441.8 138.6h0M447.7 100.9h0M439.8 154.6h0M448.1 149.4h0M440.8 157.3h0M440.6 151.3h0M440.7 117.8h0M441.6 150.7h0M441.2 150.1h0M441.9 175.0h0M443.3 214.5h0M448.5 180.6h0M450.5 111.5h0M442.3 142.8h0M440.8 179.0h0M444.3 148.4h0M444.3 163.7h0M442.2 214.0h0M444.0 176.8h0M441.4 136.4h0M444.5 200.5h0M443.5 111.5h0M440.7 194.0h0M443.1 160.6h0M443.3 127.6h0M446.6 134.8h0M444.5 141.3h0M440.1 192.2h0M443.4 156.7h0M439.9 161.7h0M443.6 153.7h0M439.4 201.0h0M443.6 189.6h0M439.8 174.8h0M441.8 150.0h0M446.7 154.3h0M443.0 135.1h0M442.9 119.1h0M442.2 175.5h0M443.2 117.0h0M445.3 155.0h0M448.1 167.9h0M444.6 174.8h0M450.4 187.6h0M439.8 177.8h0M449.6 109.0h0M442.4 193.2h0M442.8 160.6h0M440.8 137.2h0M446.4 105.6h0M439.4 118.9h0M442.5 116.6h0M446.5 118.6h0M445.7 159.6h0M440.6 168.4h0M445.1 129.9h0M443.8 179.0h0M443.9 132.8h0M448.3 154.9h0M441.8 190.8h0M443.1 164.6h0M446.4 195.3h0M443.0 197.8h0M439.9 127.8h0M441.8 210.8h0M443.2 151.6h0M444.1 140.6h0M444.2 114.8h0M442.4 161.3h0M444.4 121.1h0M439.4 165.7h0M446.2 188.2h0M448.9 111.4h0M443.1 213.7h0M441.4 184.4h0M444.5 200.3h0M440.8 191.2h0M441.0 153.5h0M439.5 150.5h0M439.8 218.3h0M444.1 208.5h0M443.9 148.5h0M445.5 121.0h0M443.1 194.1h0M442.5 196.6h0M441.2 185.4h0M442.2 202.2h0M440.1 184.9h0M443.9 218.1h0"/><path stroke="#310597" stroke-width="2.20" d="M419.7 101.5h0M415.2 178.9h0M415.3 161.4h0M417.0 144.4h0M414.5 161.8h0M416.4 111.6h0M415.9 154.3h0M423.7 98.5h0M412.4 119.6h0M421.1 120.5h0M411.9 223.5h0M414.1 148.3h0M419.0 106.9h0M414.5 144.3h0M415.2 171.0h0M422.2 155.9h0M415.0 157.3h0M414.0 191.4h0M416.7 176.1h0M416.8 128.2h0M413.9 151.7h0M414.2 191.4h0M414.7 205.9h0M422.6 178.9h0M416.5 107.3h0M425.6 123.1h0M416.9 184.7h0M418.9 183.3h0M413.4 185.2h0M411.1 191.4h0M421.4 174.0h0M422.8 125.9h0M418.9 98.6h0M415.4 200.3h0M414.3 198.5h0M417.3 125.7h0M412.3 115.8h0M418.0 133.0h0M415.4 145.6h0M413.4 138.9h0M422.9 172.4h0M419.7 126.2h0M414.8 190.7h0M410.5 144.1h0M413.9 183.7h0M416.5 170.6h0M410.7 184.4h0M410.6 142.8h0M413.4 175.5h0M414.2 176.4h0M413.7 121.5h0M410.5 222.3h0M416.0 148.1h0M414.9 136.6h0M422.6 94.5h0M420.1 142.1h0M420.9 139.9h0M415.3 184.6h0M417.0 206.7h0M421.1 105.3h0M412.3 183.6h0M413.1 139.5h0M415.2 103.4h0M415.0 183.2h0M415.5 153.4h0M422.8 201.2h0M410.6 196.9h0M418.7 123.1h0M420.0 176.8h0M418.7 134.3h0M416.3 140.5h0M423.5 104.0h0M415.1 180.9h0M419.2 182.2h0M419.2 123.8h0M416.0 130.1h0M425.0 160.1h0M416.3 196.5h0M424.1 155.1h0M420.1 174.8h0M416.0 114.5h0M413.2 193.6h0M419.9 137.8h0M411.9 167.8h0M422.9 111.2h0M412.6 202.0h0M411.9 130.1h0M426.3 166.6h0M418.1 205.7h0M424.4 100.5h0M415.5 129.6h0M416.3 172.2h0M419.1 116.8h0M416.9 165.5h0M410.9 149.7h0M424.6 112.5h0M418.3 155.3h0M410.8 203.5h0M417.6 119.8h0M419.0 183.6h0M412.1 163.4h0M421.0 117.8h0M419.0 173.8h0M415.7 178.8h0M424.6 104.6h0M414.3 113.5h0M421.3 111.0h0"/><path stroke="#bc3587" stroke-width="2.20" d="M464.0 168.0h0M462.7 158.8h0M460.5 138.8h0M461.4 176.6h0M461.6 123.8h0M461.3 117.7h0M463.9 137.7h0M462.0 187.5h0M465.9 147.0h0M462.7 205.0h0M464.3 127.8h0M461.2 175.2h0M463.4 118.3h0M461.1 124.2h0M464.1 205.3h0M462.9 155.5h0M463.5 132.0h0M462.4 118.1h0M460.2 121.8h0M462.1 204.9h0M464.1 129.6h0M461.3 190.9h0M462.4 192.1h0M461.5 199.6h0M464.4 161.0h0M460.9 189.2h0M461.2 219.2h0M462.7 152.7h0M460.5 168.1h0M464.1 165.7h0M463.9 215.7h0M462.0 196.7h0M463.7 172.1h0M463.0 118.0h0M461.0 136.5h0M460.1 219.5h0M461.1 208.6h0M463.0 219.0h0M460.7 190.3h0M462.3 171.2h0M461.0 166.7h0M463.5 142.6h0M465.6 161.1h0M461.7 221.6h0M463.4 195.0h0M460.9 174.2h0M460.9 154.4h0M462.7 214.8h0M461.3 153.2h0M460.4 125.8h0M462.3 214.1h0M463.8 155.8h0M462.7 140.7h0M463.8 146.3h0M464.2 110.9h0M462.8 202.8h0M461.2 171.6h0M465.8 156.5h0M463.4 173.5h0M460.9 166.7h0M460.1 179.3h0M462.2 194.0h0M460.8 145.1h0M461.2 204.2h0M464.2 204.0h0M463.6 113.7h0M463.8 194.8h0M462.8 175.2h0M462.8 140.0h0M462.3 163.8h0M463.5 160.6h0M463.3 157.7h0M463.9 122.2h0M462.9 176.6h0M463.0 124.2h0M460.0 125.8h0M463.5 147.9h0M462.5 151.2h0M461.3 161.7h0M460.6 185.5h0M462.5 152.3h0M461.8 134.6h0M461.1 165.5h0M460.9 208.5h0M463.8 136.7h0M463.7 125.6h0M462.6 134.0h0M462.6 115.1h0M462.2 197.6h0M463.2 188.0h0M461.9 155.7h0M462.2 152.4h0M462.5 141.4h0M463.2 210.7h0M462.2 167.4h0M460.5 138.7h0M463.0 119.7h0M462.5 179.0h0M462.4 157.4h0M461.6 191.3h0M463.7 166.9h0M464.3 202.0h0"/><path stroke="#43039e" stroke-width="2.20" d="M430.6 154.8h0M422.0 121.5h0M422.2 155.6h0M423.0 187.3h0M418.6 116.2h0M429.9 133.9h0M421.0 201.3h0M429.4 112.7h0M418.3 115.6h0M426.9 124.2h0M420.1 199.6h0M425.2 160.2h0M422.4 192.6h0M422.8 154.3h0M426.5 148.5h0M421.4 189.5h0M418.4 135.3h0M430.2 94.4h0M420.0 132.9h0M427.0 104.8h0M422.2 177.2h0M418.3 202.1h0M427.7 117.8h0M419.0 135.6h0M421.4 161.6h0M419.2 150.3h0M417.7 209.4h0M417.7 204.0h0M421.1 124.5h0M423.3 175.1h0M424.1 151.3h0M420.1 155.0h0M421.9 119.6h0M422.1 138.5h0M420.9 161.0h0M423.0 159.3h0M417.4 107.6h0M429.5 95.8h0M425.7 109.0h0M418.0 172.8h0M419.3 183.8h0M429.3 115.6h0M423.4 108.5h0M420.7 122.8h0M419.5 181.7h0M430.4 87.2h0M423.5 156.1h0M427.5 164.1h0M427.8 96.4h0M418.4 181.5h0M417.6 115.0h0M428.5 158.6h0M417.7 116.7h0M420.3 136.2h0M418.0 115.5h0M420.8 196.7h0M421.0 187.6h0M424.9 119.3h0M421.3 123.3h0M423.9 172.1h0M418.4 108.3h0M418.8 115.7h0M430.7 133.4h0M424.4 199.6h0M419.2 127.4h0M418.6 158.9h0M424.4 189.7h0M424.1 165.1h0M424.0 149.3h0M431.9 147.8h0M426.5 146.3h0M427.3 134.7h0M424.1 147.6h0M425.3 119.9h0M426.5 136.6h0M426.3 148.3h0M420.8 195.1h0M421.0 140.3h0M431.0 121.2h0M419.4 119.9h0M421.8 119.2h0M424.2 181.7h0M419.5 131.5h0M426.4 99.8h0M428.3 157.9h0M430.5 176.1h0M429.4 166.5h0M422.4 127.0h0M427.8 146.7h0M423.2 185.2h0M419.6 113.7h0M422.4 144.5h0M429.6 124.6h0M423.6 148.0h0M425.1 137.5h0M423.6 147.9h0M422.5 137.9h0M422.5 200.0h0M421.7 123.2h0M421.1 128.6h0M422.4 188.7h0M423.6 148.2h0M421.1 163.0h0M427.3 122.7h0M421.2 139.3h0M425.2 193.4h0M417.1 200.7h0M423.9 209.4h0M421.0 155.6h0M423.0 208.6h0M417.5 120.2h0M423.1 129.0h0M421.0 212.9h0M421.9 191.4h0M421.0 169.0h0M431.7 87.9h0M427.9 165.6h0M422.5 203.4h0M422.0 200.0h0M418.6 166.9h0M420.4 170.7h0M421.7 144.8h0M421.4 105.5h0M422.8 129.3h0M426.3 110.1h0M420.0 174.1h0M419.1 111.2h0M425.7 163.1h0M424.4 155.4h0M422.8 185.3h0M421.5 159.1h0M429.9 108.1h0M427.1 145.8h0M424.3 144.2h0"/><path stroke="#c6417d" stroke-width="2.20" d="M468.0 192.8h0M464.6 218.5h0M467.9 150.2h0M465.7 173.4h0M468.8 113.7h0M467.1 193.1h0M467.3 215.8h0M468.4 142.1h0M466.1 128.0h0M464.7 170.8h0M469.0 138.2h0M467.3 193.1h0M464.7 185.7h0M466.6 154.0h0M468.6 199.1h0M466.8 172.4h0M468.6 172.4h0M467.7 178.7h0M468.6 147.7h0M468.9 176.7h0M469.1 130.4h0M467.0 116.4h0M465.8 185.7h0M465.7 222.5h0M468.7 148.2h0M467.1 106.9h0M468.3 131.3h0M468.4 211.0h0M466.4 123.8h0M469.3 156.7h0M467.4 147.1h0M468.4 199.9h0M467.3 115.9h0M465.3 110.0h0M469.2 129.4h0M468.4 107.9h0M467.8 113.2h0M467.3 147.3h0M464.9 165.6h0M467.9 123.8h0M464.5 190.8h0M470.0 208.3h0M464.6 220.4h0M467.4 147.5h0M465.7 188.7h0M466.7 199.5h0M466.1 177.6h0M466.2 115.3h0M470.1 120.5h0M468.8 173.5h0M467.3 200.7h0M464.7 167.0h0M467.1 188.5h0M465.6 181.1h0M468.0 193.3h0M467.7 208.0h0M465.8 176.6h0M465.1 133.4h0M466.5 155.8h0M468.6 128.0h0M469.1 138.3h0M468.5 117.3h0M466.8 120.2h0M465.3 116.6h0M468.9 204.5h0M465.9 153.7h0M469.4 170.3h0M467.5 128.0h0M466.9 155.6h0M469.1 162.3h0M467.6 119.4h0M465.8 126.0h0M467.1 115.2h0M468.7 204.6h0M465.2 162.9h0M468.8 128.1h0M466.3 133.4h0M467.7 162.4h0M465.4 130.6h0M465.9 173.8h0M469.0 176.3h0M467.4 116.9h0M468.8 174.6h0M467.6 137.3h0M466.8 128.0h0M467.4 141.3h0M467.3 221.6h0"/><path stroke="#f0804e" stroke-width="2.20" d="M495.8 134.4h0M493.0 188.8h0M491.1 193.0h0M493.8 121.2h0M491.7 144.4h0M496.5 128.4h0M496.2 119.6h0M494.4 146.0h0M493.3 203.3h0M495.3 169.8h0M494.1 133.4h0M495.4 145.8h0M494.3 145.2h0M491.2 157.6h0M491.0 148.4h0M492.9 138.8h0M492.3 171.5h0M492.8 116.6h0M493.9 181.0h0M493.4 182.7h0M492.2 149.1h0M492.5 184.3h0M491.5 176.8h0M496.3 199.5h0M494.6 148.1h0M492.9 142.5h0M491.8 217.5h0M492.2 183.7h0M495.2 121.1h0M496.3 147.6h0M491.5 154.5h0M493.2 204.5h0M494.3 122.7h0M493.8 137.3h0M492.9 200.2h0M496.8 169.2h0M497.0 157.9h0M494.2 175.0h0M491.8 151.4h0M494.9 165.6h0M496.4 185.9h0M495.6 131.8h0M493.2 156.4h0M492.1 118.8h0M496.2 173.8h0M496.1 205.7h0M492.8 122.1h0M491.1 175.1h0M491.2 114.4h0M492.5 187.0h0M495.3 156.8h0M493.9 138.8h0M491.4 202.9h0M490.9 136.2h0M490.7 120.1h0M493.6 209.9h0M495.4 206.1h0M495.1 117.5h0M494.9 134.5h0M493.5 164.1h0M495.7 133.0h0M491.9 221.1h0M491.4 184.6h0M493.9 196.4h0M494.5 167.1h0M491.2 205.4h0M495.1 215.8h0M494.1 206.5h0M495.7 211.0h0M493.5 152.6h0M494.1 117.3h0M495.2 179.8h0M490.7 167.9h0M493.0 172.1h0M496.1 213.2h0M493.4 215.9h0M494.9 129.7h0M493.0 168.1h0M491.9 177.0h0M494.0 185.7h0M492.5 165.4h0M495.1 138.6h0M496.7 178.1h0M495.6 201.2h0M492.0 195.5h0M496.1 122.7h0M493.5 161.7h0M494.9 121.0h0M491.1 154.8h0M496.8 156.0h0M494.2 153.7h0"/><path stroke="#e26561" stroke-width="2.20" d="M483.2 147.4h0M482.0 143.2h0M481.2 201.8h0M479.0 132.1h0M482.1 203.1h0M481.1 167.3h0M481.6 122.2h0M481.5 188.4h0M479.1 187.3h0M481.1 125.4h0M484.1 200.0h0M479.9 149.7h0M481.1 140.4h0M479.3 168.6h0M483.5 177.7h0M481.9 113.7h0M482.5 125.9h0M481.8 177.7h0M480.7 193.8h0M483.4 127.9h0M483.6 120.9h0M481.2 143.1h0M479.4 216.1h0M482.9 153.5h0M479.7 142.7h0M482.2 142.3h0M480.6 210.9h0M479.6 184.8h0M481.5 169.8h0M480.2 124.8h0M483.2 127.2h0M484.2 142.5h0M481.3 115.8h0M481.2 166.1h0M481.4 187.8h0M482.0 172.6h0M481.2 137.0h0M481.8 130.6h0M481.5 217.0h0M482.1 152.3h0M481.0 171.4h0M482.6 184.1h0M483.3 177.3h0M482.0 121.0h0M481.3 202.9h0M482.4 142.8h0M480.7 122.9h0M481.8 152.7h0M480.0 198.3h0M484.2 199.2h0M481.5 187.6h0M479.6 222.2h0M482.2 178.0h0M481.0 121.2h0M481.8 198.2h0M484.0 139.1h0M482.4 164.2h0M482.6 164.3h0M480.8 163.9h0M484.0 186.3h0M483.9 123.9h0M481.5 123.3h0M481.5 120.6h0M481.8 180.9h0M479.5 182.9h0M481.7 193.6h0M481.3 155.0h0M479.6 120.4h0M484.2 150.3h0M480.6 121.4h0M483.0 164.4h0M484.3 174.3h0M483.9 188.5h0M483.9 193.0h0M484.2 176.6h0M480.1 161.6h0M480.0 207.7h0M481.9 141.7h0M484.1 133.7h0M480.8 152.0h0M481.5 134.3h0M481.1 151.2h0M479.5 204.4h0M480.0 122.9h0M480.2 149.0h0M484.2 168.8h0M481.3 172.2h0M480.4 137.2h0M483.8 148.7h0M482.5 148.1h0M482.4 148.2h0M483.1 143.4h0M481.4 222.2h0M484.3 117.2h0M480.6 188.3h0M480.5 160.8h0M483.5 120.1h0M483.8 127.2h0M481.0 197.6h0M481.0 170.0h0M480.5 184.1h0M482.9 211.7h0M479.0 164.0h0M482.2 207.2h0M483.7 218.0h0M480.1 184.1h0M482.8 167.0h0M483.2 152.4h0M483.1 118.1h0M482.1 137.5h0M483.1 204.6h0M483.4 161.0h0M481.8 204.3h0M481.4 136.1h0M480.8 206.3h0M480.3 122.4h0"/><path stroke="#6600a7" stroke-width="2.20" d="M430.9 215.0h0M430.4 156.9h0M433.1 130.1h0M438.6 109.5h0M436.9 154.3h0M433.7 207.5h0M431.1 191.5h0M431.9 221.0h0M432.3 220.8h0M433.2 156.7h0M436.8 136.6h0M431.9 140.2h0M431.4 181.9h0M431.8 113.6h0M433.2 146.9h0M435.9 175.9h0M433.4 206.9h0M432.2 169.1h0M434.4 197.3h0M431.3 119.6h0M434.4 166.3h0M436.6 144.6h0M431.4 119.0h0M435.8 131.7h0M432.9 135.6h0M432.4 115.5h0M432.8 124.5h0M430.3 169.4h0M431.7 209.6h0M431.1 150.9h0M433.9 191.6h0M436.0 185.9h0M434.7 128.8h0M430.6 210.7h0M437.3 174.7h0M435.4 210.1h0M435.7 157.7h0M433.7 124.5h0M431.9 216.1h0M440.1 138.3h0M432.5 144.9h0M432.3 130.8h0M437.0 123.7h0M431.0 114.9h0M436.3 110.1h0M433.4 153.1h0M434.3 172.1h0M435.7 112.4h0M434.3 186.2h0M432.7 199.1h0M429.9 155.6h0M430.0 212.8h0M434.2 165.3h0M437.0 146.8h0M435.8 120.7h0M433.6 126.9h0M437.7 141.5h0M439.9 94.8h0M437.6 95.1h0M437.3 129.8h0M440.4 174.9h0M433.7 223.0h0M432.8 109.9h0M432.8 122.1h0M440.1 94.5h0M435.4 117.6h0M430.9 182.7h0M433.6 208.8h0M434.9 119.9h0M437.3 139.2h0M439.1 144.9h0M433.0 116.3h0M434.2 109.3h0M438.7 156.3h0M434.4 141.4h0M439.1 93.5h0M430.0 120.8h0M432.2 175.8h0M437.9 114.5h0M434.7 113.3h0M439.0 168.4h0M437.1 132.5h0M433.6 205.8h0M434.5 162.2h0M431.4 116.7h0M433.7 195.0h0M431.0 127.9h0M435.3 149.9h0M433.2 142.2h0M436.5 176.5h0M437.0 177.0h0M433.5 129.3h0M430.3 192.3h0M432.4 141.6h0M433.1 126.3h0M437.8 97.9h0M438.4 176.5h0M430.1 182.6h0M440.0 93.4h0M438.0 132.7h0"/><path stroke="#9511a1" stroke-width="2.20" d="M447.5 161.2h0M447.8 207.9h0M448.3 163.2h0M445.5 120.5h0M446.0 135.5h0M445.7 197.9h0M448.6 158.0h0M446.6 199.5h0M446.0 117.4h0M445.0 173.7h0M446.8 149.1h0M451.3 114.8h0M448.0 180.7h0M450.1 142.7h0M452.9 135.0h0M444.8 214.2h0M449.3 201.2h0M447.4 135.1h0M448.4 148.3h0M448.8 190.7h0M453.5 175.6h0M445.9 190.3h0M454.8 112.9h0M446.2 146.3h0M447.7 184.4h0M446.9 197.9h0M449.5 117.8h0M448.9 165.9h0M447.6 136.0h0M445.8 127.2h0M450.0 130.9h0M449.8 113.0h0M448.7 212.5h0M446.1 215.9h0M445.4 139.0h0M445.9 131.7h0M448.8 194.8h0M452.4 109.9h0M448.6 145.1h0M448.7 140.5h0M446.3 218.0h0M447.6 162.6h0M449.9 154.0h0M444.8 130.2h0M446.8 184.4h0M452.0 201.1h0M449.0 159.1h0M450.1 116.9h0M452.6 114.4h0M448.5 190.5h0M446.4 217.1h0M450.0 112.1h0M448.9 185.4h0M453.5 200.6h0M449.7 128.3h0M447.0 136.7h0M449.1 184.2h0M450.0 137.4h0M446.4 182.2h0M450.1 202.6h0M446.6 140.1h0M446.2 184.5h0M450.0 203.5h0M449.4 223.7h0M445.7 126.0h0M444.8 116.3h0M446.6 193.7h0M445.4 201.9h0M446.8 203.0h0M449.5 138.9h0M446.9 160.8h0M444.7 196.2h0M451.8 117.0h0M448.2 138.0h0M446.8 159.0h0M448.6 208.6h0M452.0 125.1h0M450.6 136.3h0M445.4 183.9h0M446.4 160.8h0M453.7 96.6h0M450.3 119.5h0M447.4 184.3h0M447.8 209.4h0M451.0 142.3h0M446.1 196.9h0M447.8 122.3h0M449.5 170.5h0M448.7 208.1h0M450.9 156.7h0M454.4 172.6h0M450.8 170.7h0M448.2 203.7h0M453.0 176.3h0M448.8 145.6h0M446.6 143.5h0M452.8 133.4h0M449.8 151.1h0M447.0 113.3h0M447.5 156.8h0M449.1 176.2h0M448.5 179.9h0"/><path stroke="#7501a8" stroke-width="2.20" d="M437.9 122.7h0M439.8 145.8h0M439.2 132.1h0M445.0 138.9h0M441.5 104.9h0M438.7 117.7h0M434.8 154.1h0M435.0 132.6h0M436.9 170.6h0M434.8 217.8h0M442.2 115.1h0M435.8 132.0h0M437.8 191.7h0M439.2 125.5h0M436.5 153.8h0M439.9 134.3h0M438.8 166.4h0M436.3 190.4h0M444.9 117.5h0M438.0 107.6h0M434.7 199.8h0M437.8 222.6h0M435.6 170.3h0M437.6 147.2h0M438.5 185.3h0M442.5 112.0h0M435.3 199.1h0M437.8 153.3h0M437.6 112.5h0M437.1 119.4h0M434.7 163.1h0M437.9 123.6h0M440.0 169.3h0M439.1 171.4h0M438.7 163.4h0M437.1 157.9h0M437.8 149.3h0M446.0 94.2h0M440.9 133.3h0M436.4 150.9h0M438.4 160.3h0M438.2 191.5h0M438.0 119.7h0M438.0 133.0h0M435.0 209.3h0M437.2 162.6h0M434.7 192.4h0M437.5 150.3h0M437.5 170.7h0M443.2 130.2h0M442.9 131.7h0M434.6 140.2h0M438.7 118.3h0M437.1 179.1h0M443.9 130.3h0M436.5 123.4h0M438.6 195.0h0M437.7 186.7h0M435.2 205.8h0M436.1 179.6h0M444.8 133.2h0M441.0 106.4h0M437.5 150.6h0M436.8 165.7h0M443.6 121.5h0M435.1 153.6h0M437.5 162.0h0M440.7 111.8h0M439.7 167.3h0M437.8 190.9h0M442.1 188.5h0M443.8 113.0h0M437.0 141.7h0M438.8 131.8h0M444.1 104.3h0M437.6 130.1h0M438.7 113.3h0M436.8 197.1h0M437.3 131.4h0M437.4 151.5h0M441.6 166.3h0M436.0 123.2h0M438.2 109.6h0M437.9 120.0h0M441.9 119.1h0M443.8 169.3h0M439.1 212.8h0M435.9 138.9h0M436.9 112.9h0M444.7 171.7h0M445.2 115.8h0M435.0 136.5h0M439.1 156.8h0M435.3 160.7h0M439.3 154.3h0M439.0 195.5h0M438.5 118.5h0M446.7 95.0h0M435.8 184.2h0M441.4 196.1h0M445.5 150.3h0M437.3 215.8h0M439.2 124.1h0M435.6 197.4h0M436.2 182.3h0M436.6 165.6h0M436.2 167.4h0M439.2 162.4h0M439.6 109.3h0M439.0 165.4h0M443.3 106.3h0"/><path stroke="#fdac33" stroke-width="2.20" d="M515.2 200.5h0M515.2 155.7h0M513.6 125.1h0M515.5 166.5h0M515.4 123.5h0M512.8 216.0h0M515.0 140.0h0M512.8 152.1h0M513.0 193.6h0M513.0 170.7h0M512.9 125.7h0M512.7 116.7h0M514.6 152.4h0M513.4 189.2h0M515.4 180.0h0M514.8 222.5h0M513.9 165.6h0M512.8 155.4h0M514.0 121.0h0M513.2 154.3h0M514.7 150.9h0M514.1 117.3h0M514.3 178.4h0M514.0 145.9h0M513.7 179.5h0M513.9 157.9h0M515.3 164.8h0M513.9 187.8h0M513.4 181.8h0M514.0 144.4h0M513.1 144.0h0M514.4 128.8h0M513.6 212.9h0M515.1 145.9h0M514.7 118.2h0M513.3 201.1h0"/><path stroke="#0b800b" stroke-width="3.30" d="M522.1 141.2h0M518.9 223.2h0M544.6 158.8h0M534.2 209.0h0M528.6 207.6h0M525.0 212.1h0M534.9 138.0h0M515.6 220.0h0M519.2 152.8h0M533.1 222.5h0M522.2 153.2h0M542.5 191.8h0M519.1 149.8h0M525.3 204.0h0M537.3 178.7h0M535.9 157.9h0M540.1 154.9h0M524.3 151.7h0M523.3 155.9h0M540.5 164.3h0M522.0 178.4h0M526.2 222.3h0M551.5 123.3h0M526.5 203.4h0M521.9 146.0h0M527.8 140.7h0M546.3 131.0h0M522.7 153.7h0M539.2 132.6h0M524.4 199.5h0M526.3 148.4h0M522.4 117.9h0M517.3 141.7h0M538.8 148.7h0M546.7 117.0h0M535.0 170.9h0M522.6 133.2h0M536.9 142.9h0M524.9 137.4h0M540.2 144.3h0M533.7 205.0h0M532.6 131.7h0M530.0 194.5h0M516.3 124.2h0M518.5 222.8h0M545.0 138.6h0M517.1 144.9h0M551.9 136.2h0M535.4 159.9h0M517.5 189.1h0M528.4 139.3h0M520.7 223.1h0M534.3 175.4h0M534.5 197.0h0M545.5 194.1h0M527.3 189.1h0M517.6 195.3h0M519.1 223.7h0M521.7 218.3h0M516.7 161.7h0M532.7 183.2h0M537.8 140.9h0M542.7 157.0h0M515.8 154.4h0M516.0 127.2h0M552.1 151.9h0M518.8 132.4h0M515.9 167.9h0M518.4 181.0h0M546.1 141.6h0M541.3 179.2h0M524.7 153.9h0M525.0 138.2h0M529.2 118.0h0M531.6 206.8h0M521.3 207.5h0M543.6 142.2h0M524.1 114.5h0M518.9 200.8h0M541.0 125.5h0M543.8 191.3h0M524.4 146.2h0M520.6 180.7h0M528.4 138.9h0M541.9 223.0h0M521.3 167.7h0M525.1 131.2h0M534.5 170.2h0M538.9 135.3h0M548.3 220.8h0M536.3 172.9h0M524.4 154.8h0M536.4 195.3h0M520.6 194.8h0M545.2 144.9h0M518.4 194.9h0M537.4 152.2h0M536.1 119.0h0M525.3 175.6h0M522.3 204.4h0M523.4 177.1h0M548.3 170.1h0M519.1 175.8h0M526.4 139.7h0M545.6 202.0h0M526.7 206.0h0M516.7 136.6h0M517.3 118.5h0M522.7 136.8h0M535.7 204.2h0M525.3 166.7h0M525.3 144.3h0M528.0 192.9h0M529.9 141.1h0M520.7 132.5h0M516.5 186.7h0M525.0 171.1h0M527.6 128.4h0M525.7 155.2h0M537.1 175.7h0M519.3 151.9h0M531.0 144.6h0M517.4 143.7h0M530.0 157.6h0M527.0 153.2h0M519.0 212.4h0M525.1 196.5h0M532.1 185.3h0M522.7 163.2h0M548.0 182.8h0M525.1 187.7h0M525.9 167.3h0M516.9 147.3h0M532.3 164.3h0M538.9 210.9h0M523.6 158.9h0M536.5 118.7h0M517.4 173.7h0M533.1 114.8h0M535.8 141.0h0M520.2 181.1h0M523.1 222.6h0M523.2 173.1h0M536.3 214.3h0M530.6 122.7h0M533.4 168.0h0M518.1 123.4h0M536.6 145.4h0M534.9 191.7h0M519.6 182.0h0M515.9 124.9h0M515.9 164.3h0M530.1 185.7h0M528.0 184.5h0M533.1 179.1h0M534.1 202.6h0M527.7 144.7h0M525.3 158.2h0M517.2 208.5h0M531.7 219.6h0M551.4 135.8h0M517.4 155.6h0M519.0 122.2h0M524.6 123.7h0M537.0 219.1h0M551.0 151.1h0M544.0 190.6h0M522.9 126.9h0M528.3 191.0h0M518.9 117.8h0M538.1 148.5h0M531.7 126.3h0M528.9 169.7h0M544.0 177.4h0M516.5 212.2h0M515.5 172.1h0M531.8 172.2h0M529.8 201.2h0M530.0 134.6h0M516.0 171.8h0M525.5 150.2h0M545.3 197.2h0M522.0 135.6h0M521.9 178.3h0M515.8 177.8h0M519.5 179.3h0M550.9 170.7h0M528.7 185.5h0M527.4 152.3h0M522.6 205.2h0M525.3 139.4h0M521.9 202.1h0M519.9 119.0h0M516.5 132.2h0M518.1 185.9h0M547.5 126.8h0M518.7 145.1h0M521.5 167.3h0M527.4 198.6h0M522.9 204.5h0M528.2 149.1h0M545.3 136.1h0M533.5 144.3h0M529.6 216.5h0M531.6 134.6h0M520.5 157.7h0M528.9 219.4h0M527.8 140.8h0M529.5 121.1h0M530.4 139.1h0M539.6 208.4h0M519.9 143.3h0M526.1 155.0h0M527.2 168.8h0M528.7 153.0h0M523.2 135.4h0M520.8 141.7h0M518.6 183.2h0M516.0 133.7h0M531.3 172.2h0M517.6 133.3h0M517.0 120.6h0M518.5 118.8h0M532.6 123.8h0M524.3 200.7h0M526.5 177.0h0M527.9 154.3h0M546.4 207.3h0M525.2 145.9h0M538.7 118.0h0M522.3 190.8h0M520.1 132.7h0M516.3 121.4h0M536.3 205.1h0M517.9 208.5h0M531.6 152.1h0M516.0 173.6h0M525.4 159.0h0M532.1 186.2h0M516.3 165.9h0M536.9 191.1h0"/></g></g></g><g clip-path="url(#cC1)"><g filter="url(#bl)"><g fill="none" stroke-linecap="round"><path stroke="#da5a6a" stroke-width="2.20" d="M160.2 309.3h0M285.3 309.4h0M161.6 308.9h0M285.1 309.9h0M248.7 311.0h0M275.2 310.8h0M188.2 308.7h0M180.5 308.5h0M182.0 309.1h0M253.8 309.1h0M143.4 308.4h0M176.5 309.3h0M252.7 307.7h0M149.2 310.8h0M186.9 309.7h0M264.7 309.0h0M220.9 308.0h0M154.2 311.0h0M162.3 309.0h0M178.8 309.2h0M185.1 309.5h0M162.5 308.4h0M229.9 308.3h0M243.2 309.0h0M192.0 307.8h0M280.2 308.3h0M285.2 310.4h0M180.2 310.8h0M181.6 307.6h0M162.7 310.2h0M266.3 307.8h0M285.3 309.4h0M209.6 308.4h0M181.1 310.7h0M165.6 308.4h0M243.4 310.8h0M270.1 310.9h0M173.8 310.3h0M159.5 308.8h0M243.0 307.5h0M220.1 309.0h0M243.7 309.6h0M287.1 308.5h0M280.6 308.9h0M203.2 309.3h0M219.2 309.7h0M170.8 309.9h0M175.1 310.5h0M195.8 308.1h0M288.4 309.9h0M189.7 309.3h0M160.4 308.8h0M226.4 308.8h0M283.3 310.9h0M277.4 307.5h0M214.6 309.2h0M225.9 307.5h0M202.2 309.0h0M209.7 307.9h0M280.1 308.2h0M144.9 308.1h0M251.2 311.1h0M270.8 309.8h0M270.5 307.9h0M249.2 308.5h0M275.0 308.8h0M284.4 308.2h0M263.6 310.6h0M143.1 310.1h0M275.1 308.9h0M221.5 309.8h0M233.3 308.6h0M166.4 308.8h0M221.1 309.1h0M228.6 309.4h0M235.8 310.3h0M190.6 309.5h0M166.6 310.1h0M223.0 310.8h0M274.8 309.6h0M201.6 309.0h0M138.9 308.6h0M174.2 309.9h0M200.9 308.5h0M230.9 310.6h0M233.4 310.0h0M137.4 308.3h0M189.1 310.4h0M245.5 309.0h0M199.3 310.0h0M273.2 309.6h0M143.0 308.6h0M270.5 309.4h0M163.2 309.2h0M246.3 309.1h0M180.7 310.2h0"/><path stroke="#d04d73" stroke-width="2.20" d="M283.7 313.1h0M191.4 313.7h0M242.8 312.9h0M152.3 314.8h0M176.7 311.3h0M167.5 311.7h0M188.0 312.3h0M188.6 311.4h0M223.6 312.5h0M284.7 314.5h0M151.4 311.9h0M283.6 314.6h0M290.0 311.8h0M271.3 313.2h0M226.7 312.8h0M261.1 313.7h0M291.4 313.6h0M148.4 313.4h0M193.9 313.3h0M138.0 310.8h0M238.6 311.9h0M220.4 313.7h0M287.9 313.2h0M259.1 314.2h0M282.1 314.1h0M200.4 314.2h0M169.2 313.0h0M202.2 311.5h0M140.7 311.4h0M274.2 311.8h0M216.8 311.9h0M236.2 313.8h0M289.5 312.7h0M258.5 311.2h0M163.8 312.2h0M256.8 314.2h0M273.8 313.1h0M155.4 312.8h0M198.8 313.0h0M150.7 312.6h0M139.1 311.4h0M146.5 314.6h0M174.8 312.4h0M217.6 313.6h0M195.9 311.2h0M162.2 313.8h0M242.6 313.4h0M246.2 311.1h0M140.5 312.1h0M235.8 312.9h0M244.7 313.4h0M133.9 310.5h0M185.4 314.4h0M197.9 311.3h0M212.2 314.3h0M208.3 313.1h0M278.4 314.4h0M148.7 313.6h0M272.5 312.7h0M160.6 313.0h0M134.6 313.4h0M187.9 312.7h0M226.0 312.7h0M260.5 314.3h0M273.6 313.3h0M235.9 311.6h0M263.1 314.1h0M170.6 313.9h0M280.6 312.3h0M136.6 312.9h0M145.5 314.2h0M148.4 312.6h0M167.6 311.5h0M282.5 313.5h0M182.6 314.0h0M134.4 310.2h0M291.9 311.1h0M278.5 313.8h0M140.6 312.9h0M132.2 310.6h0M264.2 312.9h0M285.0 314.4h0M243.0 312.7h0M252.0 312.0h0"/><path stroke="#e97257" stroke-width="2.20" d="M258.6 299.3h0M162.0 299.5h0M248.3 299.4h0M230.8 302.0h0M240.9 301.4h0M252.9 298.7h0M166.4 301.3h0M232.5 303.4h0M204.7 303.1h0M168.3 298.9h0M281.1 298.8h0M278.9 301.9h0M240.9 300.1h0M185.2 299.8h0M194.0 298.9h0M172.9 299.9h0M178.7 302.2h0M187.2 299.3h0M193.3 300.0h0M183.3 301.6h0M158.2 301.6h0M275.9 300.4h0M271.2 300.0h0M245.2 300.6h0M159.7 300.8h0M274.6 298.8h0M251.6 300.5h0M172.8 299.2h0M170.9 300.8h0M169.0 302.6h0M230.7 302.4h0M253.5 299.6h0M221.9 301.3h0M257.4 303.1h0M159.2 301.9h0M253.8 299.8h0M163.2 301.7h0M219.7 302.1h0M161.6 302.0h0M267.2 302.7h0M209.3 300.1h0M198.6 303.1h0M247.5 301.3h0M228.2 302.5h0M198.2 300.8h0M271.2 301.0h0M287.2 300.0h0M187.1 301.6h0M266.4 299.4h0M282.1 302.7h0M165.9 299.7h0M162.7 300.0h0M175.0 301.9h0M278.1 300.6h0M228.5 300.1h0M277.0 301.7h0M152.9 302.9h0M177.3 301.9h0M172.0 303.2h0M281.9 299.4h0M158.9 303.2h0M290.7 299.9h0M224.8 300.0h0M224.4 303.2h0M159.3 302.1h0M251.4 300.9h0M244.5 300.0h0M156.0 303.3h0M233.2 299.0h0M221.2 301.8h0M163.2 299.1h0M232.7 303.0h0M255.1 298.9h0M291.0 303.0h0M273.9 300.3h0M263.3 301.8h0M177.9 299.9h0M235.0 300.5h0M188.7 302.2h0M222.9 301.1h0M267.8 302.0h0M167.7 301.5h0M157.1 302.3h0M199.2 299.8h0M204.1 301.1h0M189.9 301.1h0M288.6 303.1h0M205.2 302.0h0M194.8 303.4h0M281.1 299.5h0M227.3 302.4h0M163.1 298.9h0M249.3 301.1h0M289.1 303.2h0M191.6 299.4h0M244.6 298.9h0M266.3 302.8h0M183.3 300.8h0M234.9 302.2h0M209.5 302.3h0M171.6 302.5h0M183.7 300.8h0M216.3 302.2h0M169.5 300.2h0"/><path stroke="#1b068d" stroke-width="2.20" d="M175.0 360.7h0M103.2 353.5h0M124.5 356.7h0M191.9 361.5h0M119.8 357.7h0M167.9 362.8h0M176.5 361.4h0M161.8 362.0h0M136.9 359.2h0M162.1 360.1h0M189.1 359.6h0M201.8 359.8h0M120.0 356.4h0M120.2 357.0h0M122.4 356.7h0M124.2 356.3h0M150.9 359.1h0M156.8 360.2h0M169.7 361.5h0M139.0 360.4h0M174.4 359.5h0M144.7 359.4h0M112.9 355.2h0M180.7 363.0h0M150.6 359.2h0M126.4 357.9h0M108.3 356.0h0M175.8 360.8h0M176.8 360.0h0M171.7 359.4h0M165.9 362.3h0M154.5 359.6h0M127.6 359.4h0M156.7 359.6h0M188.1 360.4h0M177.7 359.0h0M111.8 354.7h0M127.3 358.4h0M173.1 363.2h0M171.3 359.4h0M157.3 362.1h0M179.9 362.9h0M142.6 359.2h0M123.8 356.4h0M190.4 359.4h0M132.4 358.7h0M118.5 355.4h0M192.7 360.9h0M189.4 360.4h0M130.9 359.5h0M119.7 357.7h0M106.5 355.6h0M176.4 360.5h0M108.0 355.8h0M113.7 356.9h0M126.6 357.5h0M199.3 359.2h0M156.3 361.1h0M121.4 357.3h0M176.9 362.4h0M139.6 358.2h0M166.2 362.8h0M150.4 361.7h0M120.2 357.3h0M147.1 359.9h0"/><path stroke="#f68d45" stroke-width="2.20" d="M188.4 291.6h0M210.6 288.4h0M289.5 288.2h0M198.7 291.0h0M251.7 291.2h0M256.1 290.7h0M269.7 291.9h0M224.8 288.2h0M288.0 289.0h0M223.7 291.6h0M185.1 289.3h0M263.3 292.4h0M242.0 289.9h0M212.6 289.5h0M257.0 288.7h0M215.5 293.3h0M235.3 293.1h0M242.7 293.1h0M183.8 289.7h0M270.4 289.1h0M207.3 293.1h0M195.8 290.7h0M291.4 292.9h0M214.0 291.9h0M193.9 289.8h0M271.1 291.4h0M265.5 289.5h0M286.2 290.8h0M253.1 291.1h0M278.7 289.6h0M189.6 293.8h0M213.3 289.9h0M182.6 293.6h0M272.8 290.1h0M183.5 290.3h0M194.0 291.4h0M269.6 292.9h0M215.6 288.9h0M183.7 293.1h0M269.5 291.2h0M202.5 289.0h0M192.7 291.2h0M278.6 290.9h0M223.4 292.2h0M185.2 293.2h0M241.0 288.3h0M255.4 288.6h0M259.6 293.9h0M252.3 289.0h0M229.0 292.7h0M280.0 288.4h0M202.8 292.6h0M263.0 288.1h0M240.1 293.9h0M243.3 290.9h0M287.6 293.8h0M236.3 290.3h0M259.2 288.4h0M200.8 292.1h0M283.0 292.3h0M290.1 288.4h0M280.8 292.3h0M240.3 289.3h0M185.0 290.3h0M255.3 289.9h0M229.2 291.6h0M288.8 293.5h0M284.2 290.2h0M258.0 292.5h0M286.8 293.4h0M245.8 292.0h0M262.6 289.8h0M246.5 289.2h0M218.9 292.5h0M227.6 292.3h0M254.5 290.0h0M267.7 293.5h0M280.0 290.8h0M267.1 291.4h0M216.3 292.8h0M201.8 290.7h0M276.7 292.9h0M189.6 290.9h0M278.1 292.8h0M228.2 289.2h0M274.9 293.0h0M231.7 293.8h0M257.4 290.6h0M266.2 291.2h0M195.6 288.8h0M214.2 293.4h0M266.7 292.0h0M244.0 291.1h0M221.3 288.4h0M286.9 293.3h0M237.4 292.1h0M181.3 290.2h0M291.3 293.1h0"/><path stroke="#5502a4" stroke-width="2.20" d="M213.6 347.4h0M154.1 346.7h0M149.2 344.5h0M153.4 345.0h0M100.6 341.1h0M143.2 347.0h0M182.1 348.4h0M209.5 345.2h0M85.9 341.9h0M186.0 346.0h0M213.0 348.1h0M145.1 344.9h0M87.5 339.4h0M143.0 344.7h0M163.3 344.9h0M186.9 345.7h0M186.9 346.8h0M171.3 345.4h0M217.9 345.4h0M183.3 348.1h0M163.6 346.2h0M229.8 347.0h0M225.6 345.2h0M143.9 347.9h0M118.5 342.1h0M97.6 341.9h0M162.4 345.3h0M211.4 347.2h0M205.5 346.4h0M160.4 347.1h0M106.2 341.9h0M130.7 343.7h0M214.9 346.6h0M209.8 346.3h0M149.6 344.8h0M145.1 346.6h0M196.2 345.2h0M91.9 340.8h0M224.3 347.2h0M121.4 342.2h0M152.8 344.4h0M139.7 346.3h0M226.9 345.5h0M194.5 347.4h0M212.7 346.3h0M184.7 346.1h0M225.6 344.8h0M98.7 340.6h0M131.9 345.4h0M112.5 344.0h0M222.0 345.5h0M156.0 347.8h0M96.8 343.0h0M97.0 340.5h0M230.9 346.9h0M102.8 342.0h0M156.0 347.8h0M136.1 346.0h0M160.3 344.3h0M200.7 348.3h0M164.6 345.1h0M111.2 343.7h0M152.2 346.9h0M118.3 342.2h0M117.5 343.3h0M116.6 344.8h0M174.6 347.5h0M143.6 344.7h0M147.4 346.3h0M83.4 339.7h0M133.9 346.6h0M146.3 344.7h0M120.0 344.8h0M91.1 341.9h0M227.5 345.2h0M140.9 347.2h0M234.8 344.6h0M164.7 347.3h0M229.8 345.1h0M103.7 343.2h0M118.1 344.6h0M123.8 344.2h0M105.4 343.5h0M225.5 346.6h0M172.9 347.7h0M120.6 344.8h0M162.3 345.5h0M109.4 341.1h0M114.1 341.7h0M193.5 345.2h0M195.9 348.4h0M226.5 346.0h0"/><path stroke="#a21d9a" stroke-width="2.20" d="M211.0 327.3h0M145.8 328.0h0M242.9 327.6h0M282.0 328.1h0M164.0 328.4h0M225.4 327.8h0M214.9 327.8h0M165.8 327.8h0M236.2 325.3h0M243.4 327.7h0M256.7 327.5h0M110.1 324.5h0M146.8 326.3h0M148.0 326.9h0M142.9 325.2h0M137.4 327.2h0M264.6 326.4h0M109.3 322.8h0M196.3 326.6h0M103.7 324.4h0M248.3 327.8h0M179.7 325.8h0M249.8 325.7h0M161.8 327.3h0M191.2 328.4h0M187.3 327.8h0M184.8 327.7h0M133.3 326.0h0M258.0 327.9h0M254.5 325.6h0M266.9 327.8h0M249.6 327.6h0M248.1 327.4h0M199.9 326.0h0M247.3 326.9h0M139.4 326.6h0M203.4 325.5h0M133.6 325.6h0M207.4 325.3h0M139.2 325.8h0M264.4 325.4h0M189.1 328.6h0M257.3 326.7h0M198.2 326.9h0M173.1 326.9h0M173.2 325.8h0M121.1 324.2h0M203.9 326.1h0M255.9 327.5h0M134.8 327.0h0M110.6 322.6h0M263.5 327.3h0M185.0 327.4h0M163.1 327.0h0M130.5 324.4h0M226.8 325.4h0M250.9 326.6h0M111.8 322.6h0M124.2 323.3h0M267.8 328.3h0M252.1 326.3h0M202.8 328.1h0M127.0 324.6h0M225.5 328.5h0M274.0 327.1h0M261.1 327.6h0M286.5 326.8h0M142.8 325.3h0M244.6 327.4h0M166.3 326.3h0M167.6 328.4h0M260.2 327.3h0M142.4 326.3h0M147.1 325.6h0M244.8 326.2h0M286.7 328.0h0M148.5 327.5h0M279.4 326.5h0M116.4 322.8h0M244.5 329.0h0M246.8 327.6h0M237.1 325.5h0M201.4 325.3h0M207.5 328.2h0M162.1 328.9h0M211.7 327.8h0M178.1 327.9h0M269.5 327.2h0M167.1 328.0h0M107.7 324.7h0M187.2 326.1h0M133.9 324.2h0M117.3 322.9h0M140.0 324.8h0M192.8 327.1h0M202.3 325.3h0M270.6 328.2h0M238.9 328.2h0M252.7 325.8h0M162.5 327.2h0M210.6 325.3h0M128.0 324.5h0M285.9 327.4h0M256.1 325.5h0M277.9 327.0h0M203.8 327.9h0M128.6 324.8h0M200.7 328.9h0M184.1 325.7h0M289.6 327.3h0M258.6 326.0h0M173.6 328.6h0M193.7 328.9h0M285.9 328.9h0M165.6 325.4h0M239.5 326.0h0M140.8 327.2h0M107.2 324.0h0M241.7 327.4h0M182.2 328.2h0"/><path stroke="#b02991" stroke-width="2.20" d="M153.8 324.9h0M267.1 322.8h0M162.5 324.0h0M226.3 324.5h0M170.8 323.9h0M111.8 321.0h0M234.5 324.1h0M185.6 322.0h0M276.1 322.7h0M161.3 322.5h0M241.1 322.9h0M224.4 322.1h0M142.0 323.5h0M278.7 322.6h0M136.5 321.8h0M289.8 323.0h0M114.0 321.2h0M212.6 324.9h0M285.1 323.8h0M227.9 322.5h0M152.3 322.0h0M201.8 322.0h0M126.9 321.2h0M287.0 322.9h0M228.5 322.7h0M232.2 324.7h0M132.0 323.3h0M255.8 322.5h0M123.7 322.3h0M123.1 321.2h0M259.2 322.5h0M182.7 324.6h0M139.9 322.5h0M174.5 323.2h0M199.8 322.1h0M184.3 323.1h0M140.5 323.7h0M133.9 322.2h0M172.1 322.8h0M251.8 321.8h0M160.2 322.4h0M206.9 324.4h0M114.2 320.9h0M167.6 323.7h0M145.8 322.9h0M225.5 324.9h0M170.9 325.1h0M248.6 323.1h0M224.1 324.4h0M188.2 324.4h0M184.6 324.9h0M169.9 324.4h0M174.3 321.9h0M195.6 324.8h0M217.2 323.1h0M230.7 324.9h0M148.2 324.0h0M135.0 323.5h0M234.5 322.3h0M291.8 324.8h0M206.1 324.8h0M145.3 324.4h0M182.2 323.4h0M168.6 324.7h0M143.6 323.3h0M127.2 320.7h0M274.1 322.8h0M259.2 321.9h0M150.2 322.9h0M117.3 320.5h0M132.1 322.0h0M272.8 324.9h0M244.0 325.0h0M118.3 320.3h0M233.5 322.9h0M116.4 320.7h0M120.3 320.0h0M215.6 323.0h0M250.8 325.0h0M242.0 324.5h0M266.2 321.8h0M218.0 322.9h0M254.3 323.4h0M121.8 322.2h0M131.3 320.5h0M194.8 324.6h0M232.6 324.1h0M181.6 321.8h0M201.3 322.8h0M209.7 324.9h0M262.3 322.9h0M132.6 322.0h0M225.1 322.3h0M218.9 323.3h0M254.4 324.1h0M191.2 324.3h0M217.4 323.7h0M237.0 323.1h0M116.6 322.0h0M147.8 323.4h0M222.6 324.5h0M194.1 323.7h0M291.6 322.4h0M292.0 323.3h0M143.6 324.0h0"/><path stroke="#fa9c3c" stroke-width="2.20" d="M263.3 284.9h0M221.2 287.6h0M256.6 286.6h0M245.4 282.9h0M241.7 284.4h0M203.3 286.4h0M243.8 287.3h0M255.8 287.1h0M210.1 283.8h0M206.2 287.5h0M251.7 282.3h0M268.8 287.4h0M211.2 282.2h0M268.1 284.2h0M254.3 285.7h0M210.8 287.4h0M213.3 284.9h0M198.7 286.6h0M249.3 283.4h0M191.2 287.3h0M207.6 283.9h0M269.2 284.2h0M198.7 284.0h0M227.5 286.9h0M209.0 283.9h0M236.5 282.7h0M211.7 284.4h0M273.1 286.4h0M259.6 285.5h0M225.2 286.8h0M254.5 286.4h0M276.9 287.8h0M280.9 283.6h0M223.2 282.8h0M253.2 286.5h0M191.7 286.4h0M218.5 285.5h0M212.3 282.5h0M233.1 282.5h0M249.2 285.3h0M265.3 287.8h0M191.1 286.2h0M290.7 286.7h0M210.5 283.4h0M277.9 282.4h0M216.0 284.1h0M202.1 282.5h0M203.4 287.1h0M240.3 286.2h0M267.4 285.8h0M269.0 287.2h0M196.6 285.9h0M254.2 286.1h0M198.4 284.2h0M229.1 283.4h0M219.5 282.4h0M247.7 284.5h0M257.3 286.0h0M285.9 286.8h0M239.1 282.9h0M245.5 282.8h0M283.8 286.6h0M263.9 287.6h0M194.7 285.4h0M242.3 282.9h0M289.3 287.5h0M263.2 285.0h0M272.9 286.9h0M217.6 284.9h0M274.0 286.0h0M207.9 283.9h0M199.4 287.7h0M195.9 284.5h0M275.1 284.3h0M215.4 282.5h0M211.1 284.9h0M211.5 283.1h0M207.2 283.8h0M193.7 285.7h0M276.1 285.5h0M253.8 285.4h0M215.2 285.7h0M192.6 287.9h0M247.5 283.3h0M208.5 283.1h0M245.2 286.3h0M231.8 283.2h0"/><path stroke="#8606a6" stroke-width="2.20" d="M253.6 335.7h0M265.7 334.7h0M206.4 337.0h0M220.8 333.9h0M242.5 335.5h0M94.9 329.9h0M153.6 333.5h0M240.9 335.4h0M204.1 335.0h0M117.7 332.7h0M253.9 336.9h0M192.5 334.4h0M231.1 337.2h0M188.4 335.0h0M204.9 336.7h0M100.3 328.3h0M244.9 334.2h0M155.2 336.5h0M179.0 333.6h0M158.6 333.9h0M144.1 336.4h0M112.5 333.4h0M131.4 333.4h0M134.3 332.4h0M117.7 330.9h0M247.5 333.4h0M137.3 336.0h0M159.3 335.9h0M260.7 336.8h0M153.3 335.3h0M106.6 332.3h0M108.5 331.7h0M166.6 333.5h0M263.1 335.3h0M123.7 330.9h0M180.2 336.8h0M91.7 330.6h0M198.9 336.0h0M199.4 336.2h0M152.4 336.2h0M221.0 335.5h0M145.8 335.8h0M151.3 335.3h0M190.1 334.2h0M101.8 330.3h0M101.4 328.8h0M203.4 335.0h0M151.5 336.1h0M263.4 333.4h0M205.1 333.4h0M171.7 335.0h0M127.0 333.6h0M164.9 335.6h0M183.3 333.3h0M148.6 334.0h0M208.9 336.2h0M156.1 334.3h0M262.6 334.2h0M98.8 331.7h0M145.6 333.3h0M209.1 336.6h0M171.9 334.1h0M203.4 336.8h0M205.0 334.0h0M217.9 337.1h0M263.7 334.0h0M239.3 336.8h0M237.4 335.3h0M97.6 331.6h0M260.1 334.4h0M218.3 334.5h0M235.6 335.0h0M154.0 334.3h0M136.7 332.7h0M96.5 330.6h0M211.4 333.2h0M103.4 328.9h0M229.7 336.8h0M107.0 329.5h0M156.0 334.8h0M199.3 334.6h0M167.1 336.1h0M116.5 331.9h0M245.3 337.1h0M181.7 334.8h0M109.0 331.8h0M132.1 332.4h0M213.0 336.2h0M108.1 332.9h0M229.3 333.8h0M210.1 333.7h0M105.6 330.4h0M219.8 335.3h0M211.4 334.3h0M110.3 331.9h0M227.6 334.4h0M229.6 336.7h0M181.9 335.3h0M207.2 334.3h0M174.3 333.6h0M206.7 333.5h0M149.5 334.9h0M252.8 333.3h0M153.4 337.1h0M100.0 332.0h0M101.4 330.0h0M188.4 334.3h0M254.3 335.6h0M212.6 333.3h0M146.1 336.0h0M223.0 335.9h0M211.6 337.1h0M239.2 336.8h0M127.9 333.6h0M165.5 333.7h0M119.0 332.6h0M132.2 334.4h0M251.0 334.8h0M235.4 335.8h0M206.0 335.0h0M158.1 336.6h0M168.3 333.7h0"/><path stroke="#310597" stroke-width="2.20" d="M122.2 351.9h0M210.3 355.3h0M195.8 355.2h0M151.9 353.9h0M178.7 355.8h0M136.6 354.4h0M139.4 354.8h0M88.5 348.9h0M188.9 357.3h0M104.2 350.8h0M200.9 357.7h0M147.7 356.1h0M107.9 352.4h0M138.6 355.8h0M137.7 355.2h0M96.9 350.0h0M124.8 355.4h0M170.4 356.2h0M161.1 354.1h0M151.0 354.1h0M147.4 356.2h0M134.7 356.0h0M191.5 355.6h0M109.7 349.7h0M115.9 354.3h0M85.9 347.5h0M164.5 354.0h0M123.1 352.5h0M174.8 356.6h0M150.4 358.4h0M106.2 350.6h0M93.7 349.6h0M105.8 352.5h0M210.7 355.1h0M158.1 355.9h0M122.1 353.7h0M152.5 357.4h0M103.5 353.1h0M161.9 355.1h0M192.4 356.6h0M111.7 349.5h0M115.6 351.9h0M138.7 355.6h0M145.5 358.8h0M173.3 356.2h0M123.9 354.3h0M171.6 358.6h0M196.8 358.7h0M204.9 356.6h0M198.1 356.0h0M129.5 356.4h0M197.1 358.8h0M161.7 354.6h0M185.1 355.4h0M95.6 349.7h0M108.6 351.6h0M110.4 351.0h0M156.7 355.2h0M134.4 353.9h0M102.3 350.8h0M165.5 357.4h0M176.8 356.9h0M130.7 355.3h0M199.0 355.4h0M141.0 355.1h0M111.1 349.6h0M180.8 358.7h0M112.1 352.6h0M97.5 351.6h0M112.8 352.7h0M142.1 354.4h0M88.4 349.1h0M194.8 355.3h0M109.2 352.2h0M115.4 352.2h0M163.4 354.7h0M90.8 347.9h0M190.7 354.4h0M99.6 348.6h0M116.4 351.6h0M196.8 354.6h0M173.1 356.7h0M106.4 351.7h0M164.3 357.7h0M110.2 349.5h0M151.1 357.2h0M155.6 357.7h0M91.8 346.9h0M123.9 353.1h0M93.3 348.4h0M175.1 355.0h0M142.6 354.4h0M99.8 352.3h0M146.9 354.0h0M188.5 358.5h0M97.9 348.2h0M113.3 352.9h0M180.8 358.6h0M125.0 353.4h0M105.7 352.4h0M174.5 357.6h0M96.9 350.9h0M108.5 352.4h0M200.2 354.9h0M86.6 348.2h0M158.2 355.9h0M108.2 350.7h0"/><path stroke="#bc3587" stroke-width="2.20" d="M252.4 318.7h0M279.3 319.6h0M162.7 321.3h0M241.9 320.6h0M203.2 320.5h0M178.1 320.7h0M225.7 318.7h0M284.1 320.2h0M128.9 317.3h0M184.8 319.6h0M122.0 318.4h0M230.7 320.7h0M143.5 319.1h0M147.3 320.9h0M284.8 318.6h0M258.3 319.5h0M144.7 319.0h0M277.0 319.9h0M195.2 321.5h0M188.9 320.1h0M270.0 318.6h0M144.7 320.7h0M247.7 319.9h0M164.8 320.6h0M251.8 318.4h0M231.7 321.0h0M223.6 320.8h0M281.1 319.7h0M280.8 321.3h0M171.1 318.6h0M275.1 318.8h0M291.9 320.2h0M174.8 318.9h0M230.5 319.4h0M235.6 320.9h0M223.4 321.6h0M206.4 320.8h0M248.4 319.4h0M174.5 321.1h0M217.8 319.9h0M165.3 320.9h0M282.8 319.1h0M124.2 317.5h0M257.2 320.4h0M178.3 319.1h0M159.4 321.0h0M187.0 321.0h0M152.0 319.6h0M193.7 320.7h0M145.5 321.4h0M178.2 320.0h0M132.2 318.8h0M236.6 319.7h0M265.9 318.8h0M147.4 318.5h0M146.9 319.6h0M216.1 320.8h0M124.0 317.3h0M133.7 319.1h0M286.0 321.0h0M227.5 321.6h0M288.6 320.0h0M231.5 321.0h0M190.7 320.7h0M192.5 318.5h0M235.9 319.0h0M239.1 318.8h0M222.4 319.6h0M139.7 319.6h0M242.7 319.9h0M167.7 319.1h0M174.0 319.2h0M219.7 318.7h0M125.7 319.5h0M192.9 319.4h0M281.8 321.6h0M155.9 319.0h0M127.1 319.8h0M229.6 320.7h0M207.1 321.2h0M164.6 319.8h0M174.6 320.3h0M191.7 320.8h0M204.6 321.0h0M171.4 318.8h0M283.1 318.9h0M204.2 319.7h0M240.9 319.7h0M202.9 320.0h0M146.9 319.3h0M270.9 320.2h0M262.5 320.0h0M178.3 319.8h0M186.8 319.3h0M172.4 320.0h0M160.4 321.3h0M207.2 319.4h0M137.8 319.8h0M165.5 319.9h0M238.4 320.5h0M273.7 318.9h0M229.9 318.5h0"/><path stroke="#43039e" stroke-width="2.20" d="M90.5 343.7h0M150.5 350.2h0M224.4 350.0h0M120.0 349.4h0M180.2 352.7h0M100.7 344.3h0M186.2 350.9h0M98.3 344.6h0M171.4 352.9h0M112.6 346.5h0M149.9 351.6h0M110.5 347.7h0M173.5 349.8h0M155.8 349.6h0M104.0 346.8h0M191.4 350.6h0M167.1 352.8h0M85.8 344.0h0M160.8 351.7h0M95.0 346.4h0M214.2 350.0h0M205.7 352.9h0M95.5 345.9h0M179.1 352.4h0M133.6 350.6h0M198.9 352.2h0M212.0 353.4h0M187.2 353.4h0M220.3 350.9h0M180.0 349.2h0M160.1 348.6h0M188.7 351.6h0M220.3 350.2h0M124.3 350.1h0M139.9 351.0h0M221.4 349.4h0M144.1 353.6h0M84.2 344.5h0M105.7 347.4h0M164.1 353.2h0M157.5 352.2h0M92.6 344.7h0M128.2 349.1h0M189.9 351.1h0M167.6 352.0h0M88.2 343.9h0M144.8 349.0h0M111.8 346.1h0M90.6 345.8h0M176.0 352.9h0M213.2 353.4h0M107.7 345.3h0M187.0 353.4h0M167.3 351.5h0M193.0 353.1h0M152.1 351.0h0M170.8 350.9h0M116.7 348.0h0M125.1 350.7h0M185.4 348.7h0M141.3 352.9h0M181.0 352.5h0M96.2 343.6h0M125.1 348.3h0M207.6 352.2h0M213.3 352.7h0M124.6 348.3h0M205.3 348.6h0M119.8 348.7h0M89.2 342.7h0M131.4 346.8h0M108.7 346.2h0M130.3 348.6h0M111.3 347.7h0M132.7 346.8h0M99.4 346.9h0M194.0 351.0h0M140.9 350.9h0M97.1 343.4h0M175.2 352.1h0M210.6 350.3h0M118.0 348.5h0M213.4 352.0h0M111.5 346.9h0M119.8 345.4h0M102.2 343.8h0M95.0 344.6h0M132.1 349.8h0M114.7 345.8h0M167.3 349.3h0M207.1 351.9h0M149.4 349.9h0M103.4 344.5h0M138.4 349.0h0M115.6 347.8h0M213.3 349.0h0M218.2 349.8h0M161.1 349.8h0M200.9 350.4h0M188.7 350.8h0M208.2 349.9h0M119.3 349.0h0M210.6 350.8h0M123.8 346.2h0M141.7 350.7h0M134.2 347.7h0M204.2 353.9h0M154.8 348.8h0M219.1 350.9h0M200.6 349.4h0M168.2 353.5h0M175.6 349.3h0M199.5 350.9h0M206.9 350.2h0M205.5 350.9h0M89.3 342.9h0M108.5 345.7h0M135.5 349.7h0M147.8 350.2h0M200.2 352.7h0M207.8 351.3h0M164.3 350.4h0M139.1 350.6h0M201.4 349.6h0M133.6 346.9h0M153.9 351.7h0M146.5 352.4h0M124.4 347.4h0M139.1 348.4h0M126.8 349.5h0M205.6 350.5h0M95.7 344.2h0M102.6 346.4h0M141.3 348.4h0"/><path stroke="#c6417d" stroke-width="2.20" d="M168.9 315.7h0M281.7 318.2h0M199.6 315.7h0M221.6 317.4h0M205.6 315.1h0M240.8 316.3h0M260.9 316.2h0M188.3 315.4h0M281.1 317.1h0M208.9 318.1h0M151.2 314.9h0M220.6 316.2h0M200.6 318.1h0M153.6 316.8h0M216.3 315.2h0M138.4 316.6h0M125.5 315.2h0M232.1 315.9h0M213.9 315.2h0M271.3 315.0h0M258.0 314.8h0M242.7 316.4h0M154.2 317.3h0M190.7 317.4h0M213.1 315.2h0M128.3 316.3h0M167.7 315.4h0M243.9 315.4h0M214.4 316.9h0M141.5 314.7h0M189.3 316.1h0M123.2 315.4h0M185.3 316.2h0M144.8 317.7h0M259.0 314.8h0M134.7 315.3h0M210.0 315.8h0M182.7 316.2h0M198.2 318.0h0M202.5 315.8h0M176.5 318.3h0M133.6 314.2h0M177.4 318.2h0M290.5 316.1h0M171.2 317.4h0M150.5 316.7h0M144.5 317.1h0M156.2 317.0h0M136.1 314.1h0M126.3 315.0h0M286.5 316.2h0M243.4 318.1h0M260.5 316.3h0M234.0 317.5h0M154.2 315.7h0M276.0 315.9h0M239.7 317.3h0M161.4 317.9h0M262.0 316.8h0M227.9 315.2h0M163.1 314.8h0M184.8 315.3h0M190.8 316.6h0M284.5 317.7h0M208.0 315.0h0M152.7 317.2h0M137.9 314.6h0M129.2 316.0h0M186.5 316.5h0M146.8 314.8h0M273.6 315.9h0M197.4 317.3h0M196.7 316.3h0M199.8 315.2h0M284.4 317.8h0M128.3 315.1h0M181.2 316.9h0M127.2 315.9h0M239.6 317.6h0M148.7 317.2h0M155.9 314.9h0M266.3 316.1h0M286.8 315.1h0M150.4 315.9h0M274.8 316.6h0M122.5 316.1h0M189.9 316.2h0"/><path stroke="#f0804e" stroke-width="2.20" d="M214.5 294.9h0M216.7 296.9h0M209.5 298.4h0M274.3 296.3h0M209.2 297.9h0M207.3 294.3h0M180.4 294.6h0M267.5 295.9h0M230.9 296.7h0M222.7 295.2h0M253.3 296.1h0M264.2 295.1h0M250.8 295.9h0M192.0 298.3h0M181.6 298.4h0M219.4 297.0h0M189.4 297.5h0M178.6 297.1h0M179.8 296.2h0M235.5 296.6h0M177.5 297.5h0M230.2 297.3h0M177.4 298.0h0M286.2 294.5h0M219.7 295.7h0M181.3 297.0h0M215.9 297.8h0M289.1 297.5h0M243.2 295.3h0M228.5 294.5h0M265.0 298.1h0M217.1 296.8h0M257.1 296.0h0M271.0 296.3h0M200.0 297.0h0M268.3 294.1h0M218.0 293.9h0M232.2 296.0h0M188.4 297.8h0M259.8 295.5h0M270.2 294.4h0M239.8 295.0h0M281.0 296.8h0M255.7 297.6h0M174.7 294.5h0M251.9 294.6h0M207.8 297.1h0M263.3 298.3h0M183.2 298.3h0M279.8 297.3h0M224.1 295.2h0M212.7 296.3h0M202.7 298.1h0M221.2 298.5h0M217.0 298.7h0M180.3 296.5h0M224.6 295.1h0M282.0 295.3h0M283.1 295.5h0M218.5 296.5h0M201.2 294.9h0M178.5 297.8h0M278.0 298.1h0M245.6 296.2h0M230.7 295.8h0M166.5 298.3h0M244.1 295.3h0M183.7 296.1h0M218.5 294.9h0M257.7 296.5h0M174.5 296.1h0M222.7 295.2h0M164.0 298.6h0M252.7 296.9h0M250.4 294.6h0M250.4 296.7h0M228.0 295.5h0M211.7 296.9h0M256.0 297.8h0M235.7 296.2h0M280.9 297.3h0M211.4 295.4h0M224.9 294.1h0M220.1 294.9h0M282.7 297.6h0M229.4 294.6h0M210.2 296.6h0M246.7 295.5h0M187.7 298.4h0M192.4 294.1h0M232.0 296.0h0"/><path stroke="#e26561" stroke-width="2.20" d="M260.1 304.2h0M273.0 305.2h0M170.5 305.8h0M195.5 307.4h0M261.5 305.1h0M188.9 305.8h0M187.0 305.5h0M275.2 305.6h0M251.0 307.4h0M176.5 305.8h0M216.7 303.6h0M284.0 306.7h0M178.0 305.9h0M212.1 307.2h0M191.6 304.0h0M270.0 305.3h0M273.6 304.8h0M224.8 305.4h0M219.3 306.1h0M279.8 304.1h0M267.3 304.0h0M187.3 305.7h0M271.1 307.1h0M274.6 304.5h0M163.7 306.9h0M181.2 305.0h0M276.9 306.2h0M228.5 307.0h0M264.1 305.6h0M230.0 306.5h0M284.2 304.3h0M180.7 303.5h0M179.5 305.7h0M264.9 305.8h0M197.9 305.6h0M215.5 305.1h0M207.7 305.7h0M182.1 305.3h0M286.7 305.5h0M228.3 305.1h0M208.7 305.9h0M199.2 304.7h0M229.7 304.2h0M246.9 305.2h0M233.1 305.7h0M161.0 304.9h0M162.0 306.1h0M156.6 305.3h0M195.0 306.7h0M227.9 303.5h0M260.3 305.6h0M279.9 306.9h0M271.3 305.0h0M175.3 305.9h0M209.3 305.3h0M181.2 303.7h0M223.6 304.9h0M248.0 304.7h0M203.6 306.0h0M160.5 303.7h0M195.9 303.7h0M210.1 305.6h0M236.5 305.6h0M274.6 305.3h0M168.5 307.0h0M255.3 305.4h0M176.3 305.7h0M148.9 307.0h0M259.0 303.5h0M192.9 306.2h0M197.7 304.4h0M281.6 303.5h0M155.1 303.8h0M282.5 303.8h0M196.5 303.6h0M271.2 306.6h0M200.9 306.7h0M190.2 305.3h0M193.3 303.6h0M174.5 306.0h0M170.6 305.5h0M170.2 305.9h0M234.6 307.0h0M153.9 306.7h0M279.3 306.5h0M191.8 303.5h0M155.4 305.7h0M241.3 306.4h0M272.9 303.9h0M165.6 304.8h0M226.7 304.9h0M201.1 304.3h0M273.3 305.6h0M225.6 303.4h0M224.7 306.3h0M161.6 306.3h0M192.2 304.0h0M172.0 303.8h0M231.0 306.0h0M276.2 306.0h0M262.5 306.3h0M219.6 304.5h0M165.9 307.4h0M291.7 305.1h0M158.3 303.9h0M244.2 306.6h0M162.2 304.5h0M207.5 304.3h0M281.3 304.3h0M171.0 305.1h0M232.8 304.4h0M216.1 304.1h0M205.3 305.3h0M184.6 305.6h0M258.2 306.1h0M192.7 306.4h0"/><path stroke="#6600a7" stroke-width="2.20" d="M177.6 343.5h0M197.1 343.9h0M185.0 341.8h0M90.4 337.7h0M119.3 339.0h0M142.5 341.4h0M231.9 343.4h0M224.8 342.7h0M206.3 342.4h0M124.9 341.8h0M102.5 339.0h0M152.6 342.7h0M229.0 343.1h0M233.2 342.8h0M176.9 341.8h0M103.3 339.7h0M168.7 341.6h0M177.4 342.5h0M144.9 340.9h0M153.3 343.2h0M121.2 340.9h0M101.2 339.2h0M203.4 343.1h0M119.4 339.8h0M232.5 342.0h0M135.7 342.4h0M168.8 342.1h0M142.8 344.0h0M200.7 342.9h0M182.6 343.3h0M198.5 341.2h0M104.3 339.7h0M130.0 340.6h0M171.7 343.7h0M93.5 338.7h0M128.5 340.1h0M125.6 339.9h0M166.9 341.4h0M207.4 342.8h0M101.5 336.6h0M215.1 342.3h0M173.7 342.5h0M104.4 338.9h0M195.5 343.4h0M100.6 339.4h0M117.7 341.6h0M189.3 340.9h0M116.7 339.9h0M196.3 340.9h0M168.8 342.1h0M208.5 344.2h0M155.5 344.2h0M118.3 341.0h0M119.5 338.9h0M133.8 339.8h0M243.8 341.5h0M89.9 338.4h0M92.7 336.8h0M101.2 338.5h0M101.1 338.7h0M99.9 336.4h0M176.5 341.4h0M140.7 342.0h0M167.7 342.1h0M86.4 336.6h0M118.1 340.1h0M197.2 343.5h0M137.0 341.5h0M142.6 340.5h0M122.7 338.7h0M95.5 337.3h0M218.6 341.9h0M148.3 341.0h0M85.9 337.6h0M196.0 340.9h0M89.3 337.4h0M156.6 344.2h0M195.9 342.5h0M108.3 338.2h0M130.1 340.6h0M110.3 337.4h0M90.0 338.9h0M200.7 341.5h0M201.5 340.8h0M192.8 343.1h0M173.1 341.4h0M232.6 343.4h0M104.7 340.2h0M192.4 341.7h0M122.6 339.3h0M120.6 338.9h0M143.9 341.5h0M227.3 343.9h0M224.9 342.3h0M150.4 341.9h0M101.9 338.3h0M86.8 337.9h0M153.6 344.1h0M84.3 336.7h0M88.0 338.2h0"/><path stroke="#9511a1" stroke-width="2.20" d="M256.5 331.1h0M192.5 330.8h0M235.6 330.4h0M173.6 332.5h0M235.1 332.1h0M181.0 332.4h0M164.5 330.2h0M204.1 331.7h0M142.2 332.2h0M190.2 332.9h0M167.3 331.6h0M135.1 328.2h0M178.3 330.7h0M236.8 329.1h0M124.9 327.0h0M233.2 333.0h0M209.4 329.7h0M250.4 331.1h0M182.8 330.4h0M235.0 330.1h0M118.9 326.6h0M157.1 332.3h0M102.3 325.6h0M141.9 332.0h0M176.9 330.9h0M154.5 331.5h0M252.1 329.5h0M152.6 330.0h0M134.1 331.0h0M227.1 332.3h0M150.9 329.2h0M144.4 329.3h0M262.0 330.1h0M169.6 332.1h0M194.4 332.6h0M233.5 332.3h0M246.4 330.0h0M96.3 327.4h0M213.0 330.2h0M119.9 330.1h0M224.6 332.0h0M275.7 331.0h0M282.2 329.3h0M171.6 333.1h0M163.7 331.6h0M125.1 327.6h0M266.8 329.9h0M158.5 329.1h0M110.9 327.3h0M243.4 330.3h0M154.6 331.9h0M113.6 329.2h0M239.4 330.0h0M113.9 326.5h0M266.6 329.4h0M142.9 331.4h0M145.3 329.8h0M175.1 329.2h0M227.6 331.8h0M184.1 329.1h0M182.0 331.7h0M149.6 332.0h0M200.1 329.2h0M260.7 329.6h0M201.2 332.4h0M218.4 333.1h0M152.5 331.7h0M249.1 332.6h0M160.2 331.6h0M163.0 329.5h0M245.5 331.5h0M150.0 333.1h0M100.6 327.8h0M233.2 330.5h0M206.5 331.6h0M179.2 330.2h0M126.6 327.7h0M128.1 328.7h0M201.1 332.6h0M165.6 331.8h0M99.5 326.4h0M120.8 329.0h0M185.4 331.1h0M181.5 330.8h0M120.9 328.4h0M179.6 332.1h0M216.4 330.8h0M231.4 329.5h0M255.0 330.1h0M126.4 328.5h0M113.2 325.9h0M115.0 328.6h0M143.4 330.5h0M116.1 326.9h0M134.5 330.1h0M158.5 331.7h0M99.5 327.1h0M191.8 329.3h0M230.8 331.4h0M248.8 331.1h0M120.5 329.9h0M258.2 330.3h0"/><path stroke="#7501a8" stroke-width="2.20" d="M190.2 338.2h0M139.7 336.8h0M172.9 337.3h0M102.1 332.9h0M126.7 335.5h0M124.4 337.6h0M150.6 340.6h0M152.2 340.4h0M223.4 339.0h0M177.6 340.5h0M109.1 335.0h0M243.2 339.8h0M256.6 338.3h0M188.4 337.3h0M189.3 339.3h0M105.2 336.7h0M233.7 337.6h0M224.3 339.4h0M97.5 333.0h0M122.9 338.2h0M194.6 340.6h0M243.3 338.3h0M163.8 340.0h0M187.9 338.4h0M119.7 337.8h0M93.4 334.8h0M217.1 340.2h0M193.1 338.3h0M172.2 338.5h0M209.8 338.8h0M219.3 340.7h0M183.9 338.2h0M134.8 336.7h0M194.5 337.3h0M254.6 337.6h0M138.9 338.8h0M121.0 338.3h0M87.1 332.2h0M115.0 336.0h0M222.3 339.3h0M114.9 337.8h0M211.3 338.0h0M140.2 338.2h0M220.3 338.2h0M227.1 340.4h0M195.5 338.7h0M163.4 340.7h0M188.7 338.5h0M161.4 338.5h0M105.5 334.3h0M94.3 334.5h0M226.3 340.7h0M171.0 337.7h0M250.1 338.8h0M108.9 333.8h0M229.5 339.3h0M218.3 337.7h0M124.3 338.4h0M223.5 340.3h0M219.8 339.6h0M98.0 333.1h0M104.1 335.9h0M152.4 338.5h0M218.1 339.1h0M89.0 333.9h0M183.4 340.3h0M141.8 338.5h0M126.0 336.2h0M129.3 336.9h0M230.7 338.3h0M90.3 335.1h0M96.3 333.8h0M135.0 338.9h0M122.4 337.5h0M99.8 333.6h0M205.7 338.4h0M175.1 337.6h0M177.7 339.1h0M230.3 338.7h0M167.6 338.6h0M96.8 335.4h0M181.5 339.7h0M123.8 338.0h0M175.9 338.2h0M114.1 335.2h0M102.0 333.8h0M184.2 337.3h0M233.7 339.7h0M167.3 339.0h0M100.3 333.2h0M96.4 332.8h0M218.8 340.4h0M224.2 337.3h0M249.8 340.2h0M126.8 337.2h0M185.9 337.4h0M159.9 337.8h0M94.1 331.7h0M197.4 339.8h0M102.3 335.6h0M89.2 332.5h0M176.3 338.7h0M114.8 337.3h0M220.1 340.0h0M227.7 339.5h0M150.1 339.2h0M151.6 339.5h0M133.7 337.3h0M116.1 337.0h0M145.4 337.4h0M86.1 334.2h0"/><path stroke="#fdac33" stroke-width="2.20" d="M241.8 280.2h0M265.1 280.3h0M261.0 281.5h0M234.3 280.1h0M251.3 280.2h0M216.7 282.1h0M214.0 280.4h0M278.1 282.1h0M243.6 281.9h0M273.3 282.0h0M286.3 282.0h0M236.4 282.2h0M214.6 280.7h0M222.5 281.6h0M284.2 280.1h0M213.8 280.5h0M273.0 281.3h0M222.5 282.1h0M291.4 281.2h0M203.7 281.8h0M253.1 280.6h0M245.4 281.1h0M205.3 280.9h0M225.2 281.2h0M267.9 281.4h0M271.2 281.2h0M270.5 280.2h0M225.6 281.2h0M208.0 281.6h0M221.8 281.2h0M286.0 281.8h0M246.0 280.9h0M246.7 281.5h0M268.4 280.4h0M206.8 280.6h0M266.7 281.7h0"/><path stroke="#0b800b" stroke-width="3.30" d="M265.6 275.1h0M254.6 277.5h0M291.1 258.2h0M248.7 266.0h0M267.0 270.2h0M287.6 272.9h0M267.8 265.5h0M217.1 280.0h0M273.9 277.3h0M249.7 266.9h0M280.5 275.1h0M272.4 259.8h0M267.7 277.3h0M233.7 272.7h0M275.4 263.7h0M291.0 264.8h0M274.5 261.6h0M242.0 273.4h0M242.1 274.2h0M260.6 261.3h0M229.9 275.2h0M259.5 272.1h0M284.2 253.0h0M251.2 271.8h0M285.4 275.2h0M236.3 270.9h0M288.3 257.0h0M228.4 274.7h0M274.9 262.3h0M237.1 273.4h0M246.7 271.9h0M279.5 274.9h0M215.9 278.7h0M257.3 262.6h0M286.8 256.7h0M284.1 265.5h0M285.8 274.8h0M254.9 264.0h0M289.8 273.0h0M276.8 261.5h0M284.2 266.4h0M242.6 267.2h0M291.9 269.2h0M274.4 279.5h0M236.2 277.8h0M271.6 257.9h0M224.6 278.8h0M289.1 252.8h0M248.3 265.1h0M250.3 278.6h0M255.0 270.4h0M218.2 276.1h0M289.9 266.0h0M260.9 265.8h0M284.9 257.5h0M249.9 271.2h0M224.5 278.5h0M258.7 277.4h0M258.5 275.4h0M246.3 279.1h0M268.1 267.1h0M271.9 263.3h0M277.2 259.6h0M280.1 279.8h0M228.0 279.7h0M284.7 252.6h0M269.9 277.5h0M270.4 279.8h0M285.0 277.9h0M280.4 257.1h0M265.5 260.7h0M284.1 273.1h0M240.1 272.9h0M254.0 269.8h0M238.1 268.0h0M257.5 275.7h0M270.2 259.0h0M250.2 273.6h0M262.9 277.5h0M258.6 260.9h0M271.3 258.8h0M242.1 273.4h0M220.7 276.2h0M276.8 270.4h0M291.4 260.2h0M283.1 275.7h0M275.2 272.8h0M246.1 265.8h0M259.4 262.5h0M283.9 255.4h0M262.8 264.5h0M246.3 273.4h0M266.6 264.4h0M285.2 276.2h0M273.3 257.7h0M221.1 277.9h0M263.7 263.6h0M279.0 264.6h0M285.1 272.7h0M228.5 275.0h0M274.4 274.1h0M290.2 255.5h0M232.4 277.4h0M271.0 271.9h0M290.6 257.5h0M241.3 271.7h0M284.8 279.2h0M266.8 278.7h0M259.4 274.6h0M274.9 264.9h0M280.4 272.7h0M260.8 272.7h0M285.3 270.7h0M268.5 269.2h0M261.2 276.2h0M285.7 279.3h0M243.3 273.0h0M233.0 271.0h0M273.7 272.4h0M256.2 263.9h0M253.0 277.2h0M290.5 268.4h0M242.6 278.6h0M243.0 269.2h0M282.5 271.5h0M254.3 277.4h0M275.0 272.9h0M270.9 267.6h0M280.5 274.7h0M285.5 255.7h0M291.2 272.9h0M228.7 272.2h0M267.9 279.0h0M289.1 267.5h0M254.8 262.5h0M262.3 273.9h0M254.3 264.3h0M259.9 278.6h0M268.1 266.8h0M265.4 264.8h0M238.5 276.5h0M263.2 274.3h0M260.3 274.3h0M252.4 264.5h0M273.8 268.7h0M254.4 266.6h0M239.5 278.1h0M262.5 264.2h0M269.9 265.5h0M241.3 276.9h0M259.1 279.7h0M215.6 279.7h0M257.7 269.1h0M287.6 270.7h0M260.7 266.9h0M255.6 266.1h0M248.2 270.9h0M254.5 272.7h0M291.8 278.8h0M287.5 267.9h0M289.4 253.1h0M271.7 278.6h0M259.5 277.4h0M228.0 273.2h0M283.4 263.9h0M281.8 253.4h0M267.0 258.7h0M260.4 274.5h0M248.5 270.5h0M236.0 277.5h0M283.7 263.1h0M272.6 267.9h0M291.6 270.0h0M283.2 258.6h0M250.0 279.3h0M267.1 280.0h0M286.4 267.8h0M275.4 269.4h0M274.0 269.2h0M214.1 279.6h0M258.2 272.6h0M285.5 257.7h0M224.1 275.2h0M290.8 275.3h0M277.3 279.9h0M223.4 277.1h0M278.4 253.5h0M265.6 270.1h0M232.8 271.1h0M224.1 274.7h0M274.5 272.7h0M282.4 275.3h0M266.2 276.8h0M229.0 279.3h0M231.2 278.1h0M275.1 256.1h0M215.9 277.7h0M266.5 275.5h0M273.8 271.1h0M288.7 274.5h0M249.3 270.5h0M275.6 257.7h0M277.5 266.6h0M240.5 269.5h0M267.3 268.0h0M286.1 276.3h0M290.0 270.0h0M259.2 270.8h0M286.0 269.5h0M259.5 268.9h0M286.7 261.9h0M245.8 276.7h0M242.5 272.1h0M283.6 271.3h0M249.0 270.1h0M251.9 274.3h0M267.7 276.1h0M237.1 277.8h0M280.1 279.7h0M255.3 268.2h0M221.0 278.5h0M230.5 278.9h0M257.5 277.8h0M291.1 267.2h0M262.0 273.4h0M281.2 271.8h0M246.6 270.8h0M276.3 256.9h0M256.2 272.8h0M287.9 262.6h0M286.1 274.9h0M262.6 276.6h0M246.0 279.5h0M251.6 264.5h0M285.6 278.3h0M287.8 268.0h0M286.5 279.7h0M270.7 272.6h0M257.0 267.6h0M277.2 279.4h0M288.1 264.0h0"/></g></g></g><g fill="none" stroke="#8a8a8a" stroke-width="1.6"><rect x="63.0" y="60.2" width="249.2" height="185.9"/><rect x="312.2" y="60.2" width="248.6" height="185.9"/><rect x="63.0" y="246.1" width="249.2" height="186.4"/></g><path fill="none" stroke="#8a8a8a" stroke-width="1" d="M103.8 60.2v-3.5M103.8 246.1v-3.5M145.3 60.2v-3.5M145.3 246.1v-3.5M186.9 60.2v-3.5M186.9 246.1v-3.5M228.4 60.2v-3.5M228.4 246.1v-3.5M270.0 60.2v-3.5M270.0 246.1v-3.5M312.2 60.2v-3.5M367.4 60.2v-3.5M422.7 60.2v-3.5M477.9 60.2v-3.5M533.2 60.2v-3.5M63.0 60.2h-3.5M312.2 60.2h-3.5M63.0 97.4h-3.5M312.2 97.4h-3.5M63.0 134.6h-3.5M312.2 134.6h-3.5M63.0 171.7h-3.5M312.2 171.7h-3.5M63.0 208.9h-3.5M312.2 208.9h-3.5M63.0 246.1h-3.5M312.2 246.1h-3.5M63.0 266.8h-3.5M63.0 308.2h-3.5M63.0 349.6h-3.5M63.0 391.1h-3.5M63.0 432.5h-3.5"/><text transform="translate(103.8,50.9) scale(1.045,1)" text-anchor="middle" font-size="15.0">50</text><text transform="translate(145.3,50.9) scale(1.045,1)" text-anchor="middle" font-size="15.0">150</text><text transform="translate(186.9,50.9) scale(1.045,1)" text-anchor="middle" font-size="15.0">250</text><text transform="translate(228.4,50.9) scale(1.045,1)" text-anchor="middle" font-size="15.0">350</text><text transform="translate(270.0,50.9) scale(1.045,1)" text-anchor="middle" font-size="15.0">450</text><text transform="translate(312.5,50.9) scale(1.085,1)" text-anchor="middle" font-size="15.0">−<tspan dx="1.6">8</tspan></text><text transform="translate(367.7,50.9) scale(1.085,1)" text-anchor="middle" font-size="15.0">−<tspan dx="1.6">6</tspan></text><text transform="translate(423.0,50.9) scale(1.085,1)" text-anchor="middle" font-size="15.0">−<tspan dx="1.6">4</tspan></text><text transform="translate(478.2,50.9) scale(1.085,1)" text-anchor="middle" font-size="15.0">−<tspan dx="1.6">2</tspan></text><text transform="translate(533.2,50.9) scale(1.045,1)" text-anchor="middle" font-size="15.0">0</text><text transform="translate(56.6,66.1) scale(0.970,1)" text-anchor="end" font-size="15.0">12</text><text transform="translate(56.6,103.3) scale(0.970,1)" text-anchor="end" font-size="15.0">10</text><text transform="translate(56.6,140.5) scale(0.970,1)" text-anchor="end" font-size="15.0">8</text><text transform="translate(56.6,177.6) scale(0.970,1)" text-anchor="end" font-size="15.0">6</text><text transform="translate(56.6,214.8) scale(0.970,1)" text-anchor="end" font-size="15.0">4</text><text transform="translate(56.6,252.0) scale(0.970,1)" text-anchor="end" font-size="15.0">2</text><text transform="translate(56.6,272.7) scale(0.970,1)" text-anchor="end" font-size="15.0">0</text><text transform="translate(56.6,314.1) scale(1.100,1)" text-anchor="end" font-size="15.0">−<tspan dx="1.6">2</tspan></text><text transform="translate(56.6,355.5) scale(1.100,1)" text-anchor="end" font-size="15.0">−<tspan dx="1.6">4</tspan></text><text transform="translate(56.6,397.0) scale(1.100,1)" text-anchor="end" font-size="15.0">−<tspan dx="1.6">6</tspan></text><text transform="translate(56.6,438.4) scale(1.100,1)" text-anchor="end" font-size="15.0">−<tspan dx="1.6">8</tspan></text><text transform="translate(187.6,27.2) scale(0.98,1)" text-anchor="middle" font-size="17.5">T (C)</text><text transform="translate(437.0,25.8) scale(1.09,1)" text-anchor="middle" font-size="16.5">log(a<tspan font-size="10.5" font-style="italic" dx="0.3" dy="3">H</tspan><tspan font-size="7.5" dy="3.6">2</tspan><tspan dx="0.6" dy="-6.6">)</tspan></text><text transform="translate(22,154.7) rotate(-90)" text-anchor="middle" font-size="17">pH</text><text transform="translate(14.3,339.5) rotate(-90) scale(1.02,1)" text-anchor="middle" font-size="16.5">log(a<tspan font-size="10.5" font-style="italic" dx="0.3" dy="3">H</tspan><tspan font-size="7.5" dy="3.6">2</tspan><tspan dx="0.6" dy="-6.6">)</tspan></text><rect x="576.2" y="3" width="8.9" height="122" fill="#0b800b"/><linearGradient id="g1" x1="0" y1="0" x2="0" y2="1"><stop offset="0.000" stop-color="#f0f921"/><stop offset="0.042" stop-color="#f6e826"/><stop offset="0.083" stop-color="#fbd524"/><stop offset="0.125" stop-color="#fdc527"/><stop offset="0.167" stop-color="#fdb42f"/><stop offset="0.208" stop-color="#fca338"/><stop offset="0.250" stop-color="#f89540"/><stop offset="0.292" stop-color="#f3874a"/><stop offset="0.333" stop-color="#ed7953"/><stop offset="0.375" stop-color="#e66c5c"/><stop offset="0.417" stop-color="#de5f65"/><stop offset="0.458" stop-color="#d5536f"/><stop offset="0.500" stop-color="#cc4778"/><stop offset="0.542" stop-color="#c13b82"/><stop offset="0.583" stop-color="#b52f8c"/><stop offset="0.625" stop-color="#aa2395"/><stop offset="0.667" stop-color="#9c179e"/><stop offset="0.708" stop-color="#8d0ba5"/><stop offset="0.750" stop-color="#7e03a8"/><stop offset="0.792" stop-color="#6e00a8"/><stop offset="0.833" stop-color="#5c01a6"/><stop offset="0.875" stop-color="#4c02a1"/><stop offset="0.917" stop-color="#3a049a"/><stop offset="0.958" stop-color="#260591"/><stop offset="1.000" stop-color="#0d0887"/></linearGradient><rect x="586.0" y="60.2" width="28.7" height="362.8" fill="url(#g1)" stroke="#8a7a6a" stroke-width="0.8"/><path fill="none" stroke="#8c8c8c" stroke-width="1" d="M614.7 60.2h3.5M614.7 132.8h3.5M614.7 205.3h3.5M614.7 277.9h3.5M614.7 350.4h3.5M614.7 423.0h3.5"/><text transform="translate(620.4,65.4) scale(1.085,1)" text-anchor="start" font-size="15.0">−<tspan dx="1.6">1</tspan></text><text transform="translate(620.4,138.0) scale(1.085,1)" text-anchor="start" font-size="15.0">−<tspan dx="1.6">2</tspan></text><text transform="translate(620.4,210.5) scale(1.085,1)" text-anchor="start" font-size="15.0">−<tspan dx="1.6">3</tspan></text><text transform="translate(620.4,283.1) scale(1.085,1)" text-anchor="start" font-size="15.0">−<tspan dx="1.6">4</tspan></text><text transform="translate(620.4,355.6) scale(1.085,1)" text-anchor="start" font-size="15.0">−<tspan dx="1.6">5</tspan></text><text transform="translate(620.4,428.2) scale(1.085,1)" text-anchor="start" font-size="15.0">−<tspan dx="1.6">6</tspan></text><g transform="translate(671.0,279.0) rotate(-90)"><text x="0" y="1.0" font-size="16.5">log(</text><text x="51.8" y="-6.6" font-size="12.3" font-weight="normal" font-style="italic" text-anchor="middle" stroke="#000" stroke-width="0.35"><tspan font-style="normal">[</tspan>CO<tspan font-style="normal">]</tspan></text><rect x="36.5" y="-3.6" width="30.7" height="1" fill="#333"/><text x="51.8" y="8.6" font-size="12.3" font-weight="normal" font-style="italic" text-anchor="middle" stroke="#000" stroke-width="0.35"><tspan font-style="normal">[</tspan>CO<tspan font-size="7.5" dy="2" font-style="normal">2</tspan><tspan dy="-2" font-style="normal">]</tspan></text><text x="67.8" y="0.5" font-size="16.5">)</text></g><g clip-path="url(#cA2)"><g filter="url(#bl)"><g fill="none" stroke-linecap="round"><path stroke="#da5a6a" stroke-width="2.20" d="M271.5 623.2h0M253.5 608.6h0M186.1 577.0h0M216.9 565.2h0M246.2 583.5h0M225.4 562.8h0M152.3 651.8h0M216.4 598.3h0M211.3 561.7h0M276.6 592.7h0M224.8 621.4h0M170.0 571.6h0M268.9 586.0h0M170.6 608.5h0M271.4 561.2h0M283.8 582.6h0M179.9 645.9h0M176.3 572.6h0M241.7 649.8h0M258.5 668.6h0M203.4 574.3h0M222.6 626.6h0M195.1 597.0h0M162.5 620.3h0M192.8 598.8h0M263.3 653.3h0M256.6 619.6h0M150.7 617.1h0M236.5 620.9h0M207.6 605.3h0M174.1 594.1h0M171.8 593.3h0M260.9 639.8h0M160.1 653.0h0M207.3 651.9h0M288.4 567.7h0"/><path stroke="#d04d73" stroke-width="2.20" d="M215.8 559.4h0M244.3 613.2h0M180.3 644.4h0M175.1 609.7h0M188.5 604.4h0M209.6 589.8h0M157.3 624.5h0M270.5 567.4h0M274.3 573.1h0M233.3 597.3h0M166.1 642.5h0M289.0 655.1h0M190.4 574.0h0M233.1 619.5h0M159.7 568.9h0M233.4 608.6h0M247.2 600.3h0M201.7 658.0h0M220.7 657.9h0M145.7 631.5h0M270.7 660.9h0M227.4 569.6h0M243.6 575.3h0M252.9 594.8h0M238.3 643.2h0M286.6 613.1h0M172.3 578.3h0M209.4 645.2h0M232.1 585.2h0M223.9 631.7h0M246.1 641.6h0M225.8 563.8h0M282.1 613.8h0M238.8 646.6h0M148.1 590.4h0M163.5 564.3h0M151.1 615.1h0M190.8 561.8h0M164.4 637.4h0M234.2 639.9h0M204.4 613.5h0"/><path stroke="#e97257" stroke-width="2.20" d="M216.2 658.2h0M170.1 608.1h0M187.6 663.0h0M164.6 659.7h0M212.5 627.6h0M172.4 578.9h0M280.9 612.3h0M262.7 637.7h0M230.8 582.8h0M198.0 626.3h0M272.7 590.3h0M279.1 584.3h0M266.7 568.0h0M225.1 653.0h0M268.0 626.6h0M179.1 586.1h0M290.0 566.1h0M230.6 610.5h0M207.1 665.3h0M277.3 601.7h0M252.5 570.1h0M243.9 600.8h0M243.9 622.1h0M204.0 575.1h0M243.9 622.1h0M217.1 614.1h0M191.0 584.2h0M161.6 664.2h0M256.9 633.7h0M235.3 608.2h0M181.2 575.4h0M204.1 611.2h0M220.6 565.1h0M251.5 660.8h0M168.4 582.9h0M204.1 598.5h0M198.4 643.9h0M202.7 622.4h0M199.0 643.6h0M189.3 618.4h0M253.1 639.5h0M168.7 644.2h0M270.1 607.0h0M168.2 586.5h0M239.7 637.7h0M222.4 610.3h0M241.4 660.3h0M229.3 648.6h0M275.5 636.4h0M264.4 563.7h0M247.9 559.8h0M201.5 602.7h0M239.2 610.8h0M234.2 566.8h0M236.5 640.1h0M232.3 626.3h0M181.7 606.9h0M258.2 599.9h0"/><path stroke="#f3f027" stroke-width="2.20" d="M216.1 661.0h0M215.0 638.3h0M217.8 627.7h0"/><path stroke="#1b068d" stroke-width="2.20" d="M149.2 618.5h0M119.0 587.8h0M135.8 658.2h0M159.3 561.1h0M159.8 576.6h0M127.7 645.0h0M143.4 574.7h0M168.0 616.3h0M153.4 613.1h0M120.8 593.7h0M145.2 633.5h0M161.2 662.6h0M145.0 619.0h0M124.5 555.8h0M136.2 592.2h0M136.4 657.1h0M154.1 607.2h0M116.6 586.2h0M112.5 547.2h0M131.3 626.4h0M130.3 642.8h0M148.9 595.3h0M132.6 619.9h0M156.3 599.7h0M120.5 555.1h0M135.0 567.4h0M117.0 617.4h0M164.7 630.4h0M168.0 666.7h0M111.0 606.7h0M155.4 613.0h0M113.5 619.3h0M150.2 592.4h0M127.9 597.5h0M116.7 574.4h0M159.1 588.0h0M127.2 593.7h0M163.7 665.8h0M124.8 605.1h0M130.5 548.6h0M155.4 653.1h0M136.0 618.4h0M157.4 655.9h0M102.9 609.8h0M116.2 551.4h0M132.0 628.4h0M135.7 570.1h0M113.2 543.8h0M147.3 620.4h0M157.9 626.8h0M158.9 599.2h0M152.9 637.9h0M148.1 661.5h0M108.0 633.8h0M159.9 629.3h0M159.6 612.2h0M123.5 545.9h0M145.6 651.3h0M117.2 552.7h0M116.0 647.9h0M179.6 644.9h0M161.8 606.1h0M113.5 565.3h0"/><path stroke="#f68d45" stroke-width="2.20" d="M266.1 650.7h0M216.8 654.6h0M217.6 611.4h0M211.8 559.1h0M200.8 626.4h0M282.6 617.0h0M182.3 571.9h0M192.5 652.0h0M284.8 639.3h0M266.4 633.3h0M272.0 573.8h0M191.1 638.0h0M268.6 622.9h0M211.9 594.7h0M246.4 659.8h0M255.5 562.7h0M223.2 610.5h0M200.3 583.3h0M267.5 590.5h0M183.8 604.2h0M204.8 588.3h0M186.6 646.4h0M198.9 610.2h0M275.1 561.5h0M281.4 647.3h0M196.0 654.1h0M207.0 631.9h0M204.3 652.3h0M280.8 592.3h0M191.7 618.2h0M184.8 571.5h0M250.8 617.9h0M278.1 581.3h0M277.8 626.4h0M182.5 642.5h0M230.8 577.5h0M188.4 590.8h0M249.7 651.1h0M217.8 561.2h0M286.0 593.2h0M216.3 594.4h0M202.8 643.1h0M279.9 668.9h0M189.8 663.1h0M271.6 576.8h0M247.2 575.6h0M175.2 605.0h0M267.1 583.6h0M267.5 618.9h0M191.9 633.6h0M232.8 645.2h0M210.5 634.6h0M207.6 604.0h0M219.6 610.3h0"/><path stroke="#5502a4" stroke-width="2.20" d="M123.0 585.0h0M155.9 615.6h0M238.6 595.5h0M211.4 667.4h0M258.1 659.0h0M167.4 619.1h0M231.2 597.2h0M145.5 653.7h0M116.8 643.2h0M274.2 570.9h0M234.8 632.3h0M199.7 621.5h0M236.3 618.6h0M264.9 567.1h0M255.1 567.5h0M238.5 618.9h0M198.3 591.5h0M238.3 579.4h0M276.6 637.2h0M167.3 613.7h0M197.2 643.5h0M155.5 644.6h0M151.0 566.9h0M241.7 573.3h0M234.1 650.2h0M289.7 597.4h0M267.0 574.9h0M208.5 570.4h0M120.1 588.1h0M287.8 649.8h0M214.3 643.5h0M235.3 593.0h0M285.9 575.1h0M155.5 644.9h0M117.6 583.8h0M271.7 590.3h0M227.0 609.9h0M288.6 582.8h0M242.8 602.4h0M179.2 595.9h0M277.4 609.6h0M231.0 620.5h0M120.3 586.1h0M248.0 650.3h0M132.8 612.1h0M195.2 620.0h0M289.7 642.2h0M275.0 641.3h0M209.1 605.0h0M172.8 611.1h0M242.4 663.5h0M189.3 583.4h0M177.8 660.4h0M233.2 656.1h0M217.7 609.3h0M258.5 614.1h0M214.8 661.7h0M257.2 630.6h0M168.5 633.0h0M278.3 587.0h0M200.1 569.4h0M214.0 628.2h0M114.8 564.5h0M218.7 601.2h0M170.4 558.0h0M127.2 654.3h0M159.9 581.4h0M204.4 612.8h0M113.2 565.1h0M161.9 571.6h0M120.9 616.0h0M142.1 636.7h0M214.0 564.0h0M156.4 585.9h0M273.4 568.3h0M279.4 654.8h0M123.7 621.8h0M125.0 639.7h0M187.6 591.2h0M228.0 634.4h0M147.5 639.2h0M159.1 622.9h0M189.2 662.5h0M165.4 652.4h0M180.2 589.1h0M170.9 605.7h0M214.5 647.1h0M136.7 625.6h0M121.2 608.4h0M250.4 633.3h0M179.1 576.6h0M130.7 598.0h0M245.4 647.9h0M185.7 615.4h0M277.8 569.7h0"/><path stroke="#f8df25" stroke-width="2.20" d="M284.6 581.8h0M224.4 618.3h0M289.4 615.2h0M242.2 643.8h0M237.2 614.9h0M241.8 590.0h0M287.7 591.6h0M240.7 602.4h0M212.9 634.2h0M249.0 664.4h0M288.0 612.2h0M253.3 619.4h0M271.5 567.6h0M243.5 590.4h0M252.4 653.2h0M251.3 570.2h0M227.3 611.1h0M226.0 638.0h0M223.0 660.1h0M253.9 590.3h0M222.1 644.8h0M250.8 634.6h0M232.4 561.6h0M254.4 579.2h0M217.3 559.7h0M290.2 625.8h0M214.1 603.0h0"/><path stroke="#a21d9a" stroke-width="2.20" d="M167.5 583.0h0M219.3 610.5h0M266.2 657.7h0M244.3 655.8h0M166.1 617.7h0M235.4 629.6h0M261.9 600.8h0M162.4 642.4h0M222.8 606.9h0M159.4 641.2h0M246.2 572.1h0M137.4 574.0h0M287.5 604.3h0M264.2 569.2h0M157.9 594.9h0M233.1 649.4h0M245.2 632.6h0M235.0 559.6h0M268.3 653.3h0M231.8 585.8h0M263.3 637.1h0M214.9 609.6h0M246.4 666.3h0M227.2 624.9h0M196.6 565.5h0M281.2 563.5h0M140.5 565.3h0M198.4 600.4h0M181.3 585.7h0M222.0 643.9h0M286.4 630.6h0M229.6 608.2h0M141.6 648.4h0M175.5 575.1h0M277.4 665.7h0M150.5 581.8h0M148.2 657.4h0M143.6 624.2h0M271.1 574.9h0M218.8 563.0h0M145.7 567.1h0M153.3 595.1h0M184.6 588.2h0M197.8 643.7h0M156.3 655.2h0M156.4 558.1h0M273.4 651.3h0M285.4 577.5h0M233.7 605.6h0M137.5 604.9h0M142.7 559.0h0M212.4 570.6h0M258.1 581.0h0M147.5 584.0h0M221.8 643.8h0M137.1 557.1h0M168.2 578.5h0M164.7 634.9h0M175.7 638.5h0M147.5 563.3h0M163.9 579.3h0"/><path stroke="#b02991" stroke-width="2.20" d="M244.5 561.2h0M277.5 637.8h0M287.5 667.3h0M141.6 565.1h0M285.4 662.0h0M266.4 605.4h0M165.7 652.1h0M212.2 566.2h0M198.8 656.5h0M205.6 653.1h0M137.1 628.3h0M230.3 645.2h0M260.1 648.7h0M150.1 599.8h0M199.4 581.1h0M150.2 659.5h0M287.1 596.1h0M266.4 582.6h0M148.0 556.9h0M171.7 560.8h0M283.8 562.6h0M266.4 632.5h0M276.4 598.3h0M236.6 594.2h0M218.2 613.7h0M170.7 609.3h0M246.9 659.9h0M216.9 574.5h0M246.3 600.3h0M242.6 566.6h0M210.2 612.8h0M201.5 565.7h0M279.1 651.7h0M192.7 594.7h0M271.1 562.7h0M146.9 566.6h0M231.4 602.9h0M258.4 659.3h0M197.7 657.1h0M147.1 577.1h0M213.1 667.2h0M229.8 607.2h0M150.3 589.1h0M288.7 622.1h0M166.4 637.6h0M283.9 577.3h0M150.5 598.8h0M286.5 605.5h0M171.3 594.3h0M167.4 594.0h0M277.1 565.0h0M154.4 657.5h0M279.2 603.5h0M151.7 615.3h0M257.0 574.6h0M235.1 627.7h0M264.3 668.3h0M170.2 660.9h0M243.7 663.1h0M271.7 563.7h0M235.1 565.2h0"/><path stroke="#fa9c3c" stroke-width="2.20" d="M256.9 631.5h0M280.0 588.3h0M208.4 628.3h0M201.3 630.1h0M201.0 616.0h0M199.1 656.8h0M284.6 643.1h0M197.1 627.1h0M224.9 575.8h0M198.2 658.1h0M203.3 582.0h0M260.1 626.5h0M192.5 561.3h0M256.6 576.1h0M286.4 657.5h0M210.0 580.1h0M243.0 599.7h0M256.4 617.4h0M228.3 616.7h0M220.8 601.3h0M218.8 644.8h0M217.3 665.8h0M211.7 636.5h0M254.1 579.8h0M226.2 589.7h0M233.1 583.0h0M216.2 608.0h0M279.2 644.8h0M263.9 568.1h0M223.6 652.2h0M199.2 598.5h0M224.2 575.1h0M272.1 573.5h0M257.4 631.5h0M258.8 617.6h0M273.9 668.0h0M206.8 581.7h0M250.9 623.0h0M226.6 667.5h0M239.5 586.2h0M266.0 662.5h0M204.9 641.1h0M277.3 609.5h0M210.6 637.2h0M243.2 569.8h0M284.3 568.6h0M237.1 573.8h0M269.6 642.6h0M280.7 562.6h0M183.3 576.0h0M207.4 668.6h0M236.6 601.7h0"/><path stroke="#8606a6" stroke-width="2.20" d="M262.7 606.9h0M274.9 615.9h0M162.2 597.9h0M288.1 645.7h0M184.6 665.3h0M221.1 592.8h0M233.6 635.1h0M182.1 609.3h0M237.2 613.4h0M250.0 640.4h0M216.1 657.4h0M273.1 611.7h0M121.9 654.0h0M235.9 590.6h0M257.0 568.1h0M164.7 665.9h0M128.9 584.1h0M239.4 614.7h0M269.9 562.6h0M220.1 563.8h0M167.3 591.7h0M128.5 564.7h0M204.9 574.8h0M242.7 609.3h0M281.3 588.3h0M239.0 558.6h0M277.5 607.2h0M119.9 651.1h0M276.6 594.6h0M161.6 623.7h0M226.5 630.6h0M289.1 559.9h0M251.8 599.5h0M162.5 580.0h0M129.7 586.0h0M218.8 599.3h0M158.8 610.7h0M189.2 567.3h0M265.7 600.8h0M181.0 583.5h0M123.6 653.1h0M172.5 642.1h0M288.9 666.7h0M158.3 631.8h0M146.4 576.6h0M184.0 574.1h0M128.2 615.6h0M150.6 628.2h0M282.1 630.2h0M171.5 593.8h0M242.1 606.4h0M171.4 617.2h0M169.8 571.7h0M210.8 588.4h0M257.8 633.1h0M282.5 560.0h0M289.3 610.0h0M124.5 591.1h0M143.4 634.9h0M185.5 579.1h0M185.9 661.2h0M146.9 613.9h0M268.7 572.4h0M203.1 648.3h0M214.8 651.5h0M203.0 636.1h0M227.9 660.6h0M139.1 660.4h0M253.1 631.7h0M131.8 614.6h0M130.2 591.5h0M211.4 581.8h0M177.6 626.9h0M229.3 614.4h0M193.0 589.5h0M123.2 603.8h0M291.4 609.7h0M121.8 631.1h0M212.2 605.0h0"/><path stroke="#310597" stroke-width="2.20" d="M273.8 621.2h0M258.6 661.1h0M116.8 600.7h0M278.3 626.7h0M270.3 621.0h0M259.3 586.2h0M105.7 595.4h0M130.2 562.4h0M177.9 640.1h0M168.3 607.3h0M170.0 563.7h0M112.3 577.4h0M109.7 629.4h0M167.4 574.9h0M144.6 600.7h0M141.0 634.6h0M268.9 594.8h0M274.7 575.5h0M152.2 634.6h0M181.9 571.2h0M158.4 649.2h0M160.5 582.9h0M110.4 611.7h0M156.5 604.6h0M140.2 606.0h0M168.5 632.0h0M128.1 628.2h0M119.1 596.0h0M148.8 656.2h0M245.7 582.2h0M126.8 557.0h0M178.2 618.8h0M250.7 583.8h0M149.2 588.2h0"/><path stroke="#bc3587" stroke-width="2.20" d="M139.9 619.5h0M164.4 563.7h0M181.2 569.3h0M242.2 651.7h0M236.4 565.3h0M160.2 557.1h0M195.1 608.1h0M184.9 627.9h0M250.6 606.2h0M285.3 591.7h0M259.9 601.8h0M208.0 590.1h0M283.3 648.9h0M177.3 566.3h0M222.8 607.7h0M201.5 600.9h0M163.0 584.9h0M196.2 631.6h0M168.0 650.6h0M181.9 580.4h0M266.9 643.3h0M180.8 620.1h0M151.3 565.5h0M261.6 564.3h0M158.8 659.7h0M185.7 632.1h0M170.2 568.0h0M279.5 600.3h0M150.4 621.4h0M243.8 569.7h0M289.8 566.1h0M224.8 597.7h0M151.1 643.8h0M201.6 587.5h0M233.7 623.9h0M202.0 587.9h0M221.5 618.7h0M222.2 655.5h0M245.2 667.7h0M186.6 649.1h0M141.9 552.1h0M168.4 666.1h0M237.7 663.5h0M290.7 654.2h0M217.4 591.6h0M208.0 649.7h0M157.5 607.5h0M243.3 620.2h0M172.5 568.3h0M270.8 648.6h0M241.7 606.8h0M171.3 664.1h0"/><path stroke="#43039e" stroke-width="2.20" d="M222.9 659.6h0M185.4 633.9h0M290.7 637.1h0M272.3 630.0h0M181.3 654.7h0M181.1 617.8h0M154.2 616.1h0M245.1 661.3h0M186.4 604.7h0M218.5 633.2h0M180.1 638.3h0M183.8 626.3h0M145.0 638.6h0M167.8 634.3h0M246.5 625.4h0M242.3 636.5h0M126.5 643.6h0M236.3 635.8h0M110.9 566.2h0M167.2 562.1h0M265.9 642.6h0M177.5 664.1h0M288.0 642.5h0M133.8 632.3h0M111.8 612.8h0M154.2 576.1h0M210.9 625.4h0M197.0 656.9h0M283.0 625.7h0M197.3 558.3h0M238.8 568.7h0M193.4 643.9h0M151.7 570.4h0M252.8 658.9h0M218.9 636.8h0M239.4 636.8h0M189.8 656.7h0M288.1 650.1h0M120.0 602.6h0M277.6 630.4h0M116.8 595.9h0M211.0 618.9h0M216.0 608.6h0M130.5 632.1h0M146.9 554.6h0M132.5 571.6h0M246.6 597.7h0M259.7 589.0h0M229.6 621.8h0M211.6 586.2h0M250.3 635.5h0M198.3 598.6h0M267.7 600.4h0M210.8 595.5h0M171.4 656.6h0M228.1 565.8h0M285.7 666.3h0M248.0 591.1h0M278.7 597.6h0M190.5 666.6h0M153.0 644.1h0M239.8 603.6h0M148.1 613.1h0M208.2 644.7h0M223.1 570.0h0M160.1 648.1h0M116.7 598.4h0M124.7 559.7h0M138.5 625.3h0M128.4 566.2h0M278.7 606.3h0M175.6 622.5h0M231.2 665.4h0M270.0 628.2h0"/><path stroke="#c6417d" stroke-width="2.20" d="M259.6 594.2h0M241.8 626.1h0M271.2 572.2h0M275.5 589.6h0M144.5 570.6h0M181.9 567.4h0M210.2 571.4h0M266.9 643.9h0M203.4 644.4h0M140.5 639.1h0M277.7 588.6h0M151.3 586.9h0M250.5 566.2h0M210.0 612.8h0M164.1 652.2h0M233.0 616.8h0M208.9 647.8h0M140.6 607.4h0M181.2 604.8h0M178.4 579.7h0M174.9 630.8h0M145.1 577.9h0M155.4 611.7h0M237.6 621.5h0M263.4 635.1h0M223.2 623.1h0M248.4 590.1h0M200.4 626.4h0M248.5 631.6h0M210.2 661.7h0M188.0 614.5h0M258.7 603.3h0M154.4 583.4h0M291.9 664.4h0M163.6 609.7h0M225.4 618.3h0M251.8 615.7h0M273.7 580.5h0M256.6 630.2h0M204.4 603.7h0M221.6 612.4h0M165.0 622.9h0M142.0 597.9h0M266.4 662.4h0M201.0 572.1h0"/><path stroke="#febb2b" stroke-width="2.20" d="M219.9 649.7h0M200.2 558.8h0M261.0 667.9h0M233.5 639.0h0M248.5 650.3h0M289.4 668.9h0M272.5 590.5h0M259.6 651.9h0M209.5 667.9h0M266.0 600.2h0M276.8 633.7h0M275.2 638.6h0M252.2 617.4h0M212.3 579.2h0M284.6 629.8h0M222.8 662.4h0M235.6 655.9h0M270.7 599.1h0M257.8 666.5h0M216.3 581.4h0M261.9 615.0h0M264.4 641.1h0M234.0 607.7h0M233.5 595.1h0M207.0 611.0h0M247.8 650.8h0M215.2 647.0h0M262.8 646.6h0M263.1 649.1h0M227.3 562.7h0M199.9 563.2h0M219.5 626.1h0M227.8 577.4h0M237.6 588.2h0M220.9 621.0h0M236.3 595.2h0M275.6 560.6h0"/><path stroke="#f0804e" stroke-width="2.20" d="M189.5 635.5h0M249.9 630.4h0M289.9 630.3h0M278.4 653.2h0M273.5 622.2h0M191.7 666.5h0M188.0 624.5h0M267.0 621.8h0M177.2 575.3h0M276.0 668.9h0M233.7 565.9h0M247.3 614.8h0M286.3 580.8h0M218.3 652.8h0M261.7 602.8h0M179.3 654.6h0M172.1 597.9h0M268.6 597.0h0M170.8 571.2h0M205.9 656.5h0M191.4 632.8h0M216.5 633.0h0M169.8 661.9h0M178.8 563.1h0M197.2 635.8h0M274.1 565.3h0M263.9 651.4h0M261.6 655.9h0M269.3 559.8h0M240.1 629.1h0M197.2 571.5h0M204.4 650.1h0M197.2 661.3h0M194.6 596.3h0M275.0 639.0h0M174.6 601.2h0M219.7 659.5h0M247.9 643.0h0M272.6 630.4h0"/><path stroke="#e26561" stroke-width="2.20" d="M215.3 660.0h0M232.4 575.8h0M263.6 662.2h0M252.6 625.0h0M267.0 593.5h0M184.1 601.6h0M237.4 638.9h0M161.9 611.0h0M291.3 647.7h0M263.9 643.5h0M215.5 629.5h0M260.8 559.6h0M182.4 606.1h0M262.2 602.0h0M249.3 614.0h0M180.0 608.0h0M247.8 620.0h0M197.5 558.3h0M226.3 597.8h0M279.2 641.7h0M232.0 629.3h0M211.0 637.6h0M203.0 605.7h0M171.4 659.5h0M156.4 665.2h0M171.3 627.6h0M242.4 619.7h0M193.0 646.2h0M284.9 667.2h0M185.8 658.9h0M283.4 652.6h0M157.9 555.6h0M232.3 608.3h0M272.9 592.3h0M255.3 668.3h0M162.1 657.2h0M176.6 665.7h0M233.3 621.6h0M157.8 618.5h0M210.2 563.4h0M185.0 615.3h0M169.7 613.4h0M213.6 564.7h0M155.6 607.4h0M225.3 579.7h0M215.5 588.2h0M238.0 575.1h0M200.0 617.7h0M234.8 589.2h0M198.9 593.3h0M158.6 618.0h0M174.4 595.3h0M215.4 636.1h0M238.1 581.4h0M234.2 603.0h0M287.4 655.5h0"/><path stroke="#6600a7" stroke-width="2.20" d="M148.2 646.8h0M117.5 603.6h0M283.8 586.6h0M209.4 575.9h0M243.9 590.7h0M192.7 583.8h0M223.0 642.3h0M174.8 601.4h0M115.5 615.6h0M128.6 549.8h0M261.2 586.2h0M163.5 595.3h0M256.2 610.1h0M210.1 662.4h0M145.3 657.8h0M284.3 560.2h0M246.8 595.6h0M222.5 638.6h0M244.2 607.1h0M120.2 634.1h0M163.3 564.5h0M178.2 581.8h0M117.4 612.9h0M220.2 644.1h0M121.0 556.2h0M143.3 563.3h0M152.7 566.7h0M117.8 550.2h0M266.4 611.1h0M171.5 560.9h0M147.0 594.4h0M151.2 561.4h0M278.7 619.2h0M209.2 592.9h0M281.2 587.3h0M130.0 604.9h0M114.4 625.6h0M191.6 563.3h0M118.7 597.8h0M172.1 640.8h0M178.1 651.9h0M255.4 606.6h0M167.8 635.9h0M115.2 604.3h0M274.6 621.8h0M247.1 605.8h0M214.8 644.2h0M234.1 659.4h0M175.5 661.4h0M274.2 590.2h0M284.3 564.8h0M159.8 563.5h0M272.7 627.8h0M145.2 632.8h0M260.7 620.1h0M128.0 573.2h0M118.5 652.0h0M249.8 643.1h0M167.6 652.6h0M115.9 647.0h0M222.7 661.6h0M164.5 594.2h0M261.3 587.7h0M197.3 636.5h0M200.9 650.3h0M189.3 595.8h0M146.5 630.7h0M155.3 560.8h0M174.3 570.7h0M225.9 565.3h0M143.2 617.3h0M119.4 619.6h0M236.7 651.1h0M249.1 591.8h0M255.4 653.1h0M222.3 668.6h0M115.7 582.5h0M146.5 656.6h0M272.3 600.2h0M243.4 607.9h0M268.6 570.2h0M248.9 625.0h0M282.9 649.1h0M253.0 609.3h0"/><path stroke="#9511a1" stroke-width="2.20" d="M154.2 592.3h0M146.2 605.8h0M248.2 645.3h0M157.9 651.6h0M274.3 631.0h0M276.9 568.3h0M166.1 664.2h0M242.8 650.9h0M232.5 620.4h0M269.2 656.1h0M160.1 621.9h0M177.2 638.8h0M175.7 652.0h0M198.6 574.0h0M150.7 576.6h0M286.9 656.8h0M125.9 585.6h0M194.9 608.8h0M246.0 566.4h0M128.2 547.9h0M208.7 619.5h0M136.8 602.5h0M152.7 649.1h0M291.2 608.9h0M125.0 647.4h0M154.2 627.4h0M283.7 660.0h0M155.3 556.7h0M146.1 581.3h0M132.4 586.6h0M274.8 595.4h0M251.8 576.7h0M147.0 612.4h0M190.4 648.4h0M207.2 655.6h0M208.6 608.3h0M139.7 620.5h0M163.5 666.1h0M283.6 616.3h0M282.7 599.4h0M156.1 581.0h0M208.2 590.7h0M229.6 561.5h0M194.4 628.0h0M280.3 629.6h0M271.6 600.0h0M200.5 611.5h0M228.3 595.5h0M274.3 605.9h0M252.3 573.6h0M239.5 592.5h0M229.6 570.8h0M186.3 664.2h0M131.6 650.6h0M183.1 603.5h0M280.1 636.6h0M178.4 658.1h0M178.9 628.7h0M158.1 570.6h0M285.8 585.4h0M163.2 623.2h0M160.5 612.0h0M281.1 665.6h0M127.8 590.4h0M152.1 603.8h0M159.3 612.0h0M264.9 641.5h0M186.7 604.1h0M222.4 637.2h0M211.5 575.6h0M258.4 651.1h0M254.7 571.5h0M200.9 601.4h0"/><path stroke="#7501a8" stroke-width="2.20" d="M136.5 570.1h0M152.8 568.0h0M247.4 602.5h0M276.5 592.1h0M270.3 665.3h0M238.6 646.3h0M210.5 587.7h0M163.0 647.5h0M173.9 644.4h0M157.9 582.0h0M165.7 628.9h0M280.0 646.7h0M226.4 641.9h0M129.3 571.2h0M129.0 571.8h0M119.9 584.2h0M189.8 655.5h0M146.4 599.3h0M134.2 632.7h0M166.0 628.4h0M171.1 564.0h0M183.8 562.6h0M202.3 637.2h0M122.4 580.9h0M220.2 621.2h0M195.8 616.8h0M172.6 581.0h0M169.4 638.3h0M127.8 627.9h0M168.3 560.9h0M260.6 579.2h0M186.0 650.5h0M260.3 644.6h0M199.8 568.4h0M204.6 642.7h0M284.1 576.4h0M260.0 666.1h0M200.6 632.9h0M226.8 599.9h0M247.8 644.7h0M153.4 574.5h0M134.3 615.8h0M200.0 645.4h0M243.1 643.5h0M161.2 621.1h0M224.7 573.7h0M156.9 606.4h0M178.3 620.7h0M287.5 652.0h0M287.8 628.7h0M267.3 558.9h0M158.2 601.5h0M286.7 625.1h0M285.9 578.2h0M193.7 578.2h0M141.1 616.4h0M122.7 638.7h0M129.4 655.9h0M127.3 555.5h0M263.9 636.5h0M249.0 640.7h0M164.8 660.2h0M146.7 564.6h0M136.1 586.2h0M122.3 647.4h0M282.5 567.7h0M202.5 579.2h0M157.9 560.0h0M127.3 567.6h0M150.7 615.2h0M202.1 572.6h0M224.3 622.7h0M149.2 596.9h0M279.7 563.8h0M162.1 589.6h0M284.2 597.0h0M177.0 632.7h0M135.9 586.8h0"/><path stroke="#fccd25" stroke-width="2.20" d="M280.3 648.3h0M252.4 635.8h0M272.9 584.3h0M245.6 652.1h0M233.7 572.2h0M237.7 581.5h0M241.5 588.4h0M204.7 618.1h0M280.2 611.3h0M276.3 587.9h0M270.6 595.9h0M268.2 640.3h0M209.6 635.8h0M265.9 572.9h0M253.5 634.3h0M237.9 582.4h0M230.6 664.9h0M255.5 579.2h0M227.4 591.2h0M268.1 577.5h0M285.4 572.0h0M245.5 602.8h0M290.6 629.3h0M229.6 579.7h0M271.1 631.4h0M203.2 607.4h0M266.7 631.2h0M207.7 623.4h0M290.3 603.2h0M253.8 652.1h0M291.0 612.3h0M272.6 562.1h0M285.7 661.7h0M267.4 603.1h0M222.3 639.1h0M215.5 654.4h0"/><path stroke="#fdac33" stroke-width="2.20" d="M197.7 620.2h0M219.2 657.2h0M193.9 664.1h0M270.8 614.3h0M261.7 572.8h0M277.1 585.5h0M265.3 661.8h0M266.0 642.9h0M216.2 603.6h0M275.7 606.8h0M276.0 567.6h0M289.3 615.4h0M200.7 641.4h0M232.6 572.5h0M273.3 588.2h0M243.6 633.1h0M230.7 608.4h0M261.1 648.0h0M289.7 566.3h0M246.8 585.4h0M252.0 619.4h0M200.2 664.3h0M226.0 597.7h0M196.7 649.0h0M204.1 589.7h0M208.4 598.1h0M280.2 654.8h0M235.6 591.8h0M222.8 619.3h0M255.8 605.3h0M277.8 616.7h0M231.4 662.4h0M259.0 629.3h0M189.4 633.0h0M216.7 661.4h0M253.7 617.3h0M262.0 639.7h0"/><path stroke="#0b800b" stroke-width="3.50" d="M181.6 575.4h0M163.9 606.0h0M162.9 569.8h0M234.2 627.6h0M153.0 574.3h0M264.6 647.6h0M169.8 632.6h0M224.5 640.9h0M227.0 658.4h0M156.4 645.2h0M185.1 590.1h0M198.1 622.6h0M237.6 635.9h0M250.5 622.4h0M236.3 639.3h0M144.9 562.0h0M275.5 665.7h0M265.1 585.2h0M245.7 661.9h0M266.9 621.5h0M202.5 561.1h0M244.9 631.8h0M176.4 662.8h0M150.1 620.3h0M280.1 594.7h0M195.6 588.7h0M190.4 645.5h0M264.2 595.0h0M171.7 645.5h0M147.3 652.2h0M271.7 635.4h0M218.1 565.0h0M272.9 633.7h0M176.0 609.5h0M247.4 613.9h0M222.8 647.5h0M208.1 587.4h0M190.5 654.5h0M162.0 634.5h0M155.4 602.1h0M186.9 627.8h0M255.9 622.8h0M260.2 659.7h0M203.5 663.7h0M187.4 570.6h0M142.5 587.9h0M287.5 582.3h0M276.8 650.5h0M270.3 573.0h0M215.7 568.0h0M210.6 588.7h0M225.0 572.6h0M267.6 630.4h0M224.2 577.1h0M260.9 622.5h0M207.4 566.9h0M147.3 557.0h0M191.0 613.2h0M166.4 563.3h0M207.0 629.3h0M177.8 596.7h0M277.5 592.0h0M193.4 607.6h0M284.0 617.9h0M178.4 626.8h0M230.9 614.3h0M189.5 566.8h0M247.9 575.4h0M189.8 621.4h0M146.6 641.0h0M246.6 617.0h0M147.5 589.8h0M289.3 558.9h0M254.9 649.0h0M174.0 662.2h0M279.7 580.3h0M190.6 602.5h0M255.2 600.4h0M159.3 596.2h0M256.1 573.0h0"/></g></g></g><g clip-path="url(#cB2)"><g filter="url(#bl)"><g fill="none" stroke-linecap="round"><path stroke="#da5a6a" stroke-width="2.20" d="M490.5 623.2h0M480.2 608.6h0M420.2 577.0h0M451.8 565.2h0M475.5 583.5h0M458.5 562.8h0M380.4 651.8h0M452.0 598.3h0M447.4 561.7h0M494.2 592.7h0M459.7 621.4h0M399.9 571.6h0M488.5 586.0h0M401.2 608.5h0M492.4 561.2h0M501.3 582.6h0M412.4 645.9h0M406.8 572.6h0M473.3 649.8h0M482.2 668.6h0M438.1 574.3h0M457.0 626.6h0M428.6 597.0h0M391.0 620.3h0M425.8 598.8h0M485.9 653.3h0M482.7 619.6h0M378.6 617.1h0M469.2 620.9h0M442.8 605.3h0M405.5 594.1h0M403.8 593.3h0M483.6 639.8h0M388.3 653.0h0M443.2 651.9h0M503.2 567.7h0"/><path stroke="#d04d73" stroke-width="2.20" d="M458.2 559.4h0M479.0 613.2h0M418.5 644.4h0M411.1 609.7h0M427.7 604.4h0M451.3 589.8h0M391.5 624.5h0M495.8 567.4h0M499.7 573.1h0M471.0 597.3h0M402.1 642.5h0M510.2 655.1h0M429.0 574.0h0M471.1 619.5h0M394.5 568.9h0M471.4 608.6h0M481.9 600.3h0M442.1 658.0h0M462.0 657.9h0M377.6 631.5h0M495.7 660.9h0M466.2 569.6h0M478.8 575.3h0M485.1 594.8h0M475.1 643.2h0M508.4 613.1h0M408.5 578.3h0M450.2 645.2h0M470.4 585.2h0M464.2 631.7h0M479.8 641.6h0M464.8 563.8h0M503.9 613.8h0M474.4 646.6h0M380.8 590.4h0M398.5 564.3h0M383.8 615.1h0M431.3 561.8h0M398.0 637.4h0M472.1 639.9h0M445.7 613.5h0"/><path stroke="#e97257" stroke-width="2.20" d="M442.8 658.2h0M395.1 608.1h0M414.1 663.0h0M386.9 659.7h0M442.9 627.6h0M395.0 578.9h0M491.7 612.3h0M480.2 637.7h0M456.3 582.8h0M427.2 626.3h0M483.6 590.3h0M489.0 584.3h0M479.6 568.0h0M452.5 653.0h0M480.4 626.6h0M403.5 586.1h0M496.1 566.1h0M456.5 610.5h0M437.0 665.3h0M487.1 601.7h0M472.3 570.1h0M467.8 600.8h0M465.5 622.1h0M430.8 575.1h0M467.0 622.1h0M445.3 614.1h0M416.2 584.2h0M385.0 664.2h0M474.3 633.7h0M458.7 608.2h0M406.8 575.4h0M430.3 611.2h0M447.3 565.1h0M470.2 660.8h0M392.4 582.9h0M432.0 598.5h0M425.4 643.9h0M432.3 622.4h0M424.9 643.6h0M413.8 618.4h0M472.8 639.5h0M390.0 644.2h0M484.0 607.0h0M391.1 586.5h0M463.6 637.7h0M449.0 610.3h0M465.6 660.3h0M455.5 648.6h0M487.2 636.4h0M478.2 563.7h0M468.4 559.8h0M427.5 602.7h0M460.9 610.8h0M460.6 566.8h0M460.0 640.1h0M458.9 626.3h0M406.6 606.9h0M476.1 599.9h0"/><path stroke="#f3f027" stroke-width="2.20" d="M414.0 661.0h0M412.9 638.3h0M414.5 627.7h0"/><path stroke="#1b068d" stroke-width="2.20" d="M423.8 618.5h0M370.9 587.8h0M400.6 658.2h0M439.1 561.1h0M439.8 576.6h0M383.3 645.0h0M416.7 574.7h0M447.4 616.3h0M432.6 613.1h0M374.9 593.7h0M420.1 633.5h0M443.8 662.6h0M416.9 619.0h0M380.0 555.8h0M401.4 592.2h0M402.2 657.1h0M429.2 607.2h0M368.5 586.2h0M362.6 547.2h0M386.9 626.4h0M388.4 642.8h0M422.5 595.3h0M397.9 619.9h0M436.6 599.7h0M371.8 555.1h0M395.8 567.4h0M369.1 617.4h0M446.2 630.4h0M450.2 666.7h0M359.9 606.7h0M435.5 613.0h0M364.3 619.3h0M423.1 592.4h0M384.5 597.5h0M366.8 574.4h0M440.8 588.0h0M383.7 593.7h0M442.5 665.8h0M379.0 605.1h0M387.7 548.6h0M433.6 653.1h0M401.8 618.4h0M432.9 655.9h0M348.4 609.8h0M367.1 551.4h0M392.8 628.4h0M398.2 570.1h0M363.2 543.8h0M419.4 620.4h0M439.5 626.8h0M437.1 599.2h0M426.6 637.9h0M421.2 661.5h0M354.2 633.8h0M439.7 629.3h0M436.8 612.2h0M378.9 545.9h0M421.1 651.3h0M369.3 552.7h0M365.9 647.9h0M461.8 644.9h0M439.9 606.1h0M364.0 565.3h0"/><path stroke="#f68d45" stroke-width="2.20" d="M470.8 650.7h0M435.2 654.6h0M437.4 611.4h0M433.1 559.1h0M419.7 626.4h0M485.5 617.0h0M399.4 571.9h0M410.5 652.0h0M487.0 639.3h0M473.2 633.3h0M475.5 573.8h0M411.1 638.0h0M475.3 622.9h0M433.0 594.7h0M460.1 659.8h0M466.0 562.7h0M440.4 610.5h0M421.4 583.3h0M471.7 590.5h0M401.2 604.2h0M422.7 588.3h0M405.8 646.4h0M419.2 610.2h0M477.2 561.5h0M480.8 647.3h0M417.2 654.1h0M425.1 631.9h0M424.9 652.3h0M480.3 592.3h0M411.8 618.2h0M402.4 571.5h0M463.3 617.9h0M479.5 581.3h0M480.4 626.4h0M398.9 642.5h0M447.4 577.5h0M405.7 590.8h0M462.0 651.1h0M438.1 561.2h0M487.7 593.2h0M438.0 594.4h0M420.6 643.1h0M483.4 668.9h0M409.0 663.1h0M475.9 576.8h0M462.0 575.6h0M392.2 605.0h0M471.3 583.6h0M473.7 618.9h0M410.0 633.6h0M451.3 645.2h0M431.9 634.6h0M425.8 604.0h0M438.1 610.3h0"/><path stroke="#5502a4" stroke-width="2.20" d="M366.6 585.0h0M420.5 615.6h0M509.2 595.5h0M489.7 667.4h0M526.2 659.0h0M436.6 619.1h0M506.5 597.2h0M407.2 653.7h0M357.2 643.2h0M535.0 570.9h0M507.2 632.3h0M476.6 621.5h0M509.3 618.6h0M526.9 567.1h0M523.8 567.5h0M512.7 618.9h0M475.7 591.5h0M512.3 579.4h0M534.3 637.2h0M437.5 613.7h0M473.3 643.5h0M419.8 644.6h0M416.6 566.9h0M512.8 573.3h0M508.3 650.2h0M545.8 597.4h0M529.7 574.9h0M483.6 570.4h0M364.1 588.1h0M545.2 649.8h0M492.9 643.5h0M509.2 593.0h0M543.7 575.1h0M420.4 644.9h0M360.6 583.8h0M531.2 590.3h0M502.9 609.9h0M545.3 582.8h0M512.6 602.4h0M452.2 595.9h0M537.7 609.6h0M507.2 620.5h0M363.9 586.1h0M519.0 650.3h0M379.2 612.1h0M471.7 620.0h0M545.6 642.2h0M535.6 641.3h0M487.4 605.0h0M443.3 611.1h0M512.8 663.5h0M463.7 583.4h0M450.4 660.4h0M509.1 656.1h0M494.2 609.3h0M524.2 614.1h0M493.8 661.7h0M522.6 630.6h0M436.7 633.0h0M538.5 587.0h0M475.1 569.4h0M489.5 628.2h0M356.2 564.5h0M496.7 601.2h0M438.4 558.0h0M371.9 654.3h0M426.1 581.4h0M481.0 612.8h0M354.3 565.1h0M430.3 571.6h0M364.0 616.0h0M404.2 636.7h0M492.0 564.0h0M420.2 585.9h0M535.3 568.3h0M539.9 654.8h0M366.3 621.8h0M368.8 639.7h0M464.2 591.2h0M504.5 634.4h0M410.2 639.2h0M424.5 622.9h0M463.3 662.5h0M432.2 652.4h0M451.0 589.1h0M440.7 605.7h0M493.4 647.1h0M388.9 625.6h0M363.7 608.4h0M520.2 633.3h0M452.1 576.6h0M377.2 598.0h0M516.1 647.9h0M458.8 615.4h0M537.5 569.7h0"/><path stroke="#f8df25" stroke-width="2.20" d="M465.9 581.8h0M422.3 618.3h0M468.5 615.2h0M437.9 643.8h0M433.3 614.9h0M434.7 590.0h0M467.0 591.6h0M437.2 602.4h0M413.5 634.2h0M442.6 664.4h0M468.9 612.2h0M445.5 619.4h0M457.0 567.6h0M439.2 590.4h0M442.3 653.2h0M443.2 570.2h0M424.8 611.1h0M425.0 638.0h0M421.3 660.1h0M443.6 590.3h0M421.2 644.8h0M442.6 634.6h0M428.6 561.6h0M443.9 579.2h0M416.1 559.7h0M468.8 625.8h0M413.5 603.0h0"/><path stroke="#a21d9a" stroke-width="2.20" d="M416.7 583.0h0M474.6 610.5h0M510.6 657.7h0M494.5 655.8h0M414.2 617.7h0M489.2 629.6h0M505.5 600.8h0M412.7 642.4h0M479.5 606.9h0M406.9 641.2h0M497.7 572.1h0M375.0 574.0h0M524.3 604.3h0M508.5 569.2h0M405.6 594.9h0M485.7 649.4h0M494.3 632.6h0M487.7 559.6h0M511.8 653.3h0M487.7 585.8h0M505.6 637.1h0M470.6 609.6h0M497.4 666.3h0M481.6 624.9h0M454.1 565.5h0M518.5 563.5h0M384.1 565.3h0M452.6 600.4h0M434.3 585.7h0M479.5 643.9h0M521.3 630.6h0M485.0 608.2h0M385.3 648.4h0M425.2 575.1h0M516.5 665.7h0M395.1 581.8h0M393.4 657.4h0M386.9 624.2h0M513.9 574.9h0M477.1 563.0h0M392.4 567.1h0M398.5 595.1h0M436.6 588.2h0M454.8 643.7h0M403.1 655.2h0M404.7 558.1h0M515.4 651.3h0M523.0 577.5h0M488.9 605.6h0M376.5 604.9h0M386.5 559.0h0M469.6 570.6h0M502.0 581.0h0M393.7 584.0h0M476.9 643.8h0M375.0 557.1h0M417.0 578.5h0M413.7 634.9h0M428.6 638.5h0M393.9 563.3h0M412.8 579.3h0"/><path stroke="#b02991" stroke-width="2.20" d="M492.3 561.2h0M510.7 637.8h0M519.9 667.3h0M383.5 565.1h0M518.3 662.0h0M503.0 605.4h0M411.4 652.1h0M464.4 566.2h0M452.4 656.5h0M457.6 653.1h0M369.1 628.3h0M481.5 645.2h0M502.0 648.7h0M391.4 599.8h0M452.3 581.1h0M391.2 659.5h0M517.4 596.1h0M505.8 582.6h0M389.8 556.9h0M419.1 560.8h0M516.4 562.6h0M504.9 632.5h0M510.1 598.3h0M486.6 594.2h0M471.5 613.7h0M416.9 609.3h0M494.7 659.9h0M470.4 574.5h0M494.0 600.3h0M488.3 566.6h0M461.2 612.8h0M451.8 565.7h0M512.3 651.7h0M442.6 594.7h0M509.6 562.7h0M387.8 566.6h0M481.8 602.9h0M498.2 659.3h0M448.9 657.1h0M387.1 577.1h0M464.3 667.2h0M480.4 607.2h0M393.0 589.1h0M520.0 622.1h0M411.2 637.6h0M515.5 577.3h0M393.7 598.8h0M517.6 605.5h0M418.6 594.3h0M412.1 594.0h0M511.3 565.0h0M396.4 657.5h0M514.1 603.5h0M393.6 615.3h0M498.3 574.6h0M485.3 627.7h0M502.7 668.3h0M416.0 660.9h0M491.1 663.1h0M506.4 563.7h0M486.1 565.2h0"/><path stroke="#fa9c3c" stroke-width="2.20" d="M462.2 631.5h0M479.1 588.3h0M425.6 628.3h0M416.0 630.1h0M416.2 616.0h0M415.3 656.8h0M481.3 643.1h0M413.4 627.1h0M437.6 575.8h0M412.1 658.1h0M421.0 582.0h0M465.9 626.5h0M407.5 561.3h0M462.1 576.1h0M482.7 657.5h0M426.7 580.1h0M452.6 599.7h0M464.1 617.4h0M443.5 616.7h0M436.2 601.3h0M436.2 644.8h0M434.9 665.8h0M426.9 636.5h0M459.3 579.8h0M438.9 589.7h0M446.2 583.0h0M432.3 608.0h0M475.3 644.8h0M466.5 568.1h0M437.8 652.2h0M415.8 598.5h0M438.1 575.1h0M473.3 573.5h0M464.4 631.5h0M463.0 617.6h0M474.6 668.0h0M421.2 581.7h0M458.1 623.0h0M441.4 667.5h0M449.1 586.2h0M466.6 662.5h0M420.4 641.1h0M477.5 609.5h0M427.3 637.2h0M452.2 569.8h0M482.6 568.6h0M448.9 573.8h0M469.9 642.6h0M479.2 562.6h0M397.0 576.0h0M425.3 668.6h0M447.1 601.7h0"/><path stroke="#8606a6" stroke-width="2.20" d="M514.1 606.9h0M522.5 615.9h0M418.1 597.9h0M531.8 645.7h0M445.0 665.3h0M483.8 592.8h0M493.8 635.1h0M442.1 609.3h0M496.9 613.4h0M506.6 640.4h0M479.6 657.4h0M522.7 611.7h0M354.9 654.0h0M497.3 590.6h0M512.8 568.1h0M420.0 665.9h0M365.4 584.1h0M498.5 614.7h0M517.9 562.6h0M483.4 563.8h0M425.5 591.7h0M362.7 564.7h0M469.9 574.8h0M501.6 609.3h0M529.0 588.3h0M499.4 558.6h0M525.2 607.2h0M352.7 651.1h0M525.9 594.6h0M418.9 623.7h0M491.0 630.6h0M533.9 559.9h0M508.7 599.5h0M418.9 580.0h0M365.8 586.0h0M483.3 599.3h0M414.9 610.7h0M451.3 567.3h0M518.0 600.8h0M440.0 583.5h0M357.0 653.1h0M432.4 642.1h0M534.2 666.7h0M413.9 631.8h0M399.9 576.6h0M443.7 574.1h0M362.0 615.6h0M402.4 628.2h0M525.9 630.2h0M428.9 593.8h0M503.0 606.4h0M429.9 617.2h0M425.7 571.7h0M477.5 588.4h0M511.8 633.1h0M528.2 560.0h0M531.7 610.0h0M359.2 591.1h0M396.5 634.9h0M449.3 579.1h0M448.1 661.2h0M400.6 613.9h0M519.8 572.4h0M467.9 648.3h0M479.9 651.5h0M469.3 636.1h0M492.1 660.6h0M385.9 660.4h0M507.2 631.7h0M367.6 614.6h0M365.2 591.5h0M474.5 581.8h0M437.9 626.9h0M492.5 614.4h0M458.1 589.5h0M357.7 603.8h0M534.1 609.7h0M353.4 631.1h0M476.9 605.0h0"/><path stroke="#310597" stroke-width="2.20" d="M541.6 621.2h0M531.1 661.1h0M365.2 600.7h0M544.3 626.7h0M539.2 621.0h0M532.0 586.2h0M348.6 595.4h0M384.5 562.4h0M459.0 640.1h0M444.7 607.3h0M447.7 563.7h0M358.7 577.4h0M356.0 629.4h0M444.4 574.9h0M414.6 600.7h0M408.6 634.6h0M537.1 594.8h0M542.9 575.5h0M423.5 634.6h0M464.5 571.2h0M432.4 649.2h0M435.5 582.9h0M354.3 611.7h0M429.4 604.6h0M405.8 606.0h0M445.4 632.0h0M379.5 628.2h0M368.9 596.0h0M417.9 656.2h0M523.0 582.2h0M379.1 557.0h0M459.3 618.8h0M526.5 583.8h0M420.4 588.2h0"/><path stroke="#bc3587" stroke-width="2.20" d="M374.3 619.5h0M406.4 563.7h0M427.7 569.3h0M484.1 651.7h0M480.6 565.3h0M401.0 557.1h0M443.6 608.1h0M430.7 627.9h0M490.8 606.2h0M512.9 591.7h0M496.9 601.8h0M455.1 590.1h0M513.3 648.9h0M423.0 566.3h0M468.4 607.7h0M449.2 600.9h0M404.5 584.9h0M442.5 631.6h0M411.5 650.6h0M426.2 580.4h0M499.1 643.3h0M424.6 620.1h0M388.9 565.5h0M499.3 564.3h0M397.2 659.7h0M429.8 632.1h0M414.2 568.0h0M509.7 600.3h0M389.1 621.4h0M484.7 569.7h0M515.9 566.1h0M472.5 597.7h0M391.0 643.8h0M448.7 587.5h0M480.8 623.9h0M451.9 587.9h0M469.8 618.7h0M468.4 655.5h0M487.6 667.7h0M432.7 649.1h0M380.5 552.1h0M412.2 666.1h0M481.7 663.5h0M517.9 654.2h0M465.2 591.6h0M455.7 649.7h0M396.6 607.5h0M486.7 620.2h0M415.3 568.3h0M504.9 648.6h0M483.6 606.8h0M413.5 664.1h0"/><path stroke="#43039e" stroke-width="2.20" d="M501.6 659.6h0M462.1 633.9h0M548.5 637.1h0M536.5 630.0h0M458.1 654.7h0M456.9 617.8h0M423.5 616.1h0M519.2 661.3h0M463.0 604.7h0M500.4 633.2h0M458.2 638.3h0M462.9 626.3h0M410.4 638.6h0M441.9 634.3h0M519.6 625.4h0M517.1 636.5h0M373.7 643.6h0M515.3 635.8h0M352.7 566.2h0M439.5 562.1h0M533.9 642.6h0M453.0 664.1h0M547.8 642.5h0M386.5 632.3h0M354.3 612.8h0M423.9 576.1h0M492.4 625.4h0M477.3 656.9h0M545.6 625.7h0M478.5 558.3h0M513.9 568.7h0M471.9 643.9h0M417.9 570.4h0M525.6 658.9h0M499.8 636.8h0M517.7 636.8h0M471.0 656.7h0M549.0 650.1h0M366.4 602.6h0M541.0 630.4h0M361.2 595.9h0M492.6 618.9h0M496.5 608.6h0M381.2 632.1h0M412.0 554.6h0M382.9 571.6h0M522.2 597.7h0M529.3 589.0h0M506.3 621.8h0M491.4 586.2h0M522.7 635.5h0M479.8 598.6h0M532.2 600.4h0M491.6 595.5h0M444.2 656.6h0M506.6 565.8h0M548.0 666.3h0M520.2 591.1h0M540.2 597.6h0M471.2 666.6h0M419.7 644.1h0M515.3 603.6h0M415.8 613.1h0M488.5 644.7h0M501.6 570.0h0M428.8 648.1h0M361.4 598.4h0M370.8 559.7h0M398.0 625.3h0M378.7 566.2h0M540.6 606.3h0M451.5 622.5h0M510.9 665.4h0M537.4 628.2h0"/><path stroke="#c6417d" stroke-width="2.20" d="M493.0 594.2h0M481.6 626.1h0M499.4 572.2h0M502.3 589.6h0M379.4 570.6h0M425.0 567.4h0M452.7 571.4h0M497.2 643.9h0M448.4 644.4h0M371.5 639.1h0M503.5 588.6h0M385.4 586.9h0M487.6 566.2h0M453.1 612.8h0M402.7 652.2h0M473.0 616.8h0M452.8 647.8h0M374.0 607.4h0M423.6 604.8h0M419.1 579.7h0M413.2 630.8h0M377.8 577.9h0M390.1 611.7h0M476.9 621.5h0M496.2 635.1h0M465.3 623.1h0M485.2 590.1h0M444.2 626.4h0M484.0 631.6h0M456.5 661.7h0M428.4 614.5h0M493.4 603.3h0M391.6 583.4h0M512.9 664.4h0M400.1 609.7h0M469.2 618.3h0M488.4 615.7h0M501.1 580.5h0M492.1 630.2h0M447.5 603.7h0M464.6 612.4h0M401.4 622.9h0M377.4 597.9h0M496.0 662.4h0M446.9 572.1h0"/><path stroke="#febb2b" stroke-width="2.20" d="M428.2 649.7h0M409.1 558.8h0M457.9 667.9h0M437.1 639.0h0M450.9 650.3h0M474.3 668.9h0M462.9 590.5h0M455.6 651.9h0M417.8 667.9h0M461.5 600.2h0M466.8 633.7h0M464.7 638.6h0M452.3 617.4h0M419.2 579.2h0M471.8 629.8h0M430.3 662.4h0M441.6 655.9h0M461.4 599.1h0M454.6 666.5h0M423.8 581.4h0M458.5 615.0h0M460.9 641.1h0M437.3 607.7h0M438.0 595.1h0M415.8 611.0h0M448.8 650.8h0M423.6 647.0h0M459.1 646.6h0M458.2 649.1h0M432.0 562.7h0M409.2 563.2h0M426.3 626.1h0M435.6 577.4h0M442.9 588.2h0M428.5 621.0h0M438.8 595.2h0M465.2 560.6h0"/><path stroke="#f0804e" stroke-width="2.20" d="M411.7 635.5h0M467.3 630.4h0M491.8 630.3h0M483.1 653.2h0M483.0 622.2h0M415.4 666.5h0M408.9 624.5h0M478.6 621.8h0M397.1 575.3h0M483.9 668.9h0M454.3 565.9h0M464.3 614.8h0M492.0 580.8h0M442.5 652.8h0M472.4 602.8h0M400.3 654.6h0M393.3 597.9h0M477.1 597.0h0M392.1 571.2h0M431.5 656.5h0M413.6 632.8h0M438.8 633.0h0M390.7 661.9h0M399.0 563.1h0M419.8 635.8h0M483.5 565.3h0M476.8 651.4h0M473.3 655.9h0M477.3 559.8h0M457.8 629.1h0M419.4 571.5h0M427.3 650.1h0M420.5 661.3h0M419.0 596.3h0M481.2 639.0h0M394.1 601.2h0M444.4 659.5h0M463.2 643.0h0M478.8 630.4h0"/><path stroke="#e26561" stroke-width="2.20" d="M449.6 660.0h0M463.1 575.8h0M483.2 662.2h0M476.8 625.0h0M483.1 593.5h0M414.8 601.6h0M465.9 638.9h0M386.5 611.0h0M500.5 647.7h0M483.3 643.5h0M448.3 629.5h0M479.5 559.6h0M410.0 606.1h0M481.0 602.0h0M474.9 614.0h0M410.5 608.0h0M472.6 620.0h0M429.6 558.3h0M458.0 597.8h0M493.9 641.7h0M462.3 629.3h0M441.6 637.6h0M433.8 605.7h0M399.6 659.5h0M382.7 665.2h0M398.4 627.6h0M467.6 619.7h0M424.7 646.2h0M499.1 667.2h0M415.0 658.9h0M497.8 652.6h0M383.1 555.6h0M462.3 608.3h0M487.3 592.3h0M478.5 668.3h0M386.7 657.2h0M405.1 665.7h0M461.7 621.6h0M383.0 618.5h0M444.4 563.4h0M415.8 615.3h0M397.0 613.4h0M445.9 564.7h0M382.3 607.4h0M455.4 579.7h0M448.1 588.2h0M467.3 575.1h0M430.3 617.7h0M463.6 589.2h0M429.6 593.3h0M383.5 618.0h0M404.0 595.3h0M446.1 636.1h0M466.2 581.4h0M462.8 603.0h0M498.6 655.5h0"/><path stroke="#6600a7" stroke-width="2.20" d="M406.2 646.8h0M355.8 603.6h0M536.4 586.6h0M482.4 575.9h0M512.2 590.7h0M464.0 583.8h0M496.1 642.3h0M443.6 601.4h0M352.8 615.6h0M371.6 549.8h0M523.4 586.2h0M428.9 595.3h0M520.3 610.1h0M483.3 662.4h0M404.1 657.8h0M536.4 560.2h0M512.8 595.6h0M492.6 638.6h0M510.4 607.1h0M358.6 634.1h0M426.7 564.5h0M445.2 581.8h0M355.8 612.9h0M491.2 644.1h0M361.7 556.2h0M401.5 563.3h0M413.8 566.7h0M356.9 550.2h0M524.8 611.1h0M439.1 560.9h0M408.1 594.4h0M412.7 561.4h0M532.0 619.2h0M483.6 592.9h0M534.6 587.3h0M372.4 604.9h0M351.8 625.6h0M463.7 563.3h0M356.0 597.8h0M436.8 640.8h0M447.6 651.9h0M517.3 606.6h0M432.7 635.9h0M353.3 604.3h0M529.9 621.8h0M514.9 605.8h0M489.9 644.2h0M502.9 659.4h0M440.9 661.4h0M531.0 590.2h0M537.6 564.8h0M422.1 563.5h0M528.8 627.8h0M404.7 632.8h0M522.6 620.1h0M371.6 573.2h0M355.9 652.0h0M514.3 643.1h0M432.9 652.6h0M354.9 647.0h0M495.1 661.6h0M427.5 594.2h0M522.1 587.7h0M471.4 636.5h0M471.8 650.3h0M458.4 595.8h0M406.2 630.7h0M417.2 560.8h0M440.3 570.7h0M496.2 565.3h0M400.6 617.3h0M358.1 619.6h0M503.8 651.1h0M512.9 591.8h0M518.1 653.1h0M494.3 668.6h0M353.4 582.5h0M404.1 656.6h0M529.4 600.2h0M512.2 607.9h0M528.3 570.2h0M514.7 625.0h0M536.2 649.1h0M515.9 609.3h0"/><path stroke="#9511a1" stroke-width="2.20" d="M403.8 592.3h0M395.9 605.8h0M502.8 645.3h0M408.0 651.6h0M516.6 631.0h0M521.8 568.3h0M417.5 664.2h0M499.6 650.9h0M490.7 620.4h0M513.9 656.1h0M410.0 621.9h0M432.4 638.8h0M429.6 652.0h0M456.7 574.0h0M399.0 576.6h0M526.4 656.8h0M357.8 585.6h0M453.9 608.8h0M500.2 566.4h0M359.0 547.9h0M470.0 619.5h0M376.6 602.5h0M403.1 649.1h0M531.6 608.9h0M356.6 647.4h0M403.0 627.4h0M523.0 660.0h0M404.1 556.7h0M395.8 581.3h0M367.5 586.6h0M519.6 595.4h0M502.8 576.7h0M397.2 612.4h0M450.9 648.4h0M468.9 655.6h0M469.0 608.3h0M384.1 620.5h0M417.4 666.1h0M524.1 616.3h0M523.1 599.4h0M408.0 581.0h0M469.5 590.7h0M489.1 561.5h0M453.4 628.0h0M521.7 629.6h0M516.0 600.0h0M461.6 611.5h0M485.7 595.5h0M519.3 605.9h0M503.9 573.6h0M494.6 592.5h0M489.8 570.8h0M444.9 664.2h0M366.4 650.6h0M439.5 603.5h0M522.9 636.6h0M433.7 658.1h0M433.6 628.7h0M410.7 570.6h0M525.3 585.4h0M414.2 623.2h0M413.7 612.0h0M523.1 665.6h0M360.4 590.4h0M403.1 603.8h0M412.1 612.0h0M511.1 641.5h0M444.6 604.1h0M481.2 637.2h0M471.8 575.6h0M509.8 651.1h0M505.3 571.5h0M460.1 601.4h0"/><path stroke="#7501a8" stroke-width="2.20" d="M383.0 570.1h0M408.8 568.0h0M507.9 602.5h0M526.4 592.1h0M523.1 665.3h0M503.7 646.3h0M480.8 587.7h0M422.4 647.5h0M435.8 644.4h0M415.7 582.0h0M427.2 628.9h0M532.1 646.7h0M493.7 641.9h0M368.3 571.2h0M369.6 571.8h0M356.1 584.2h0M455.3 655.5h0M403.3 599.3h0M377.3 632.7h0M428.3 628.4h0M434.7 564.0h0M447.6 562.6h0M471.5 637.2h0M357.9 580.9h0M489.6 621.2h0M464.0 616.8h0M433.1 581.0h0M432.1 638.3h0M366.4 627.9h0M428.0 560.9h0M516.8 579.2h0M451.4 650.5h0M517.8 644.6h0M468.7 568.4h0M472.1 642.7h0M532.1 576.4h0M516.1 666.1h0M468.6 632.9h0M491.9 599.9h0M511.3 644.7h0M409.2 574.5h0M377.6 615.8h0M467.1 645.4h0M505.9 643.5h0M421.5 621.1h0M492.5 573.7h0M414.7 606.4h0M440.6 620.7h0M536.3 652.0h0M536.8 628.7h0M521.2 558.9h0M417.9 601.5h0M533.7 625.1h0M532.7 578.2h0M462.7 578.2h0M394.1 616.4h0M359.6 638.7h0M367.9 655.9h0M366.7 555.5h0M518.8 636.5h0M510.2 640.7h0M425.6 660.2h0M401.8 564.6h0M383.3 586.2h0M357.4 647.4h0M533.2 567.7h0M472.2 579.2h0M418.1 560.0h0M364.2 567.6h0M406.0 615.2h0M472.3 572.6h0M490.6 622.7h0M405.1 596.9h0M531.9 563.8h0M421.8 589.6h0M535.5 597.0h0M440.8 632.7h0M381.5 586.8h0"/><path stroke="#fccd25" stroke-width="2.20" d="M467.4 648.3h0M449.6 635.8h0M459.7 584.3h0M445.0 652.1h0M435.6 572.2h0M438.3 581.5h0M439.1 588.4h0M409.0 618.1h0M466.5 611.3h0M464.7 587.9h0M460.0 595.9h0M457.9 640.3h0M412.1 635.8h0M453.8 572.9h0M450.4 634.3h0M436.5 582.4h0M430.0 664.9h0M448.7 579.2h0M428.6 591.2h0M456.7 577.5h0M469.0 572.0h0M442.2 602.8h0M471.1 629.3h0M430.3 579.7h0M460.1 631.4h0M407.8 607.4h0M456.0 631.2h0M409.6 623.4h0M474.8 603.2h0M447.9 652.1h0M474.7 612.3h0M461.4 562.1h0M469.0 661.7h0M457.6 603.1h0M423.6 639.1h0M421.6 654.4h0"/><path stroke="#fdac33" stroke-width="2.20" d="M408.3 620.2h0M429.3 657.2h0M403.4 664.1h0M467.2 614.3h0M462.6 572.8h0M472.4 585.5h0M464.3 661.8h0M464.3 642.9h0M428.9 603.6h0M471.3 606.8h0M472.8 567.6h0M479.8 615.4h0M411.8 641.4h0M442.6 572.5h0M467.2 588.2h0M448.6 633.1h0M438.2 608.4h0M460.6 648.0h0M478.6 566.3h0M453.3 585.4h0M455.6 619.4h0M413.3 664.3h0M437.8 597.7h0M409.7 649.0h0M415.8 589.7h0M421.3 598.1h0M474.3 654.8h0M443.1 591.8h0M435.7 619.3h0M456.2 605.3h0M473.4 616.7h0M439.7 662.4h0M458.4 629.3h0M401.3 633.0h0M427.9 661.4h0M456.5 617.3h0M460.5 639.7h0"/><path stroke="#0b800b" stroke-width="3.50" d="M415.6 575.4h0M397.3 606.0h0M396.0 569.8h0M470.4 627.6h0M382.2 574.3h0M489.7 647.6h0M402.9 632.6h0M462.9 640.9h0M463.9 658.4h0M388.2 645.2h0M420.1 590.1h0M436.2 622.6h0M472.7 635.9h0M482.5 622.4h0M470.0 639.3h0M374.4 562.0h0M495.8 665.7h0M490.3 585.2h0M477.4 661.9h0M490.1 621.5h0M441.0 561.1h0M477.2 631.8h0M411.9 662.8h0M381.1 620.3h0M499.5 594.7h0M432.4 588.7h0M426.4 645.5h0M488.7 595.0h0M405.3 645.5h0M376.6 652.2h0M494.1 635.4h0M456.8 565.0h0M495.6 633.7h0M410.1 609.5h0M480.1 613.9h0M461.1 647.5h0M446.8 587.4h0M426.9 654.5h0M394.5 634.5h0M385.5 602.1h0M423.1 627.8h0M484.9 622.8h0M487.8 659.7h0M441.9 663.7h0M423.8 570.6h0M371.9 587.9h0M506.2 582.3h0M497.6 650.5h0M493.4 573.0h0M454.8 568.0h0M449.1 588.7h0M462.4 572.6h0M491.5 630.4h0M461.3 577.1h0M487.9 622.5h0M445.7 566.9h0M376.8 557.0h0M427.7 613.2h0M399.3 563.3h0M445.4 629.3h0M412.7 596.7h0M499.0 592.0h0M430.6 607.6h0M502.9 617.9h0M412.6 626.8h0M466.3 614.3h0M427.7 566.8h0M479.4 575.4h0M426.9 621.4h0M375.9 641.0h0M478.2 617.0h0M376.2 589.8h0M507.1 558.9h0M484.5 649.0h0M407.8 662.2h0M498.8 580.3h0M427.3 602.5h0M484.3 600.4h0M390.0 596.2h0M485.6 573.0h0"/></g></g></g><g clip-path="url(#cC2)"><g filter="url(#bl)"><g fill="none" stroke-linecap="round"><path stroke="#da5a6a" stroke-width="2.20" d="M271.5 743.6h0M253.5 751.3h0M186.1 796.3h0M216.9 772.6h0M246.2 754.9h0M225.4 767.6h0M152.3 826.1h0M216.4 772.5h0M211.3 775.9h0M276.6 740.8h0M224.8 766.7h0M170.0 811.5h0M268.9 745.1h0M170.6 810.6h0M271.4 742.1h0M283.8 735.5h0M179.9 802.2h0M176.3 806.4h0M241.7 756.5h0M258.5 749.8h0M203.4 782.9h0M222.6 768.7h0M195.1 790.0h0M162.5 818.2h0M192.8 792.1h0M263.3 747.0h0M256.6 749.5h0M150.7 827.5h0M236.5 759.6h0M207.6 779.4h0M174.1 807.3h0M171.8 808.6h0M260.9 748.8h0M160.1 820.2h0M207.3 779.1h0M288.4 734.0h0"/><path stroke="#d04d73" stroke-width="2.20" d="M215.8 767.8h0M244.3 752.2h0M180.3 797.6h0M175.1 803.1h0M188.5 790.7h0M209.6 773.0h0M157.3 817.8h0M270.5 739.6h0M274.3 736.7h0M233.3 758.2h0M166.1 809.9h0M289.0 728.8h0M190.4 789.7h0M233.1 758.1h0M159.7 815.6h0M233.4 757.9h0M247.2 750.1h0M201.7 779.9h0M220.7 765.0h0M145.7 828.2h0M270.7 739.7h0M227.4 761.8h0M243.6 752.3h0M252.9 747.7h0M238.3 755.2h0M286.6 730.2h0M172.3 805.1h0M209.4 773.8h0M232.1 758.6h0M223.9 763.4h0M246.1 751.7h0M225.8 762.9h0M282.1 733.6h0M238.8 755.6h0M148.1 825.8h0M163.5 812.6h0M151.1 823.6h0M190.8 788.0h0M164.4 812.9h0M234.2 757.4h0M204.4 777.2h0"/><path stroke="#e97257" stroke-width="2.20" d="M216.2 779.4h0M170.1 815.2h0M187.6 800.9h0M164.6 821.3h0M212.5 779.3h0M172.4 815.2h0M280.9 742.7h0M262.7 751.3h0M230.8 769.3h0M198.0 791.1h0M272.7 748.8h0M279.1 744.7h0M266.7 751.8h0M225.1 772.1h0M268.0 751.2h0M179.1 808.8h0M290.0 739.4h0M230.6 769.1h0M207.1 783.7h0M277.3 746.2h0M252.5 757.2h0M243.9 760.6h0M243.9 762.3h0M204.0 788.3h0M243.9 761.2h0M217.1 777.5h0M191.0 799.3h0M161.6 822.7h0M256.9 755.8h0M235.3 767.4h0M181.2 806.4h0M204.1 788.7h0M220.6 776.0h0M251.5 758.8h0M168.4 817.1h0M204.1 787.4h0M198.4 792.4h0M202.7 787.2h0M199.0 792.8h0M189.3 801.1h0M253.1 756.9h0M168.7 818.9h0M270.1 748.5h0M168.2 818.1h0M239.7 763.8h0M222.4 774.7h0M241.4 762.3h0M229.3 769.9h0M275.5 746.1h0M264.4 752.8h0M247.9 760.2h0M201.5 790.8h0M239.2 765.8h0M234.2 766.0h0M236.5 766.5h0M232.3 767.3h0M181.7 806.5h0M258.2 754.4h0"/><path stroke="#f3f027" stroke-width="2.20" d="M216.1 800.9h0M215.0 801.8h0M217.8 800.6h0"/><path stroke="#1b068d" stroke-width="2.20" d="M149.2 793.6h0M119.0 833.3h0M135.8 811.0h0M159.3 782.2h0M159.8 781.6h0M127.7 824.0h0M143.4 798.9h0M168.0 775.9h0M153.4 787.0h0M120.8 830.3h0M145.2 796.3h0M161.2 778.6h0M145.0 798.8h0M124.5 826.5h0M136.2 810.4h0M136.4 809.8h0M154.1 789.5h0M116.6 835.1h0M112.5 839.5h0M131.3 821.3h0M130.3 820.1h0M148.9 794.6h0M132.6 813.0h0M156.3 784.0h0M120.5 832.6h0M135.0 814.6h0M117.0 834.6h0M164.7 776.8h0M168.0 773.8h0M111.0 841.5h0M155.4 784.8h0M113.5 838.2h0M150.2 794.2h0M127.9 823.1h0M116.7 836.3h0M159.1 780.9h0M127.2 823.7h0M163.7 779.6h0M124.8 827.2h0M130.5 820.6h0M155.4 786.3h0M136.0 810.1h0M157.4 786.8h0M102.9 850.2h0M116.2 836.1h0M132.0 816.9h0M135.7 812.8h0M113.2 839.0h0M147.3 796.9h0M157.9 781.8h0M158.9 783.7h0M152.9 791.5h0M148.1 795.6h0M108.0 845.8h0M159.9 781.7h0M159.6 783.8h0M123.5 827.3h0M145.6 795.7h0M117.2 834.4h0M116.0 837.0h0M179.6 765.1h0M161.8 781.5h0M113.5 838.5h0"/><path stroke="#f68d45" stroke-width="2.20" d="M266.1 758.4h0M216.8 785.1h0M217.6 783.4h0M211.8 786.6h0M200.8 796.7h0M282.6 747.3h0M182.3 811.9h0M192.5 803.6h0M284.8 746.2h0M266.4 756.6h0M272.0 754.9h0M191.1 803.1h0M268.6 755.0h0M211.9 786.7h0M246.4 766.4h0M255.5 762.0h0M223.2 781.2h0M200.3 795.4h0M267.5 757.7h0M183.8 810.5h0M204.8 794.4h0M186.6 807.1h0M198.9 797.1h0M275.1 753.5h0M281.4 750.9h0M196.0 798.6h0M207.0 792.6h0M204.3 792.8h0M280.8 751.3h0M191.7 802.6h0M184.8 809.7h0M250.8 764.0h0M278.1 751.8h0M277.8 751.1h0M182.5 812.3h0M230.8 775.9h0M188.4 807.2h0M249.7 765.0h0M217.8 782.9h0M286.0 745.7h0M216.3 783.0h0M202.8 796.0h0M279.9 748.9h0M189.8 804.7h0M271.6 754.5h0M247.2 765.0h0M175.2 817.3h0M267.1 758.0h0M267.5 756.2h0M191.9 803.9h0M232.8 773.0h0M210.5 787.5h0M207.6 792.1h0M219.6 782.9h0"/><path stroke="#5502a4" stroke-width="2.20" d="M123.0 836.5h0M155.9 796.1h0M238.6 729.6h0M211.4 744.2h0M258.1 716.8h0M167.4 784.0h0M231.2 731.6h0M145.5 806.0h0M116.8 843.5h0M274.2 710.2h0M234.8 731.0h0M199.7 754.1h0M236.3 729.5h0M264.9 716.3h0M255.1 718.6h0M238.5 726.9h0M198.3 754.7h0M238.3 727.2h0M276.6 710.8h0M167.3 783.4h0M197.2 756.5h0M155.5 796.6h0M151.0 799.0h0M241.7 726.8h0M234.1 730.2h0M289.7 702.2h0M267.0 714.2h0M208.5 748.7h0M120.1 838.4h0M287.8 702.6h0M214.3 741.8h0M235.3 729.6h0M285.9 703.7h0M155.5 796.2h0M117.6 841.0h0M271.7 713.0h0M227.0 734.3h0M288.6 702.5h0M242.8 727.1h0M179.2 772.3h0M277.4 708.2h0M231.0 731.1h0M120.3 838.5h0M248.0 722.2h0M132.8 827.0h0M195.2 757.7h0M289.7 702.2h0M275.0 709.8h0M209.1 745.9h0M172.8 779.0h0M242.4 726.8h0M189.3 763.7h0M177.8 773.7h0M233.2 729.7h0M217.7 740.8h0M258.5 718.3h0M214.8 741.1h0M257.2 719.5h0M168.5 783.9h0M278.3 707.6h0M200.1 755.1h0M214.0 744.3h0M114.8 844.3h0M218.7 738.9h0M170.4 782.6h0M127.2 832.5h0M159.9 791.9h0M204.4 750.7h0M113.2 845.7h0M161.9 788.7h0M120.9 838.4h0M142.1 808.3h0M214.0 742.5h0M156.4 796.3h0M273.4 710.0h0M279.4 706.5h0M123.7 836.7h0M125.0 834.9h0M187.6 763.3h0M228.0 733.1h0M147.5 803.8h0M159.1 793.1h0M189.2 764.0h0M165.4 787.3h0M180.2 773.2h0M170.9 781.0h0M214.5 741.4h0M136.7 819.8h0M121.2 838.7h0M250.4 721.3h0M179.1 772.4h0M130.7 828.6h0M245.4 724.4h0M185.7 767.4h0M277.8 708.3h0"/><path stroke="#f8df25" stroke-width="2.20" d="M284.6 762.0h0M224.4 794.7h0M289.4 760.1h0M242.2 783.0h0M237.2 786.5h0M241.8 785.4h0M287.7 761.2h0M240.7 783.6h0M212.9 801.3h0M249.0 779.5h0M288.0 759.8h0M253.3 777.4h0M271.5 768.7h0M243.5 782.0h0M252.4 779.7h0M251.3 779.1h0M227.3 792.9h0M226.0 792.7h0M223.0 795.5h0M253.9 778.8h0M222.1 795.6h0M250.8 779.5h0M232.4 790.0h0M254.4 778.6h0M217.3 799.4h0M290.2 759.8h0M214.1 801.3h0"/><path stroke="#a21d9a" stroke-width="2.20" d="M167.5 798.9h0M219.3 755.5h0M266.2 728.5h0M244.3 740.6h0M166.1 800.8h0M235.4 744.6h0M261.9 732.3h0M162.4 801.9h0M222.8 751.9h0M159.4 806.2h0M246.2 738.2h0M137.4 830.2h0M287.5 718.2h0M264.2 730.1h0M157.9 807.3h0M233.1 747.2h0M245.2 740.7h0M235.0 745.7h0M268.3 727.6h0M231.8 745.7h0M263.3 732.3h0M214.9 758.6h0M246.4 738.4h0M227.2 750.3h0M196.6 770.9h0M281.2 722.6h0M140.5 823.4h0M198.4 772.0h0M181.3 785.8h0M222.0 751.9h0M286.4 720.5h0M229.6 747.7h0M141.6 822.5h0M175.5 792.6h0M277.4 724.1h0M150.5 815.1h0M148.2 816.4h0M143.6 821.3h0M271.1 726.0h0M218.8 753.6h0M145.7 817.2h0M153.3 812.6h0M184.6 784.0h0M197.8 770.4h0M156.3 809.2h0M156.4 807.9h0M273.4 724.9h0M285.4 719.2h0M233.7 744.8h0M137.5 829.1h0M142.7 821.6h0M212.4 759.3h0M258.1 735.0h0M147.5 816.2h0M221.8 753.8h0M137.1 830.2h0M168.2 798.7h0M164.7 801.2h0M175.7 790.0h0M147.5 816.0h0M163.9 801.8h0"/><path stroke="#b02991" stroke-width="2.20" d="M244.5 742.2h0M277.5 728.4h0M287.5 721.6h0M141.6 823.8h0M285.4 722.8h0M266.4 734.2h0M165.7 802.9h0M212.2 763.2h0M198.8 772.2h0M205.6 768.3h0M137.1 834.6h0M230.3 750.3h0M260.1 734.9h0M150.1 817.9h0M199.4 772.2h0M150.2 818.1h0M287.1 723.5h0M266.4 732.1h0M148.0 819.1h0M171.7 797.1h0M283.8 724.2h0M266.4 732.8h0M276.4 728.9h0M236.6 746.5h0M218.2 757.9h0M170.7 798.8h0M246.9 740.5h0M216.9 758.7h0M246.3 741.0h0M242.6 745.3h0M210.2 765.5h0M201.5 772.6h0M279.1 727.2h0M192.7 779.5h0M271.1 729.3h0M146.9 820.6h0M231.4 750.1h0M258.4 737.8h0M197.7 774.8h0M147.1 821.2h0M213.1 763.3h0M229.8 751.2h0M150.3 816.7h0M288.7 721.5h0M166.4 803.1h0M283.9 724.8h0M150.5 816.2h0M286.5 723.3h0M171.3 797.5h0M167.4 802.4h0M277.1 728.0h0M154.4 814.2h0M279.2 725.9h0M151.7 816.3h0M257.0 737.7h0M235.1 747.5h0M264.3 734.5h0M170.2 799.5h0M243.7 743.2h0M271.7 731.7h0M235.1 746.9h0"/><path stroke="#fa9c3c" stroke-width="2.20" d="M256.9 764.8h0M280.0 752.1h0M208.4 792.3h0M201.3 799.5h0M201.0 799.3h0M199.1 800.0h0M284.6 750.5h0M197.1 801.4h0M224.9 783.2h0M198.2 802.4h0M203.3 795.7h0M260.1 762.0h0M192.5 805.8h0M256.6 764.9h0M286.4 749.4h0M210.0 791.4h0M243.0 772.0h0M256.4 763.4h0M228.3 778.9h0M220.8 784.3h0M218.8 784.3h0M217.3 785.3h0M211.7 791.3h0M254.1 767.0h0M226.2 782.3h0M233.1 776.8h0M216.2 787.3h0M279.2 755.0h0M263.9 761.6h0M223.6 783.1h0M199.2 799.6h0M224.2 782.9h0M272.1 756.5h0M257.4 763.2h0M258.8 764.2h0M273.9 755.5h0M206.8 795.6h0M250.9 767.9h0M226.6 780.4h0M239.5 774.6h0M266.0 761.5h0M204.9 796.2h0M277.3 753.4h0M210.6 791.0h0M243.2 772.3h0M284.3 749.5h0M237.1 774.8h0M269.6 759.0h0M280.7 752.1h0M183.3 813.7h0M207.4 792.5h0M236.6 776.2h0"/><path stroke="#8606a6" stroke-width="2.20" d="M262.7 725.9h0M274.9 719.6h0M162.2 797.9h0M288.1 712.7h0M184.6 777.8h0M221.1 748.6h0M233.6 741.1h0M182.1 779.9h0M237.2 738.8h0M250.0 731.5h0M216.1 751.7h0M273.1 719.4h0M121.9 845.2h0M235.9 738.5h0M257.0 726.9h0M164.7 796.5h0M128.9 837.4h0M239.4 737.6h0M269.9 723.0h0M220.1 748.9h0M167.3 792.3h0M128.5 839.4h0M204.9 759.1h0M242.7 735.3h0M281.3 714.7h0M239.0 736.9h0M277.5 717.6h0M119.9 846.9h0M276.6 717.1h0M161.6 797.3h0M226.5 743.2h0M289.1 711.1h0M251.8 730.0h0M162.5 797.3h0M129.7 837.1h0M218.8 749.0h0M158.8 800.3h0M189.2 773.0h0M265.7 723.0h0M181.0 781.5h0M123.6 843.7h0M172.5 787.2h0M288.9 710.9h0M158.3 801.0h0M146.4 811.5h0M184.0 778.7h0M128.2 839.9h0M150.6 809.7h0M282.1 717.0h0M171.5 789.8h0M242.1 734.2h0M171.4 789.0h0M169.8 792.2h0M210.8 753.3h0M257.8 727.7h0M282.5 715.4h0M289.3 712.7h0M124.5 842.1h0M143.4 814.0h0M185.5 774.5h0M185.9 775.4h0M146.9 811.0h0M268.7 721.6h0M203.1 760.5h0M214.8 751.6h0M203.0 759.5h0M227.9 742.4h0M139.1 822.0h0M253.1 731.1h0M131.8 835.7h0M130.2 837.5h0M211.4 755.6h0M177.6 783.0h0M229.3 742.1h0M193.0 767.9h0M123.2 843.1h0M291.4 710.9h0M121.8 846.4h0M212.2 753.8h0"/><path stroke="#310597" stroke-width="2.20" d="M273.8 705.3h0M258.6 713.2h0M116.8 837.5h0M278.3 703.2h0M270.3 707.1h0M259.3 712.5h0M105.7 850.0h0M130.2 823.1h0M177.9 767.2h0M168.3 778.0h0M170.0 775.7h0M112.3 842.4h0M109.7 844.5h0M167.4 778.2h0M144.6 800.5h0M141.0 805.0h0M268.9 708.7h0M274.7 704.3h0M152.2 793.8h0M181.9 763.1h0M158.4 787.1h0M160.5 784.8h0M110.4 845.7h0M156.5 789.4h0M140.2 807.1h0M168.5 777.4h0M128.1 826.8h0M119.1 834.8h0M148.8 798.0h0M245.7 719.2h0M126.8 827.1h0M178.2 767.0h0M250.7 716.6h0M149.2 796.2h0"/><path stroke="#bc3587" stroke-width="2.20" d="M139.9 830.7h0M164.4 806.7h0M181.2 790.7h0M242.2 748.4h0M236.4 751.0h0M160.2 810.7h0M195.1 778.7h0M184.9 788.4h0M250.6 743.4h0M285.3 726.8h0M259.9 738.8h0M208.0 770.2h0M283.3 726.5h0M177.3 794.2h0M222.8 760.2h0M201.5 774.6h0M163.0 808.1h0M196.2 779.6h0M168.0 802.8h0M181.9 791.8h0M266.9 737.1h0M180.8 793.0h0M151.3 819.8h0M261.6 737.0h0M158.8 813.5h0M185.7 789.1h0M170.2 800.8h0M279.5 729.2h0M150.4 819.6h0M243.8 747.9h0M289.8 724.6h0M224.8 757.1h0M151.1 818.2h0M201.6 774.9h0M233.7 750.9h0M202.0 772.5h0M221.5 759.1h0M222.2 760.2h0M245.2 745.8h0M186.6 786.9h0M141.9 826.1h0M168.4 802.3h0M237.7 750.2h0M290.7 723.0h0M217.4 762.5h0M208.0 769.7h0M157.5 814.0h0M243.3 746.4h0M172.5 800.0h0M270.8 732.8h0M241.7 748.8h0M171.3 801.3h0"/><path stroke="#43039e" stroke-width="2.20" d="M222.9 735.2h0M185.4 764.9h0M290.7 700.1h0M272.3 709.1h0M181.3 767.9h0M181.1 768.8h0M154.2 793.8h0M245.1 722.0h0M186.4 764.2h0M218.5 736.2h0M180.1 767.8h0M183.8 764.3h0M145.0 803.7h0M167.8 780.1h0M246.5 721.8h0M242.3 723.6h0M126.5 831.2h0M236.3 725.0h0M110.9 846.9h0M167.2 781.8h0M265.9 711.1h0M177.5 771.7h0M288.0 700.6h0M133.8 821.6h0M111.8 845.8h0M154.2 793.6h0M210.9 742.2h0M197.0 753.5h0M283.0 702.3h0M197.3 752.6h0M238.8 726.1h0M193.4 757.6h0M151.7 798.1h0M252.8 717.3h0M218.9 736.7h0M239.4 723.2h0M189.8 758.2h0M288.1 699.7h0M120.0 836.6h0M277.6 705.7h0M116.8 840.5h0M211.0 742.0h0M216.0 739.1h0M130.5 825.5h0M146.9 802.5h0M132.5 824.3h0M246.6 719.9h0M259.7 714.5h0M229.6 731.8h0M211.6 742.9h0M250.3 719.5h0M198.3 751.6h0M267.7 712.4h0M210.8 742.8h0M171.4 778.3h0M228.1 731.5h0M285.7 700.5h0M248.0 721.3h0M278.7 706.4h0M190.5 758.0h0M153.0 796.7h0M239.8 725.0h0M148.1 799.6h0M208.2 745.1h0M223.1 735.2h0M160.1 789.8h0M116.7 840.4h0M124.7 833.4h0M138.5 813.0h0M128.4 827.4h0M278.7 706.1h0M175.6 772.8h0M231.2 728.3h0M270.0 708.4h0"/><path stroke="#c6417d" stroke-width="2.20" d="M259.6 741.7h0M241.8 750.3h0M271.2 736.9h0M275.5 734.7h0M144.5 826.9h0M181.9 792.7h0M210.2 771.9h0M266.9 738.6h0M203.4 775.2h0M140.5 832.8h0M277.7 733.9h0M151.3 822.4h0M250.5 745.7h0M210.0 771.7h0M164.1 809.5h0M233.0 756.7h0M208.9 771.9h0M140.6 830.9h0M181.2 793.8h0M178.4 797.2h0M174.9 801.6h0M145.1 828.1h0M155.4 818.9h0M237.6 753.8h0M263.4 739.3h0M223.2 762.5h0M248.4 747.6h0M200.4 778.3h0M248.5 748.5h0M210.2 769.1h0M188.0 790.2h0M258.7 741.4h0M154.4 817.8h0M291.9 726.8h0M163.6 811.4h0M225.4 759.5h0M251.8 745.2h0M273.7 735.7h0M256.6 742.4h0M204.4 775.9h0M221.6 763.0h0M165.0 810.4h0M142.0 828.4h0M266.4 739.5h0M201.0 776.3h0"/><path stroke="#febb2b" stroke-width="2.20" d="M219.9 790.3h0M200.2 804.6h0M261.0 768.0h0M233.5 783.6h0M248.5 773.3h0M289.4 755.8h0M272.5 764.3h0M259.6 769.8h0M209.5 798.1h0M266.0 765.4h0M276.8 761.4h0M275.2 763.0h0M252.2 772.2h0M212.3 797.1h0M284.6 757.6h0M222.8 788.8h0M235.6 780.2h0M270.7 765.4h0M257.8 770.5h0M216.3 793.6h0M261.9 767.6h0M264.4 765.8h0M234.0 783.5h0M233.5 782.9h0M207.0 799.6h0M247.8 774.9h0M215.2 793.8h0M262.8 767.1h0M263.1 767.8h0M227.3 787.5h0M199.9 804.6h0M219.5 791.8h0M227.8 784.8h0M237.6 779.3h0M220.9 790.1h0M236.3 782.4h0M275.6 762.6h0"/><path stroke="#f0804e" stroke-width="2.20" d="M189.5 802.7h0M249.9 761.0h0M289.9 742.6h0M278.4 749.1h0M273.5 749.2h0M191.7 799.9h0M188.0 804.8h0M267.0 752.5h0M177.2 813.6h0M276.0 748.5h0M233.7 770.7h0M247.3 763.2h0M286.3 742.5h0M218.3 779.6h0M261.7 757.2h0M179.3 811.2h0M172.1 816.5h0M268.6 753.6h0M170.8 817.4h0M205.9 787.9h0M191.4 801.2h0M216.5 782.4h0M169.8 818.4h0M178.8 812.2h0M197.2 796.6h0M274.1 748.8h0M263.9 753.9h0M261.6 756.5h0M269.3 753.5h0M240.1 768.1h0M197.2 796.9h0M204.4 791.0h0M197.2 796.1h0M194.6 797.2h0M275.0 750.5h0M174.6 815.9h0M219.7 778.2h0M247.9 764.0h0M272.6 752.3h0"/><path stroke="#e26561" stroke-width="2.20" d="M215.3 774.3h0M232.4 764.2h0M263.6 749.1h0M252.6 753.8h0M267.0 749.1h0M184.1 800.4h0M237.4 762.0h0M161.9 821.6h0M291.3 736.1h0M263.9 749.0h0M215.5 775.3h0M260.8 751.9h0M182.4 804.0h0M262.2 750.7h0M249.3 755.3h0M180.0 803.6h0M247.8 757.0h0M197.5 789.2h0M226.3 768.0h0M279.2 741.1h0M232.0 764.7h0M211.0 780.3h0M203.0 786.1h0M171.4 811.7h0M156.4 824.4h0M171.3 812.6h0M242.4 760.8h0M193.0 792.9h0M284.9 737.2h0M185.8 800.2h0M283.4 738.2h0M157.9 824.1h0M232.3 764.8h0M272.9 746.0h0M255.3 752.6h0M162.1 821.4h0M176.6 807.7h0M233.3 765.2h0M157.8 824.2h0M210.2 778.2h0M185.0 799.6h0M169.7 813.7h0M213.6 777.0h0M155.6 824.7h0M225.3 769.9h0M215.5 775.4h0M238.0 761.0h0M200.0 788.8h0M234.8 763.8h0M198.9 789.3h0M158.6 823.8h0M174.4 808.4h0M215.4 776.9h0M238.1 761.8h0M234.2 764.4h0M287.4 737.6h0"/><path stroke="#6600a7" stroke-width="2.20" d="M148.2 806.8h0M117.5 844.6h0M283.8 709.2h0M209.4 749.6h0M243.9 727.4h0M192.7 763.5h0M223.0 739.4h0M174.8 778.7h0M115.5 846.8h0M128.6 832.8h0M261.2 718.9h0M163.5 789.8h0M256.2 721.2h0M210.1 749.0h0M145.3 808.4h0M284.3 709.2h0M246.8 726.9h0M222.5 742.0h0M244.2 728.7h0M120.2 842.5h0M163.3 791.4h0M178.2 777.5h0M117.4 844.6h0M220.2 743.1h0M121.0 840.2h0M143.3 810.3h0M152.7 801.1h0M117.8 843.8h0M266.4 717.9h0M171.5 782.1h0M147.0 805.3h0M151.2 801.9h0M278.7 712.5h0M209.2 748.8h0M281.2 710.5h0M130.0 832.2h0M114.4 847.6h0M191.6 763.7h0M118.7 844.5h0M172.1 783.8h0M178.1 775.7h0M255.4 723.5h0M167.8 786.9h0M115.2 846.4h0M274.6 714.0h0M247.1 725.3h0M214.8 744.1h0M234.1 734.3h0M175.5 780.8h0M274.2 713.2h0M284.3 708.3h0M159.8 794.9h0M272.7 714.9h0M145.2 808.0h0M260.7 719.5h0M128.0 832.7h0M118.5 844.5h0M249.8 725.8h0M167.6 786.8h0M115.9 845.3h0M222.7 740.2h0M164.5 790.8h0M261.3 719.9h0M197.3 757.9h0M200.9 757.6h0M189.3 767.7h0M146.5 806.8h0M155.3 798.6h0M174.3 781.2h0M225.9 739.3h0M143.2 811.0h0M119.4 842.8h0M236.7 733.6h0M249.1 726.8h0M255.4 722.9h0M222.3 740.7h0M115.7 846.4h0M146.5 808.4h0M272.3 714.4h0M243.4 727.3h0M268.6 715.2h0M248.9 725.4h0M282.9 709.3h0M253.0 724.6h0"/><path stroke="#9511a1" stroke-width="2.20" d="M154.2 808.6h0M146.2 814.5h0M248.2 734.4h0M157.9 805.4h0M274.3 724.0h0M276.9 720.1h0M166.1 798.3h0M242.8 736.8h0M232.5 743.5h0M269.2 726.1h0M160.1 803.9h0M177.2 787.1h0M175.7 789.3h0M198.6 768.9h0M150.7 812.2h0M286.9 716.7h0M125.9 843.1h0M194.9 771.0h0M246.0 736.3h0M128.2 842.2h0M208.7 759.0h0M136.8 829.0h0M152.7 809.1h0M291.2 712.7h0M125.0 844.0h0M154.2 809.2h0M283.7 719.2h0M155.3 808.4h0M146.1 814.6h0M132.4 835.8h0M274.8 721.7h0M251.8 734.3h0M147.0 813.6h0M190.4 773.3h0M207.2 759.8h0M208.6 759.7h0M139.7 823.4h0M163.5 798.4h0M283.6 718.4h0M282.7 719.1h0M156.1 805.5h0M208.2 759.4h0M229.6 744.6h0M194.4 771.4h0M280.3 720.2h0M271.6 724.4h0M200.5 765.3h0M228.3 747.2h0M274.3 722.0h0M252.3 733.5h0M239.5 740.5h0M229.6 744.1h0M186.3 777.8h0M131.6 836.7h0M183.1 781.9h0M280.1 719.3h0M178.4 786.2h0M178.9 786.3h0M158.1 803.4h0M285.8 717.5h0M163.2 800.8h0M160.5 801.2h0M281.1 719.1h0M127.8 841.2h0M152.1 809.1h0M159.3 802.4h0M264.9 728.2h0M186.7 778.0h0M222.4 750.6h0M211.5 757.7h0M258.4 729.1h0M254.7 732.5h0M200.9 766.4h0"/><path stroke="#7501a8" stroke-width="2.20" d="M136.5 824.2h0M152.8 804.9h0M247.4 730.6h0M276.5 716.7h0M270.3 719.1h0M238.6 733.7h0M210.5 750.9h0M163.0 794.7h0M173.9 784.6h0M157.9 799.7h0M165.7 791.1h0M280.0 712.4h0M226.4 741.2h0M129.3 835.2h0M129.0 834.2h0M119.9 844.4h0M189.8 770.0h0M146.4 809.0h0M134.2 828.5h0M166.0 790.2h0M171.1 785.5h0M183.8 775.8h0M202.3 757.9h0M122.4 843.0h0M220.2 744.3h0M195.8 763.5h0M172.6 786.6h0M169.4 787.4h0M127.8 836.6h0M168.3 790.5h0M260.6 723.8h0M186.0 772.9h0M260.3 723.1h0M199.8 760.0h0M204.6 757.4h0M284.1 712.4h0M260.0 724.4h0M200.6 760.0h0M226.8 742.6h0M247.8 728.0h0M153.4 804.5h0M134.3 828.3h0M200.0 761.2h0M243.1 732.0h0M161.2 795.3h0M224.7 742.1h0M156.9 800.4h0M178.3 781.0h0M287.5 709.2h0M287.8 708.9h0M267.3 720.6h0M158.2 798.1h0M286.7 711.2h0M285.9 712.0h0M193.7 764.4h0M141.1 815.8h0M122.7 841.8h0M129.4 835.6h0M127.3 836.4h0M263.9 722.3h0M249.0 728.8h0M164.8 792.3h0M146.7 810.1h0M136.1 824.0h0M122.3 843.4h0M282.5 711.6h0M202.5 757.3h0M157.9 797.9h0M127.3 838.3h0M150.7 807.0h0M202.1 757.2h0M224.3 743.5h0M149.2 807.7h0M279.7 712.5h0M162.1 795.1h0M284.2 709.9h0M177.0 780.9h0M135.9 825.3h0"/><path stroke="#fccd25" stroke-width="2.20" d="M280.3 760.9h0M252.4 774.3h0M272.9 766.7h0M245.6 777.7h0M233.7 784.8h0M237.7 782.8h0M241.5 782.1h0M204.7 804.7h0M280.2 761.6h0M276.3 762.9h0M270.6 766.5h0M268.2 768.1h0M209.6 802.4h0M265.9 771.1h0M253.5 773.7h0M237.9 784.1h0M230.6 789.0h0M255.5 775.0h0M227.4 790.0h0M268.1 769.0h0M285.4 759.7h0M245.5 779.8h0M290.6 758.2h0M229.6 788.7h0M271.1 766.4h0M203.2 805.6h0M266.7 769.5h0M207.7 804.2h0M290.3 755.4h0M253.8 775.5h0M291.0 755.4h0M272.6 765.4h0M285.7 759.7h0M267.4 768.3h0M222.3 793.7h0M215.5 795.2h0"/><path stroke="#fdac33" stroke-width="2.20" d="M197.7 805.3h0M219.2 789.5h0M193.9 808.9h0M270.8 761.0h0M261.7 764.5h0M277.1 757.2h0M265.3 763.2h0M266.0 763.3h0M216.2 789.8h0M275.7 758.0h0M276.0 756.9h0M289.3 751.6h0M200.7 802.6h0M232.6 779.5h0M273.3 761.0h0M243.6 775.0h0M230.7 782.8h0M261.1 766.0h0M289.7 752.5h0M246.8 771.5h0M252.0 769.7h0M200.2 801.5h0M226.0 783.1h0M196.7 804.2h0M204.1 799.6h0M208.4 795.5h0M280.2 755.7h0M235.6 779.1h0M222.8 784.7h0M255.8 769.3h0M277.8 756.4h0M231.4 781.7h0M259.0 767.7h0M189.4 810.5h0M216.7 790.5h0M253.7 769.1h0M262.0 766.1h0"/><path stroke="#0b800b" stroke-width="3.50" d="M181.6 799.7h0M163.9 813.5h0M162.9 814.5h0M234.2 758.7h0M153.0 824.8h0M264.6 744.2h0M169.8 809.3h0M224.5 764.3h0M227.0 763.5h0M156.4 820.3h0M185.1 796.4h0M198.1 784.3h0M237.6 756.9h0M250.5 749.6h0M236.3 758.9h0M144.9 830.7h0M275.5 739.6h0M265.1 743.7h0M245.7 753.4h0M266.9 743.9h0M202.5 780.7h0M244.9 753.6h0M176.4 802.5h0M150.1 825.6h0M280.1 736.8h0M195.6 787.2h0M190.4 791.6h0M264.2 744.9h0M171.7 807.5h0M147.3 829.0h0M271.7 740.9h0M218.1 768.9h0M272.9 739.8h0M176.0 803.9h0M247.4 751.4h0M222.8 765.7h0M208.1 776.4h0M190.5 791.3h0M162.0 815.6h0M155.4 822.3h0M186.9 794.2h0M255.9 747.8h0M260.2 745.6h0M203.5 780.0h0M187.4 793.6h0M142.5 832.5h0M287.5 731.8h0M276.8 738.3h0M270.3 741.5h0M215.7 770.3h0M210.6 774.7h0M225.0 764.7h0M267.6 742.8h0M224.2 765.5h0M260.9 745.6h0M207.4 777.2h0M147.3 828.8h0M191.0 790.7h0M166.4 812.0h0M207.0 777.4h0M177.8 801.9h0M277.5 737.2h0M193.4 788.5h0M284.0 734.3h0M178.4 802.0h0M230.9 761.8h0M189.5 790.7h0M247.9 752.0h0M189.8 791.2h0M146.6 829.5h0M246.6 752.8h0M147.5 829.3h0M289.3 731.2h0M254.9 748.1h0M174.0 805.6h0M279.7 737.4h0M190.6 791.0h0M255.2 748.3h0M159.3 819.0h0M256.1 747.3h0"/></g></g></g><g fill="none" stroke="#8a8a8a" stroke-width="1.6"><rect x="63.0" y="505.0" width="249.2" height="185.9"/><rect x="312.2" y="505.0" width="248.6" height="185.9"/><rect x="63.0" y="690.9" width="249.2" height="186.4"/></g><path fill="none" stroke="#8a8a8a" stroke-width="1" d="M103.8 505.0v-3.5M103.8 690.9v-3.5M145.3 505.0v-3.5M145.3 690.9v-3.5M186.9 505.0v-3.5M186.9 690.9v-3.5M228.4 505.0v-3.5M228.4 690.9v-3.5M270.0 505.0v-3.5M270.0 690.9v-3.5M312.2 505.0v-3.5M367.4 505.0v-3.5M422.7 505.0v-3.5M477.9 505.0v-3.5M533.2 505.0v-3.5M63.0 505.0h-3.5M312.2 505.0h-3.5M63.0 542.2h-3.5M312.2 542.2h-3.5M63.0 579.4h-3.5M312.2 579.4h-3.5M63.0 616.5h-3.5M312.2 616.5h-3.5M63.0 653.7h-3.5M312.2 653.7h-3.5M63.0 690.9h-3.5M312.2 690.9h-3.5M63.0 711.6h-3.5M63.0 753.0h-3.5M63.0 794.5h-3.5M63.0 835.9h-3.5M63.0 877.3h-3.5"/><text transform="translate(103.8,495.7) scale(1.045,1)" text-anchor="middle" font-size="15.0">50</text><text transform="translate(145.3,495.7) scale(1.045,1)" text-anchor="middle" font-size="15.0">150</text><text transform="translate(186.9,495.7) scale(1.045,1)" text-anchor="middle" font-size="15.0">250</text><text transform="translate(228.4,495.7) scale(1.045,1)" text-anchor="middle" font-size="15.0">350</text><text transform="translate(270.0,495.7) scale(1.045,1)" text-anchor="middle" font-size="15.0">450</text><text transform="translate(312.5,495.7) scale(1.085,1)" text-anchor="middle" font-size="15.0">−<tspan dx="1.6">8</tspan></text><text transform="translate(367.7,495.7) scale(1.085,1)" text-anchor="middle" font-size="15.0">−<tspan dx="1.6">6</tspan></text><text transform="translate(423.0,495.7) scale(1.085,1)" text-anchor="middle" font-size="15.0">−<tspan dx="1.6">4</tspan></text><text transform="translate(478.2,495.7) scale(1.085,1)" text-anchor="middle" font-size="15.0">−<tspan dx="1.6">2</tspan></text><text transform="translate(533.2,495.7) scale(1.045,1)" text-anchor="middle" font-size="15.0">0</text><text transform="translate(56.6,510.9) scale(0.970,1)" text-anchor="end" font-size="15.0">12</text><text transform="translate(56.6,548.1) scale(0.970,1)" text-anchor="end" font-size="15.0">10</text><text transform="translate(56.6,585.3) scale(0.970,1)" text-anchor="end" font-size="15.0">8</text><text transform="translate(56.6,622.4) scale(0.970,1)" text-anchor="end" font-size="15.0">6</text><text transform="translate(56.6,659.6) scale(0.970,1)" text-anchor="end" font-size="15.0">4</text><text transform="translate(56.6,696.8) scale(0.970,1)" text-anchor="end" font-size="15.0">2</text><text transform="translate(56.6,717.5) scale(0.970,1)" text-anchor="end" font-size="15.0">0</text><text transform="translate(56.6,758.9) scale(1.100,1)" text-anchor="end" font-size="15.0">−<tspan dx="1.6">2</tspan></text><text transform="translate(56.6,800.4) scale(1.100,1)" text-anchor="end" font-size="15.0">−<tspan dx="1.6">4</tspan></text><text transform="translate(56.6,841.8) scale(1.100,1)" text-anchor="end" font-size="15.0">−<tspan dx="1.6">6</tspan></text><text transform="translate(56.6,883.2) scale(1.100,1)" text-anchor="end" font-size="15.0">−<tspan dx="1.6">8</tspan></text><text transform="translate(187.6,472.0) scale(0.98,1)" text-anchor="middle" font-size="17.5">T (C)</text><text transform="translate(437.0,470.6) scale(1.09,1)" text-anchor="middle" font-size="16.5">log(a<tspan font-size="10.5" font-style="italic" dx="0.3" dy="3">H</tspan><tspan font-size="7.5" dy="3.6">2</tspan><tspan dx="0.6" dy="-6.6">)</tspan></text><text transform="translate(22,599.5) rotate(-90)" text-anchor="middle" font-size="17">pH</text><text transform="translate(14.3,784.3) rotate(-90) scale(1.02,1)" text-anchor="middle" font-size="16.5">log(a<tspan font-size="10.5" font-style="italic" dx="0.3" dy="3">H</tspan><tspan font-size="7.5" dy="3.6">2</tspan><tspan dx="0.6" dy="-6.6">)</tspan></text><rect x="576.2" y="660.6" width="7.8" height="25.4" fill="#3a9a3a"/><linearGradient id="g2" x1="0" y1="0" x2="0" y2="1"><stop offset="0.000" stop-color="#f0f921"/><stop offset="0.042" stop-color="#f6e826"/><stop offset="0.083" stop-color="#fbd524"/><stop offset="0.125" stop-color="#fdc527"/><stop offset="0.167" stop-color="#fdb42f"/><stop offset="0.208" stop-color="#fca338"/><stop offset="0.250" stop-color="#f89540"/><stop offset="0.292" stop-color="#f3874a"/><stop offset="0.333" stop-color="#ed7953"/><stop offset="0.375" stop-color="#e66c5c"/><stop offset="0.417" stop-color="#de5f65"/><stop offset="0.458" stop-color="#d5536f"/><stop offset="0.500" stop-color="#cc4778"/><stop offset="0.542" stop-color="#c13b82"/><stop offset="0.583" stop-color="#b52f8c"/><stop offset="0.625" stop-color="#aa2395"/><stop offset="0.667" stop-color="#9c179e"/><stop offset="0.708" stop-color="#8d0ba5"/><stop offset="0.750" stop-color="#7e03a8"/><stop offset="0.792" stop-color="#6e00a8"/><stop offset="0.833" stop-color="#5c01a6"/><stop offset="0.875" stop-color="#4c02a1"/><stop offset="0.917" stop-color="#3a049a"/><stop offset="0.958" stop-color="#260591"/><stop offset="1.000" stop-color="#0d0887"/></linearGradient><rect x="586.0" y="505.7" width="28.7" height="362.8" fill="url(#g2)" stroke="#8a7a6a" stroke-width="0.8"/><path fill="none" stroke="#8c8c8c" stroke-width="1" d="M614.7 505.7h3.5M614.7 566.2h3.5M614.7 626.6h3.5M614.7 687.1h3.5M614.7 747.6h3.5M614.7 808.0h3.5M614.7 868.5h3.5"/><text transform="translate(620.4,510.9) scale(1.045,1)" text-anchor="start" font-size="15.0">6</text><text transform="translate(620.4,571.4) scale(1.045,1)" text-anchor="start" font-size="15.0">4</text><text transform="translate(620.4,631.8) scale(1.045,1)" text-anchor="start" font-size="15.0">2</text><text transform="translate(620.4,692.3) scale(1.045,1)" text-anchor="start" font-size="15.0">0</text><text transform="translate(620.4,752.8) scale(1.085,1)" text-anchor="start" font-size="15.0">−<tspan dx="1.6">2</tspan></text><text transform="translate(620.4,813.2) scale(1.085,1)" text-anchor="start" font-size="15.0">−<tspan dx="1.6">4</tspan></text><text transform="translate(620.4,873.7) scale(1.085,1)" text-anchor="start" font-size="15.0">−<tspan dx="1.6">6</tspan></text><g transform="translate(672.0,724.5) rotate(-90)"><text x="0" y="1.0" font-size="16.5">log(</text><text x="51.8" y="-6.6" font-size="12.3" font-weight="normal" font-style="italic" text-anchor="middle" stroke="#000" stroke-width="0.35"><tspan font-style="normal">[</tspan>CO<tspan font-size="7.5" dy="2" font-style="normal">2</tspan><tspan dy="-2" font-style="normal">]</tspan></text><rect x="36.5" y="-3.6" width="30.7" height="1" fill="#333"/><text x="51.8" y="8.6" font-size="12.3" font-weight="normal" font-style="italic" text-anchor="middle" stroke="#000" stroke-width="0.35"><tspan font-style="normal">[</tspan>CH<tspan font-size="7.5" dy="2" font-style="normal">4</tspan><tspan dy="-2" font-style="normal">]</tspan></text><text x="67.8" y="0.5" font-size="16.5">)</text></g></svg></body></html>
